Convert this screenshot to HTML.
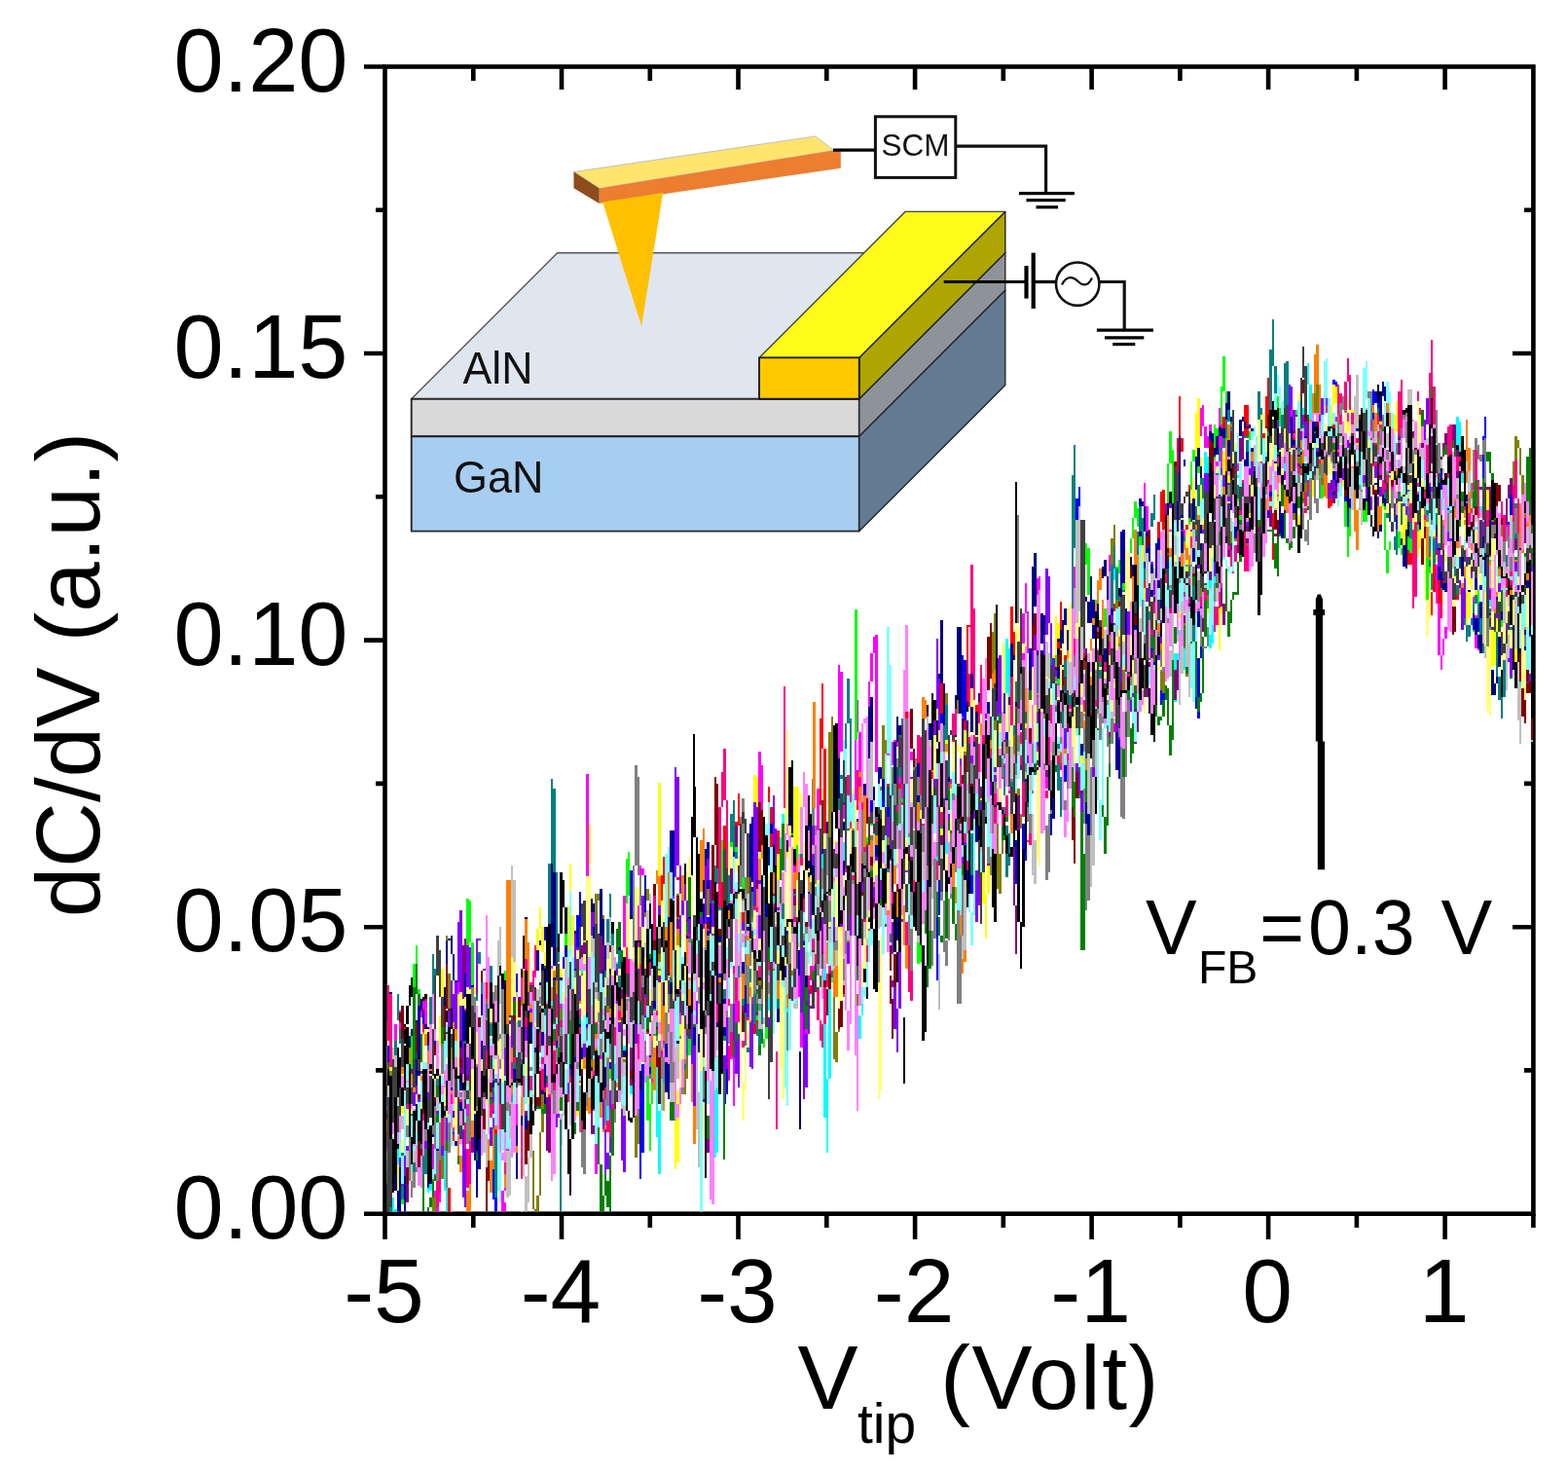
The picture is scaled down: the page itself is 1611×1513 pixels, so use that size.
<!DOCTYPE html>
<html><head><meta charset="utf-8"><title>dC/dV vs Vtip</title>
<style>html,body{margin:0;padding:0;background:#fff;width:1611px;height:1513px;overflow:hidden}</style>
</head><body>
<svg width="1611" height="1513" viewBox="0 0 1611 1513" style="display:block"><defs><clipPath id="pc"><rect x="397.8" y="70.8" width="1180" height="1173.6"/></clipPath></defs><rect x="395.5" y="68.5" width="1179.9" height="1178.2" fill="none" stroke="#000" stroke-width="4.6"/><path d="M374.0,1246.7H395.5M386.0,1099.4H395.5M1566.0,1099.4H1575.4M374.0,952.2H395.5M1554.0,952.2H1575.4M386.0,804.9H395.5M1566.0,804.9H1575.4M374.0,657.6H395.5M1554.0,657.6H1575.4M386.0,510.3H395.5M1566.0,510.3H1575.4M374.0,363.0H395.5M1554.0,363.0H1575.4M386.0,215.8H395.5M1566.0,215.8H1575.4M374.0,68.5H395.5M395.5,1246.7V1273.0M486.3,1246.7V1261.0M486.3,68.5V83.0M577.0,1246.7V1273.0M577.0,68.5V92.0M667.8,1246.7V1261.0M667.8,68.5V83.0M758.5,1246.7V1273.0M758.5,68.5V92.0M849.3,1246.7V1261.0M849.3,68.5V83.0M940.1,1246.7V1273.0M940.1,68.5V92.0M1030.8,1246.7V1261.0M1030.8,68.5V83.0M1121.6,1246.7V1273.0M1121.6,68.5V92.0M1212.4,1246.7V1261.0M1212.4,68.5V83.0M1303.1,1246.7V1273.0M1303.1,68.5V92.0M1393.9,1246.7V1261.0M1393.9,68.5V83.0M1484.6,1246.7V1273.0M1484.6,68.5V92.0M1575.4,1246.7V1261.0" stroke="#000" stroke-width="4.6" fill="none"/><g clip-path="url(#pc)" fill="none" stroke-width="2.40" shape-rendering="crispEdges"><path stroke="#000000" d="M396.7 1132V1160M399.1 1105V1132M401.5 1112V1175M403.9 1175V1225M406.3 1184V1218M408.7 1148V1184M411.1 1103V1148M413.5 1072V1103M415.9 1052V1072M418.3 1033V1052M420.7 1012V1033M423.1 1004V1024M425.5 1024V1050M427.9 1050V1081M430.3 1081V1110M432.7 1072V1115M435.1 1024V1072M437.5 1021V1055M439.9 1055V1086M442.3 1086V1103M444.7 1103V1120M447.1 1115V1117M449.5 1100V1115M451.9 1067V1100M454.3 1043V1067M456.7 1038V1043M459.1 1038V1050M461.4 1050V1076M463.8 1072V1086M466.2 1045V1072M468.6 1040V1062M471.0 1062V1093M473.4 1093V1115M475.8 1115V1134M478.2 1127V1136M480.6 1115V1127M483.0 1064V1115M485.4 1019V1064M487.8 1031V1096M490.2 1096V1144M492.6 1086V1132M495.0 1057V1086M497.4 1060V1064M499.8 1064V1086M502.2 1086V1124M504.6 1122V1141M507.0 1091V1122M509.4 1079V1091M511.8 1074V1079M514.2 1074V1076M516.6 1074V1076M519.0 1069V1074M521.4 1067V1069M523.8 1067V1076M526.2 1076V1088M528.6 1088V1122M531.0 1122V1148M533.4 1057V1132M535.8 995V1057M538.2 961V995M540.6 942V976M543.0 976V1050M545.4 1050V1084M547.8 1045V1069M550.2 1038V1045M552.6 1045V1060M555.0 1060V1081M557.4 1081V1110M559.8 1093V1112M562.2 1072V1093M564.6 1045V1072M567.0 1024V1045M569.4 1026V1050M571.8 1050V1072M574.2 959V1052M576.6 896V959M579.0 904V932M581.4 932V985M583.8 985V1074M586.2 1074V1117M588.6 1079V1103M591.0 1069V1096M593.3 1096V1136M595.7 1105V1146M598.1 1048V1105M600.5 1028V1048M602.9 1016V1028M605.3 1004V1016M607.7 992V1004M610.1 995V1019M612.5 1019V1038M614.9 1012V1033M617.3 997V1012M619.7 1002V1028M622.1 1021V1043M624.5 964V1021M626.9 932V964M629.3 947V971M631.7 971V988M634.1 988V997M636.5 997V1007M638.9 1007V1016M641.3 1016V1045M643.7 1045V1076M646.1 1033V1079M648.5 985V1033M650.9 988V1002M653.3 1002V1024M655.7 1024V1079M658.1 1079V1122M660.5 1055V1108M662.9 1021V1055M665.3 1028V1052M667.7 1052V1064M670.1 1031V1052M672.5 1021V1031M674.9 1028V1040M677.3 1040V1052M679.7 1052V1062M682.1 1055V1064M684.5 1043V1055M686.9 1043V1057M689.3 1057V1076M691.7 1004V1076M694.1 942V1004M696.5 947V1002M698.9 1002V1043M701.3 942V1026M703.7 887V942M706.1 896V920M708.5 906V935M710.9 839V906M713.3 808V860M715.7 860V964M718.1 964V1000M720.5 923V968M722.9 904V923M725.2 894V904M727.6 894V935M730.0 935V983M732.4 956V985M734.8 930V956M737.2 932V968M739.6 968V997M742.0 997V1000M744.4 995V1002M746.8 1002V1024M749.2 1002V1036M751.6 913V1002M754.0 870V913M756.4 896V947M758.8 947V992M761.2 992V1033M763.6 985V1045M766.0 904V985M768.4 892V904M770.8 901V913M773.2 913V940M775.6 940V968M778.0 968V1002M780.4 1002V1031M782.8 985V1026M785.2 954V985M787.6 959V978M790.0 978V990M792.4 990V992M794.8 961V992M797.2 894V961M799.6 865V894M802.0 872V884M804.4 884V899M806.8 899V916M809.2 863V920M811.6 788V863M814.0 781V860M816.4 860V947M818.8 937V947M821.2 930V937M823.6 930V932M826.0 932V935M828.4 920V932M830.8 913V923M833.2 923V954M835.6 954V973M838.0 925V959M840.4 911V940M842.8 940V992M845.2 964V1012M847.6 892V964M850.0 877V906M852.4 906V944M854.7 899V949M857.1 841V899M859.5 841V863M861.9 863V884M864.3 884V904M866.7 904V918M869.1 880V911M871.5 858V880M873.9 870V906M876.3 906V930M878.7 930V937M881.1 928V942M883.5 901V928M885.9 892V937M888.3 937V1009M890.7 947V1026M893.1 841V947M895.5 824V841M897.9 827V829M900.3 829V880M902.7 880V930M905.1 913V928M907.5 892V913M909.9 848V892M912.3 820V848M914.7 836V904M917.1 904V944M919.5 841V916M921.9 803V841M924.3 815V839M926.7 839V848M929.1 841V846M931.5 839V844M933.9 844V848M936.3 848V868M938.7 868V887M941.1 887V889M943.5 889V892M945.9 889V892M948.3 877V892M950.7 791V877M953.1 724V791M955.5 743V815M957.9 815V863M960.3 796V846M962.7 769V796M965.1 779V805M967.5 803V815M969.9 779V803M972.3 772V817M974.7 817V884M977.1 863V899M979.5 817V863M981.9 760V817M984.3 700V760M986.6 700V752M989.0 752V803M991.4 731V796M993.8 678V731M996.2 697V776M998.6 776V832M1001.0 822V829M1003.4 820V824M1005.8 824V836M1008.2 836V848M1010.6 848V860M1013.0 832V865M1015.4 776V832M1017.8 764V836M1020.2 836V932M1022.6 853V947M1025.0 748V853M1027.4 743V752M1029.8 752V762M1032.2 762V800M1034.6 800V834M1037.0 772V824M1039.4 736V772M1041.8 728V736M1044.2 716V728M1046.6 690V716M1049.0 676V719M1051.4 719V805M1053.8 793V836M1056.2 724V793M1058.6 704V724M1061.0 714V726M1063.4 726V745M1065.8 745V769M1068.2 769V774M1070.6 774V779M1073.0 755V776M1075.4 736V755M1077.8 736V738M1080.2 736V738M1082.6 731V736M1085.0 707V731M1087.4 652V707M1089.8 623V652M1092.2 649V704M1094.6 700V726M1097.0 656V700M1099.4 642V678M1101.8 678V731M1104.2 731V745M1106.6 745V750M1109.0 692V752M1111.4 630V692M1113.8 632V731M1116.2 731V820M1118.5 748V810M1120.9 697V748M1123.3 714V788M1125.7 788V836M1128.1 676V796M1130.5 608V676M1132.9 642V714M1135.3 714V745M1137.7 680V724M1140.1 666V683M1142.5 683V707M1144.9 668V714M1147.3 611V668M1149.7 604V613M1152.1 613V623M1154.5 623V625M1156.9 625V630M1159.3 630V632M1161.7 630V632M1164.1 630V635M1166.5 635V637M1168.9 637V640M1171.3 635V637M1173.7 628V635M1176.1 616V628M1178.5 596V616M1180.9 584V596M1183.3 575V584M1185.7 572V594M1188.1 594V625M1190.5 596V628M1192.9 560V596M1195.3 558V587M1197.7 587V616M1200.1 608V616M1202.5 599V608M1204.9 580V599M1207.3 565V580M1209.7 570V584M1212.1 584V592M1214.5 565V584M1216.9 553V565M1219.3 548V553M1221.7 546V556M1224.1 556V572M1226.5 563V577M1228.9 546V563M1231.3 541V556M1233.7 556V572M1236.1 570V575M1238.5 568V570M1240.9 568V570M1243.3 560V568M1245.7 512V560M1248.0 476V512M1250.4 488V539M1252.8 539V570M1255.2 565V570M1257.6 558V565M1260.0 546V558M1262.4 524V546M1264.8 498V524M1267.2 491V498M1269.6 498V510M1272.0 505V512M1274.4 496V505M1276.8 481V496M1279.2 467V481M1281.6 467V479M1284.0 479V491M1286.4 486V491M1288.8 484V488M1291.2 488V508M1293.6 508V520M1296.0 505V517M1298.4 498V505M1300.8 498V500M1303.2 476V500M1305.6 428V476M1308.0 412V428M1310.4 414V416M1312.8 416V450M1315.2 450V496M1317.6 488V503M1320.0 472V488M1322.4 469V472M1324.8 467V469M1327.2 467V491M1329.6 491V512M1332.0 488V508M1334.4 472V488M1336.8 467V472M1339.2 462V467M1341.6 457V462M1344.0 457V469M1346.4 469V491M1348.8 476V500M1351.2 438V476M1353.6 428V445M1356.0 445V469M1358.4 455V474M1360.8 433V455M1363.2 428V433M1365.6 424V428M1368.0 424V452M1370.4 452V476M1372.8 464V474M1375.2 452V464M1377.6 443V452M1379.9 438V448M1382.3 448V472M1384.7 472V484M1387.1 472V479M1389.5 467V472M1391.9 469V472M1394.3 467V472M1396.7 460V467M1399.1 457V488M1401.5 488V527M1403.9 527V532M1406.3 520V527M1408.7 496V520M1411.1 469V496M1413.5 428V469M1415.9 395V428M1418.3 402V431M1420.7 431V457M1423.1 457V484M1425.5 484V498M1427.9 457V486M1430.3 445V467M1432.7 467V505M1435.1 503V520M1437.5 479V503M1439.9 452V479M1442.3 421V452M1444.7 419V488M1447.1 488V570M1449.5 544V572M1451.9 520V544M1454.3 508V520M1456.7 498V508M1459.1 503V524M1461.5 524V548M1463.9 548V568M1466.3 551V577M1468.7 484V551M1471.1 452V484M1473.5 479V527M1475.9 520V544M1478.3 479V520M1480.7 469V491M1483.1 491V520M1485.5 498V522M1487.9 469V498M1490.3 467V524M1492.7 524V582M1495.1 510V580M1497.5 455V510M1499.9 462V505M1502.3 505V546M1504.7 546V572M1507.1 572V589M1509.5 572V584M1511.8 560V572M1514.2 548V560M1516.6 544V556M1519.0 556V572M1521.4 572V601M1523.8 601V632M1526.2 632V649M1528.6 649V659M1531.0 620V661M1533.4 577V620M1535.8 577V584M1538.2 584V601M1540.6 601V668M1543.0 668V721M1545.4 661V709M1547.8 623V661M1550.2 608V623M1552.6 601V608M1555.0 606V616M1557.4 616V620M1559.8 620V623M1562.2 580V623M1564.6 512V580M1567.0 498V565M1569.4 565V649M1571.8 611V659M1574.2 558V611"/><path stroke="#FF0000" d="M396.7 1134V1172M399.1 1100V1134M401.5 1103V1129M403.9 1129V1151M406.3 1124V1146M408.7 1100V1124M411.1 1069V1100M413.5 1052V1069M415.9 1055V1057M418.3 1057V1074M420.7 1074V1105M423.1 1105V1129M425.5 1129V1151M427.9 1151V1158M430.3 1141V1151M432.7 1088V1141M435.1 1028V1088M437.5 1026V1081M439.9 1081V1132M442.3 1124V1132M444.7 1117V1124M447.1 1103V1117M449.5 1093V1103M451.9 1096V1108M454.3 1103V1115M456.7 1076V1103M459.1 1062V1127M461.4 1127V1254M463.8 1225V1304M466.2 1096V1225M468.6 1060V1096M471.0 1064V1069M473.4 1055V1072M475.8 1036V1055M478.2 1016V1036M480.6 1000V1016M483.0 1002V1043M485.4 1043V1081M487.8 1081V1112M490.2 1112V1136M492.6 1074V1122M495.0 1036V1074M497.4 1014V1036M499.8 1002V1026M502.2 1026V1076M504.6 1076V1115M507.0 1115V1144M509.4 1144V1175M511.8 1175V1206M514.2 1156V1213M516.6 1084V1156M519.0 1055V1084M521.4 1031V1055M523.8 1031V1057M526.2 1057V1079M528.6 1079V1086M531.0 1086V1093M533.4 1093V1103M535.8 1103V1108M538.2 1093V1105M540.6 1067V1093M543.0 1028V1067M545.4 1009V1040M547.8 1040V1098M550.2 1093V1117M552.6 1057V1093M555.0 1024V1057M557.4 995V1024M559.8 990V995M562.2 992V997M564.6 995V997M567.0 995V1000M569.4 1000V1055M571.8 1055V1100M574.2 1064V1096M576.6 1043V1064M579.0 1045V1052M581.4 1052V1069M583.8 1069V1103M586.2 1103V1117M588.6 1072V1103M591.0 1062V1072M593.3 1072V1088M595.7 1050V1091M598.1 992V1050M600.5 985V1028M602.9 1028V1081M605.3 1081V1098M607.7 1098V1112M610.1 1064V1110M612.5 1028V1064M614.9 1038V1086M617.3 1086V1124M619.7 1117V1122M622.1 1093V1117M624.5 1040V1093M626.9 1012V1040M629.3 1007V1012M631.7 1000V1007M634.1 992V1000M636.5 988V992M638.9 988V990M641.3 988V1004M643.7 1004V1024M646.1 1024V1057M648.5 1057V1088M650.9 1088V1091M653.3 1079V1088M655.7 1019V1079M658.1 973V1019M660.5 990V1055M662.9 1055V1098M665.3 1000V1072M667.7 959V1000M670.1 983V1036M672.5 1036V1057M674.9 1052V1055M677.3 990V1052M679.7 899V990M682.1 880V956M684.5 956V1057M686.9 1050V1067M689.3 1031V1050M691.7 959V1031M694.1 896V959M696.5 901V949M698.9 949V995M701.3 995V1033M703.7 1033V1060M706.1 1031V1052M708.5 1009V1031M710.9 983V1009M713.3 961V983M715.7 944V961M718.1 940V966M720.5 966V1009M722.9 1009V1019M725.2 1009V1014M727.6 1002V1009M730.0 995V1002M732.4 961V995M734.8 928V961M737.2 930V956M739.6 956V978M742.0 896V964M744.4 848V896M746.8 870V949M749.2 949V997M751.6 964V988M754.0 916V964M756.4 844V916M758.8 815V848M761.2 848V901M763.6 901V954M766.0 954V1009M768.4 980V1019M770.8 937V980M773.2 935V997M775.6 997V1062M778.0 968V1057M780.4 894V968M782.8 904V961M785.2 961V1002M787.6 872V976M790.0 808V872M792.4 829V884M794.8 884V916M797.2 868V899M799.6 853V911M802.0 911V1007M804.4 992V1036M806.8 928V992M809.2 906V928M811.6 896V906M814.0 896V899M816.4 896V899M818.8 868V899M821.2 841V868M823.6 844V868M826.0 868V904M828.4 904V976M830.8 976V1024M833.2 1012V1021M835.6 983V1012M838.0 928V983M840.4 844V928M842.8 738V844M845.2 702V769M847.6 769V870M850.0 870V892M852.4 892V894M854.7 892V896M857.1 896V899M859.5 899V906M861.9 906V916M864.3 916V930M866.7 930V944M869.1 944V961M871.5 961V973M873.9 920V961M876.3 880V920M878.7 832V880M881.1 810V832M883.5 820V836M885.9 836V870M888.3 870V916M890.7 875V928M893.1 805V875M895.5 793V824M897.9 824V858M900.3 858V877M902.7 877V894M905.1 872V894M907.5 848V872M909.9 824V848M912.3 805V824M914.7 803V805M917.1 800V815M919.5 815V846M921.9 834V863M924.3 776V834M926.7 740V776M929.1 721V740M931.5 716V784M933.9 784V882M936.3 882V918M938.7 918V940M941.1 877V942M943.5 808V877M945.9 810V863M948.3 863V911M950.7 887V906M953.1 868V887M955.5 844V868M957.9 827V844M960.3 824V827M962.7 796V824M965.1 731V796M967.5 702V733M969.9 733V786M972.3 786V803M974.7 776V793M977.1 764V776M979.5 755V764M981.9 743V755M984.3 733V743M986.6 733V786M989.0 786V834M991.4 721V822M993.8 642V721M996.2 642V644M998.6 642V664M1001.0 664V724M1003.4 724V762M1005.8 762V776M1008.2 776V781M1010.6 769V776M1013.0 767V774M1015.4 774V784M1017.8 769V786M1020.2 748V769M1022.6 745V779M1025.0 779V817M1027.4 784V817M1029.8 752V784M1032.2 755V764M1034.6 757V772M1037.0 678V757M1039.4 623V678M1041.8 649V740M1044.2 740V793M1046.6 748V781M1049.0 731V748M1051.4 731V733M1053.8 728V731M1056.2 726V728M1058.6 700V726M1061.0 666V700M1063.4 659V724M1065.8 724V798M1068.2 781V803M1070.6 755V781M1073.0 714V755M1075.4 680V714M1077.8 685V721M1080.2 721V750M1082.6 750V760M1085.0 738V767M1087.4 659V738M1089.8 618V659M1092.2 637V673M1094.6 673V688M1097.0 666V680M1099.4 664V680M1101.8 680V704M1104.2 704V721M1106.6 721V733M1109.0 697V736M1111.4 656V697M1113.8 659V714M1116.2 714V767M1118.5 767V791M1120.9 791V810M1123.3 731V796M1125.7 688V731M1128.1 692V709M1130.5 709V719M1132.9 683V709M1135.3 671V683M1137.7 673V676M1140.1 656V676M1142.5 628V656M1144.9 620V628M1147.3 628V637M1149.7 637V668M1152.1 668V704M1154.5 654V704M1156.9 606V654M1159.3 611V659M1161.7 659V697M1164.1 697V700M1166.5 671V700M1168.9 577V671M1171.3 524V577M1173.7 534V563M1176.1 563V604M1178.5 604V656M1180.9 647V676M1183.3 599V647M1185.7 577V599M1188.1 565V577M1190.5 536V565M1192.9 505V536M1195.3 503V546M1197.7 546V589M1200.1 589V611M1202.5 611V632M1204.9 575V623M1207.3 520V575M1209.7 450V520M1212.1 407V450M1214.5 450V565M1216.9 565V625M1219.3 524V592M1221.7 498V524M1224.1 512V536M1226.5 536V548M1228.9 548V558M1231.3 558V568M1233.7 568V580M1236.1 580V594M1238.5 594V606M1240.9 563V604M1243.3 527V563M1245.7 527V529M1248.0 527V532M1250.4 515V527M1252.8 493V515M1255.2 457V493M1257.6 428V457M1260.0 412V428M1262.4 404V433M1264.8 433V481M1267.2 481V498M1269.6 467V486M1272.0 462V467M1274.4 467V474M1276.8 448V474M1279.2 416V448M1281.6 416V460M1284.0 460V496M1286.4 496V498M1288.8 496V498M1291.2 496V498M1293.6 491V496M1296.0 474V491M1298.4 445V474M1300.8 407V445M1303.2 388V440M1305.6 440V541M1308.0 527V575M1310.4 452V527M1312.8 436V460M1315.2 460V493M1317.6 493V498M1320.0 488V493M1322.4 488V517M1324.8 517V544M1327.2 484V539M1329.6 438V484M1332.0 445V481M1334.4 481V508M1336.8 464V498M1339.2 445V464M1341.6 448V457M1344.0 457V462M1346.4 457V460M1348.8 457V460M1351.2 457V460M1353.6 457V460M1356.0 455V457M1358.4 452V455M1360.8 450V452M1363.2 450V486M1365.6 486V522M1368.0 472V520M1370.4 428V472M1372.8 436V469M1375.2 469V493M1377.6 464V488M1379.9 450V464M1382.3 457V481M1384.7 481V493M1387.1 493V496M1389.5 467V493M1391.9 426V467M1394.3 412V433M1396.7 433V462M1399.1 462V479M1401.5 479V493M1403.9 474V496M1406.3 450V474M1408.7 450V481M1411.1 481V508M1413.5 469V503M1415.9 443V469M1418.3 438V443M1420.7 433V438M1423.1 438V452M1425.5 452V469M1427.9 469V491M1430.3 491V508M1432.7 508V515M1435.1 515V517M1437.5 510V515M1439.9 510V517M1442.3 517V527M1444.7 527V551M1447.1 551V580M1449.5 548V580M1451.9 520V548M1454.3 512V520M1456.7 508V512M1459.1 512V544M1461.5 544V563M1463.9 556V560M1466.3 551V570M1468.7 570V613M1471.1 608V632M1473.5 560V608M1475.9 541V572M1478.3 572V620M1480.7 599V635M1483.1 548V599M1485.5 541V548M1487.9 544V548M1490.3 548V592M1492.7 592V635M1495.1 616V635M1497.5 601V616M1499.9 599V601M1502.3 599V601M1504.7 601V616M1507.1 616V623M1509.5 618V620M1511.8 616V618M1514.2 616V618M1516.6 601V618M1519.0 572V601M1521.4 565V592M1523.8 592V628M1526.2 628V644M1528.6 644V654M1531.0 632V656M1533.4 604V632M1535.8 570V604M1538.2 539V570M1540.6 539V541M1543.0 541V551M1545.4 551V592M1547.8 592V620M1550.2 620V630M1552.6 628V635M1555.0 616V628M1557.4 608V649M1559.8 649V721M1562.2 685V745M1564.6 599V685M1567.0 546V599M1569.4 503V546M1571.8 498V560M1574.2 560V630"/><path stroke="#00FF00" d="M396.7 1180V1213M399.1 1151V1180M401.5 1153V1170M403.9 1170V1184M406.3 1146V1177M408.7 1127V1146M411.1 1146V1204M413.5 1204V1237M415.9 1129V1204M418.3 1096V1129M420.7 1098V1105M423.1 1062V1108M425.5 990V1062M427.9 971V1016M430.3 1016V1079M432.7 1079V1115M435.1 1115V1148M437.5 1148V1153M439.9 1153V1156M442.3 1146V1153M444.7 1134V1146M447.1 1108V1134M449.5 1086V1108M451.9 1086V1088M454.3 1084V1086M456.7 1081V1084M459.1 1069V1081M461.4 1048V1069M463.8 1038V1055M466.2 1055V1081M468.6 1081V1086M471.0 1072V1081M473.4 1072V1074M475.8 1074V1076M478.2 1000V1076M480.6 923V1000M483.0 925V968M485.4 968V1014M487.8 1014V1069M490.2 1069V1112M492.6 1112V1115M495.0 1115V1129M497.4 1129V1160M499.8 1153V1180M502.2 1100V1153M504.6 1076V1100M507.0 1098V1136M509.4 1136V1151M511.8 1151V1156M514.2 1088V1158M516.6 1004V1088M519.0 997V1105M521.4 1105V1223M523.8 1122V1220M526.2 1036V1122M528.6 1038V1060M531.0 1060V1086M533.4 1086V1127M535.8 1120V1151M538.2 1026V1120M540.6 973V1026M543.0 988V1021M545.4 1021V1036M547.8 1036V1038M550.2 1036V1038M552.6 1038V1045M555.0 1028V1045M557.4 1007V1028M559.8 1002V1014M562.2 1014V1028M564.6 1028V1040M567.0 1040V1055M569.4 1055V1096M571.8 1096V1129M574.2 1124V1129M576.6 1096V1124M579.0 1009V1096M581.4 959V1009M583.8 971V1000M586.2 1000V1033M588.6 1033V1074M591.0 1060V1088M593.3 1016V1060M595.7 995V1016M598.1 978V995M600.5 976V1024M602.9 1024V1079M605.3 1031V1081M607.7 983V1031M610.1 988V1060M612.5 1060V1120M614.9 1076V1115M617.3 1048V1076M619.7 1055V1079M622.1 1079V1096M624.5 1096V1103M626.9 1088V1108M629.3 1050V1088M631.7 1026V1050M634.1 1012V1026M636.5 1007V1026M638.9 1026V1052M641.3 978V1057M643.7 882V978M646.1 875V920M648.5 920V971M650.9 971V1021M653.3 1021V1064M655.7 971V1052M658.1 911V971M660.5 932V1019M662.9 1019V1093M665.3 1093V1151M667.7 1134V1182M670.1 1026V1134M672.5 980V1026M674.9 1026V1108M677.3 1105V1132M679.7 1067V1105M682.1 1057V1072M684.5 1072V1086M686.9 983V1088M689.3 865V983M691.7 865V918M694.1 918V964M696.5 959V964M698.9 954V964M701.3 964V1002M703.7 1002V1038M706.1 1038V1067M708.5 1067V1084M710.9 1055V1074M713.3 1019V1055M715.7 968V1019M718.1 949V968M720.5 961V978M722.9 942V983M725.2 889V942M727.6 882V932M730.0 932V992M732.4 956V995M734.8 916V956M737.2 882V916M739.6 856V882M742.0 863V906M744.4 906V935M746.8 899V928M749.2 870V899M751.6 846V870M754.0 834V851M756.4 851V884M758.8 884V896M761.2 887V894M763.6 887V916M766.0 916V959M768.4 949V966M770.8 928V949M773.2 925V980M775.6 980V1036M778.0 1036V1048M780.4 1048V1060M782.8 1060V1069M785.2 1067V1076M787.6 1028V1067M790.0 1004V1028M792.4 1009V1021M794.8 1007V1026M797.2 964V1007M799.6 944V964M802.0 961V988M804.4 961V997M806.8 911V961M809.2 882V911M811.6 858V882M814.0 856V858M816.4 858V863M818.8 863V908M821.2 908V949M823.6 949V961M826.0 961V971M828.4 916V961M830.8 887V916M833.2 894V913M835.6 913V935M838.0 935V959M840.4 959V968M842.8 937V959M845.2 923V937M847.6 913V923M850.0 908V949M852.4 949V1002M854.7 952V1009M857.1 887V952M859.5 872V887M861.9 860V872M864.3 860V865M866.7 865V880M869.1 880V925M871.5 925V959M873.9 923V949M876.3 906V923M878.7 908V911M881.1 899V911M883.5 877V899M885.9 870V880M888.3 880V896M890.7 860V901M893.1 808V860M895.5 800V848M897.9 848V906M900.3 906V911M902.7 908V911M905.1 875V908M907.5 848V875M909.9 848V853M912.3 853V860M914.7 860V868M917.1 865V872M919.5 848V865M921.9 832V848M924.3 820V832M926.7 812V829M929.1 829V856M931.5 856V865M933.9 853V860M936.3 848V853M938.7 844V848M941.1 844V916M943.5 916V990M945.9 875V988M948.3 779V875M950.7 781V800M953.1 800V815M955.5 764V805M957.9 738V764M960.3 755V796M962.7 796V820M965.1 774V805M967.5 760V781M969.9 781V815M972.3 815V827M974.7 796V815M977.1 767V796M979.5 738V767M981.9 733V781M984.3 781V834M986.6 822V834M989.0 812V822M991.4 812V815M993.8 815V820M996.2 820V824M998.6 812V827M1001.0 767V812M1003.4 733V767M1005.8 719V733M1008.2 709V719M1010.6 714V719M1013.0 700V721M1015.4 666V700M1017.8 656V680M1020.2 680V714M1022.6 714V760M1025.0 760V808M1027.4 762V810M1029.8 716V762M1032.2 697V716M1034.6 680V697M1037.0 690V733M1039.4 733V764M1041.8 726V755M1044.2 707V726M1046.6 716V740M1049.0 740V750M1051.4 745V748M1053.8 740V745M1056.2 738V740M1058.6 724V738M1061.0 707V724M1063.4 692V707M1065.8 678V692M1068.2 676V678M1070.6 673V676M1073.0 676V728M1075.4 728V772M1077.8 762V769M1080.2 740V762M1082.6 688V740M1085.0 654V688M1087.4 668V704M1089.8 704V726M1092.2 726V733M1094.6 733V750M1097.0 750V772M1099.4 745V776M1101.8 697V745M1104.2 690V704M1106.6 704V724M1109.0 668V724M1111.4 606V668M1113.8 580V606M1116.2 558V580M1118.5 563V611M1120.9 611V647M1123.3 628V644M1125.7 616V628M1128.1 616V618M1130.5 613V618M1132.9 618V625M1135.3 625V644M1137.7 644V673M1140.1 673V695M1142.5 695V714M1144.9 659V716M1147.3 582V659M1149.7 575V589M1152.1 589V606M1154.5 594V606M1156.9 580V594M1159.3 568V580M1161.7 553V568M1164.1 532V553M1166.5 515V532M1168.9 522V541M1171.3 541V594M1173.7 594V688M1176.1 688V733M1178.5 644V702M1180.9 620V644M1183.3 620V623M1185.7 596V620M1188.1 568V596M1190.5 563V618M1192.9 618V683M1195.3 604V688M1197.7 520V604M1200.1 476V520M1202.5 443V476M1204.9 462V572M1207.3 572V654M1209.7 594V642M1212.1 565V594M1214.5 570V577M1216.9 570V582M1219.3 546V570M1221.7 512V546M1224.1 474V512M1226.5 462V474M1228.9 464V469M1231.3 469V486M1233.7 486V505M1236.1 505V517M1238.5 517V524M1240.9 524V539M1243.3 539V551M1245.7 481V544M1248.0 436V481M1250.4 440V462M1252.8 455V474M1255.2 397V455M1257.6 366V402M1260.0 402V479M1262.4 479V512M1264.8 491V503M1267.2 486V491M1269.6 491V498M1272.0 498V524M1274.4 524V556M1276.8 539V558M1279.2 515V539M1281.6 479V515M1284.0 443V479M1286.4 450V496M1288.8 496V534M1291.2 505V529M1293.6 491V505M1296.0 496V510M1298.4 510V520M1300.8 491V510M1303.2 481V491M1305.6 491V508M1308.0 476V512M1310.4 419V476M1312.8 407V419M1315.2 419V438M1317.6 438V469M1320.0 469V503M1322.4 464V505M1324.8 428V464M1327.2 428V433M1329.6 433V438M1332.0 421V436M1334.4 409V421M1336.8 419V445M1339.2 445V462M1341.6 450V460M1344.0 438V450M1346.4 424V438M1348.8 419V433M1351.2 433V460M1353.6 460V484M1356.0 484V508M1358.4 484V512M1360.8 448V484M1363.2 433V448M1365.6 419V433M1368.0 421V452M1370.4 452V479M1372.8 479V488M1375.2 488V498M1377.6 474V493M1379.9 462V484M1382.3 484V541M1384.7 541V572M1387.1 505V551M1389.5 486V505M1391.9 491V498M1394.3 498V508M1396.7 508V512M1399.1 512V524M1401.5 524V536M1403.9 488V536M1406.3 438V488M1408.7 438V457M1411.1 457V474M1413.5 474V481M1415.9 481V488M1418.3 488V498M1420.7 498V520M1423.1 520V565M1425.5 565V589M1427.9 512V565M1430.3 491V512M1432.7 500V522M1435.1 522V541M1437.5 541V563M1439.9 563V570M1442.3 570V575M1444.7 565V575M1447.1 551V565M1449.5 551V568M1451.9 568V584M1454.3 563V582M1456.7 539V563M1459.1 498V539M1461.5 469V498M1463.9 493V572M1466.3 572V620M1468.7 558V601M1471.1 529V558M1473.5 512V529M1475.9 508V522M1478.3 522V544M1480.7 544V556M1483.1 556V563M1485.5 563V565M1487.9 563V565M1490.3 556V565M1492.7 548V556M1495.1 551V582M1497.5 582V608M1499.9 584V604M1502.3 570V584M1504.7 570V572M1507.1 570V580M1509.5 580V599M1511.8 599V623M1514.2 623V649M1516.6 632V659M1519.0 592V632M1521.4 575V592M1523.8 570V575M1526.2 570V594M1528.6 594V623M1531.0 601V625M1533.4 575V601M1535.8 575V632M1538.2 632V680M1540.6 644V676M1543.0 618V644M1545.4 604V618M1547.8 596V604M1550.2 604V625M1552.6 625V640M1555.0 640V644M1557.4 644V659M1559.8 659V683M1562.2 666V690M1564.6 630V666M1567.0 623V630M1569.4 630V642M1571.8 642V668M1574.2 668V692"/><path stroke="#0000FF" d="M396.7 1124V1180M399.1 1074V1124M401.5 1076V1103M403.9 1103V1124M406.3 1117V1122M408.7 1112V1124M411.1 1124V1158M413.5 1158V1177M415.9 1115V1158M418.3 1093V1115M420.7 1098V1105M423.1 1105V1134M425.5 1134V1172M427.9 1165V1182M430.3 1144V1165M432.7 1103V1144M435.1 1060V1103M437.5 1057V1132M439.9 1132V1199M442.3 1117V1194M444.7 1057V1117M447.1 1062V1100M449.5 1100V1127M451.9 1110V1124M454.3 1100V1110M456.7 1100V1103M459.1 1100V1120M461.4 1120V1156M463.8 1141V1170M466.2 1093V1141M468.6 1072V1093M471.0 1060V1072M473.4 1026V1060M475.8 988V1026M478.2 985V1014M480.6 1014V1043M483.0 1043V1072M485.4 1072V1096M487.8 1096V1115M490.2 1115V1129M492.6 1129V1134M495.0 1120V1139M497.4 1064V1120M499.8 1038V1064M502.2 1048V1072M504.6 1072V1136M507.0 1136V1232M509.4 1218V1261M511.8 1158V1218M514.2 1110V1158M516.6 1064V1110M519.0 1052V1064M521.4 1040V1052M523.8 1040V1067M526.2 1067V1091M528.6 1036V1084M531.0 1000V1036M533.4 1024V1124M535.8 1124V1189M538.2 1156V1182M540.6 1144V1156M543.0 1144V1148M545.4 1134V1151M547.8 1100V1134M550.2 1055V1100M552.6 1002V1055M555.0 973V1002M557.4 954V973M559.8 952V966M562.2 966V983M564.6 983V1031M567.0 1031V1076M569.4 1038V1072M571.8 1009V1038M574.2 1016V1060M576.6 1060V1088M579.0 1040V1076M581.4 1019V1040M583.8 1028V1045M586.2 1045V1067M588.6 1067V1088M591.0 1038V1098M593.3 940V1038M595.7 916V971M598.1 971V1048M600.5 1048V1060M602.9 1052V1055M605.3 1052V1076M607.7 1076V1103M610.1 1086V1103M612.5 1072V1086M614.9 1064V1072M617.3 1057V1064M619.7 1064V1086M622.1 1086V1098M624.5 1098V1100M626.9 1084V1098M629.3 1052V1084M631.7 1036V1052M634.1 1028V1036M636.5 1024V1048M638.9 1048V1081M641.3 1057V1086M643.7 1021V1057M646.1 959V1021M648.5 894V959M650.9 894V942M653.3 942V1000M655.7 1000V1120M658.1 1120V1211M660.5 1074V1184M662.9 1004V1074M665.3 1007V1014M667.7 1009V1016M670.1 997V1009M672.5 978V997M674.9 954V978M677.3 947V959M679.7 959V980M682.1 956V983M684.5 923V956M686.9 920V966M689.3 966V1019M691.7 1019V1031M694.1 1031V1040M696.5 1036V1040M698.9 1031V1036M701.3 1031V1036M703.7 1033V1038M706.1 1021V1033M708.5 1012V1021M710.9 1000V1012M713.3 995V1012M715.7 1012V1043M718.1 1028V1055M720.5 988V1028M722.9 964V988M725.2 944V964M727.6 942V961M730.0 961V980M732.4 980V983M734.8 980V983M737.2 980V997M739.6 997V1021M742.0 1021V1086M744.4 1086V1134M746.8 1096V1124M749.2 1024V1096M751.6 892V1024M754.0 824V892M756.4 877V980M758.8 980V1021M761.2 980V1004M763.6 966V980M766.0 956V966M768.4 928V956M770.8 894V928M773.2 892V906M775.6 906V920M778.0 872V918M780.4 832V872M782.8 834V856M785.2 856V892M787.6 892V968M790.0 968V1019M792.4 980V1009M794.8 949V980M797.2 911V949M799.6 896V923M802.0 923V968M804.4 968V983M806.8 959V973M809.2 956V959M811.6 956V959M814.0 956V959M816.4 959V961M818.8 961V971M821.2 971V980M823.6 973V980M826.0 949V973M828.4 872V949M830.8 822V872M833.2 846V916M835.6 916V956M838.0 904V940M840.4 882V904M842.8 875V882M845.2 872V906M847.6 906V959M850.0 956V968M852.4 942V956M854.7 899V942M857.1 856V899M859.5 856V904M861.9 904V949M864.3 911V947M866.7 882V911M869.1 889V920M871.5 920V942M873.9 937V940M876.3 932V937M878.7 928V932M881.1 916V928M883.5 901V916M885.9 894V916M888.3 916V949M890.7 896V959M893.1 815V896M895.5 800V834M897.9 834V872M900.3 863V875M902.7 851V863M905.1 832V851M907.5 817V832M909.9 820V829M912.3 829V839M914.7 839V851M917.1 846V860M919.5 812V846M921.9 796V829M924.3 829V894M926.7 894V923M929.1 923V928M931.5 928V932M933.9 932V942M936.3 923V942M938.7 901V923M941.1 899V901M943.5 901V904M945.9 904V918M948.3 918V930M950.7 858V920M953.1 810V858M955.5 805V810M957.9 803V841M960.3 841V949M962.7 940V1007M965.1 796V940M967.5 733V796M969.9 781V868M972.3 856V894M974.7 796V856M977.1 784V827M979.5 827V882M981.9 877V889M984.3 863V877M986.6 762V863M989.0 673V762M991.4 678V740M993.8 740V805M996.2 805V872M998.6 872V918M1001.0 896V913M1003.4 856V896M1005.8 784V856M1008.2 750V784M1010.6 757V767M1013.0 767V791M1015.4 791V822M1017.8 772V832M1020.2 692V772M1022.6 683V700M1025.0 700V721M1027.4 704V724M1029.8 688V704M1032.2 692V745M1034.6 745V791M1037.0 774V788M1039.4 762V784M1041.8 784V863M1044.2 863V908M1046.6 851V892M1049.0 832V851M1051.4 846V875M1053.8 841V884M1056.2 772V841M1058.6 752V772M1061.0 752V755M1063.4 731V752M1065.8 704V731M1068.2 704V769M1070.6 769V836M1073.0 798V834M1075.4 767V798M1077.8 762V767M1080.2 750V762M1082.6 724V750M1085.0 704V724M1087.4 702V704M1089.8 700V726M1092.2 726V779M1094.6 779V803M1097.0 798V800M1099.4 784V798M1101.8 762V784M1104.2 649V762M1106.6 512V649M1109.0 500V601M1111.4 601V709M1113.8 690V709M1116.2 673V690M1118.5 676V692M1120.9 692V712M1123.3 712V743M1125.7 743V762M1128.1 690V743M1130.5 661V690M1132.9 661V664M1135.3 652V661M1137.7 635V652M1140.1 630V649M1142.5 649V678M1144.9 673V685M1147.3 656V673M1149.7 654V666M1152.1 666V676M1154.5 676V690M1156.9 690V702M1159.3 702V707M1161.7 702V712M1164.1 659V702M1166.5 630V659M1168.9 632V637M1171.3 637V647M1173.7 647V661M1176.1 661V668M1178.5 656V664M1180.9 654V666M1183.3 666V685M1185.7 640V690M1188.1 575V640M1190.5 565V637M1192.9 637V724M1195.3 644V728M1197.7 563V644M1200.1 565V596M1202.5 596V623M1204.9 620V623M1207.3 620V623M1209.7 623V630M1212.1 625V632M1214.5 601V625M1216.9 589V601M1219.3 594V604M1221.7 604V618M1224.1 618V632M1226.5 632V676M1228.9 676V728M1231.3 676V738M1233.7 596V676M1236.1 572V596M1238.5 553V572M1240.9 553V582M1243.3 582V604M1245.7 604V606M1248.0 601V608M1250.4 572V601M1252.8 553V572M1255.2 556V558M1257.6 544V558M1260.0 508V544M1262.4 493V508M1264.8 496V500M1267.2 500V522M1269.6 522V553M1272.0 529V560M1274.4 491V529M1276.8 488V505M1279.2 505V524M1281.6 524V536M1284.0 536V548M1286.4 524V546M1288.8 510V524M1291.2 512V524M1293.6 524V532M1296.0 532V534M1298.4 534V536M1300.8 532V534M1303.2 510V532M1305.6 469V510M1308.0 445V469M1310.4 433V445M1312.8 431V460M1315.2 460V498M1317.6 464V503M1320.0 419V464M1322.4 419V452M1324.8 452V486M1327.2 486V510M1329.6 510V532M1332.0 496V527M1334.4 474V496M1336.8 481V503M1339.2 503V517M1341.6 488V510M1344.0 462V488M1346.4 426V462M1348.8 414V433M1351.2 433V464M1353.6 462V474M1356.0 445V462M1358.4 431V445M1360.8 416V431M1363.2 414V431M1365.6 431V450M1368.0 416V448M1370.4 390V416M1372.8 392V407M1375.2 407V421M1377.6 421V438M1379.9 438V467M1382.3 467V515M1384.7 515V541M1387.1 486V522M1389.5 460V486M1391.9 440V460M1394.3 431V440M1396.7 426V431M1399.1 424V450M1401.5 450V484M1403.9 484V491M1406.3 491V496M1408.7 445V496M1411.1 400V445M1413.5 402V414M1415.9 414V426M1418.3 426V443M1420.7 443V455M1423.1 419V445M1425.5 404V421M1427.9 421V457M1430.3 457V500M1432.7 500V544M1435.1 529V558M1437.5 481V529M1439.9 472V486M1442.3 486V503M1444.7 481V505M1447.1 457V481M1449.5 457V469M1451.9 469V484M1454.3 484V486M1456.7 486V488M1459.1 479V486M1461.5 474V481M1463.9 481V503M1466.3 503V515M1468.7 512V515M1471.1 512V515M1473.5 515V517M1475.9 508V520M1478.3 488V508M1480.7 484V532M1483.1 532V596M1485.5 582V606M1487.9 551V582M1490.3 551V553M1492.7 553V558M1495.1 558V577M1497.5 577V594M1499.9 548V587M1502.3 522V548M1504.7 522V527M1507.1 527V541M1509.5 541V563M1511.8 563V599M1514.2 599V647M1516.6 647V666M1519.0 620V649M1521.4 544V620M1523.8 448V544M1526.2 428V503M1528.6 503V594M1531.0 568V601M1533.4 534V568M1535.8 536V584M1538.2 584V625M1540.6 608V623M1543.0 594V608M1545.4 601V623M1547.8 611V637M1550.2 536V611M1552.6 496V536M1555.0 532V608M1557.4 608V642M1559.8 616V632M1562.2 601V616M1564.6 592V601M1567.0 580V592M1569.4 572V580M1571.8 570V587M1574.2 587V604"/><path stroke="#00FFFF" d="M396.7 1117V1139M399.1 1100V1117M401.5 1112V1230M403.9 1230V1321M406.3 1242V1307M408.7 1180V1242M411.1 1122V1180M413.5 1088V1122M415.9 1098V1124M418.3 1124V1141M420.7 1141V1153M423.1 1153V1160M425.5 1160V1163M427.9 1163V1165M430.3 1163V1165M432.7 1127V1163M435.1 1084V1127M437.5 1084V1156M439.9 1156V1225M442.3 1206V1223M444.7 1184V1206M447.1 1146V1184M449.5 1117V1146M451.9 1122V1139M454.3 1139V1170M456.7 1170V1223M459.1 1211V1249M461.4 1134V1211M463.8 1105V1134M466.2 1110V1117M468.6 1117V1132M471.0 1132V1148M473.4 1132V1151M475.8 1110V1132M478.2 1108V1110M480.6 1110V1112M483.0 1112V1139M485.4 1139V1160M487.8 1148V1158M490.2 1139V1148M492.6 1132V1139M495.0 1117V1132M497.4 1098V1117M499.8 1086V1110M502.2 1110V1156M504.6 1156V1175M507.0 1172V1175M509.4 1165V1172M511.8 1158V1165M514.2 1144V1158M516.6 1129V1144M519.0 1127V1129M521.4 1129V1132M523.8 1132V1139M526.2 1139V1146M528.6 1146V1170M531.0 1170V1189M533.4 1088V1170M535.8 1033V1088M538.2 1043V1076M540.6 1076V1096M543.0 1088V1093M545.4 1074V1088M547.8 1048V1074M550.2 1019V1048M552.6 988V1019M555.0 983V1028M557.4 1028V1086M559.8 1086V1096M562.2 1096V1098M564.6 1055V1096M567.0 1019V1055M569.4 1021V1055M571.8 1055V1084M574.2 1084V1098M576.6 1098V1108M579.0 1060V1098M581.4 1038V1060M583.8 1040V1043M586.2 1043V1074M588.6 1074V1132M591.0 1132V1151M593.3 1127V1141M595.7 1067V1127M598.1 988V1067M600.5 976V1012M602.9 1012V1052M605.3 1040V1055M607.7 1026V1040M610.1 1028V1088M612.5 1088V1139M614.9 1064V1127M617.3 1021V1064M619.7 1045V1136M622.1 1136V1192M624.5 1064V1156M626.9 1019V1064M629.3 1045V1100M631.7 1072V1124M634.1 988V1072M636.5 964V1014M638.9 1014V1086M641.3 1045V1100M643.7 978V1045M646.1 973V1048M648.5 1048V1124M650.9 1052V1122M653.3 990V1052M655.7 978V990M658.1 968V978M660.5 971V973M662.9 973V976M665.3 959V973M667.7 954V959M670.1 959V973M672.5 973V1048M674.9 1048V1168M677.3 1141V1206M679.7 1048V1141M682.1 1019V1048M684.5 1007V1019M686.9 1004V1009M689.3 1009V1012M691.7 1012V1014M694.1 1009V1012M696.5 1009V1019M698.9 1019V1028M701.3 973V1019M703.7 944V973M706.1 944V949M708.5 949V978M710.9 978V1036M713.3 1036V1064M715.7 1019V1048M718.1 1009V1019M720.5 1009V1012M722.9 978V1009M725.2 937V978M727.6 930V937M730.0 928V930M732.4 928V1062M734.8 1062V1189M737.2 1103V1184M739.6 1033V1103M742.0 1024V1033M744.4 1016V1024M746.8 1009V1016M749.2 1004V1014M751.6 1014V1036M754.0 1009V1048M756.4 940V1009M758.8 911V940M761.2 925V949M763.6 949V990M766.0 990V1036M768.4 1026V1043M770.8 1004V1026M773.2 1002V1004M775.6 1002V1004M778.0 990V1002M780.4 978V990M782.8 949V978M785.2 928V949M787.6 944V1002M790.0 1002V1038M792.4 947V1014M794.8 911V947M797.2 928V961M799.6 932V973M802.0 860V932M804.4 836V930M806.8 930V1064M809.2 1002V1093M811.6 887V1002M814.0 877V916M816.4 916V961M818.8 944V959M821.2 930V944M823.6 935V980M826.0 980V1014M828.4 954V1002M830.8 920V954M833.2 930V952M835.6 949V964M838.0 918V949M840.4 894V918M842.8 882V894M845.2 877V985M847.6 985V1148M850.0 1108V1184M852.4 1007V1108M854.7 973V1007M857.1 949V973M859.5 894V949M861.9 844V894M864.3 844V865M866.7 865V884M869.1 884V899M871.5 899V908M873.9 894V906M876.3 889V930M878.7 930V1031M881.1 1031V1079M883.5 1043V1067M885.9 990V1043M888.3 923V990M890.7 892V923M893.1 872V892M895.5 868V894M897.9 894V923M900.3 906V925M902.7 887V906M905.1 863V887M907.5 844V863M909.9 851V889M912.3 889V918M914.7 911V918M917.1 901V911M919.5 887V901M921.9 877V887M924.3 887V904M926.7 865V911M929.1 788V865M931.5 767V832M933.9 832V925M936.3 896V942M938.7 841V896M941.1 822V841M943.5 805V822M945.9 784V805M948.3 767V784M950.7 774V822M953.1 822V860M955.5 832V853M957.9 817V832M960.3 829V865M962.7 865V884M965.1 856V875M967.5 846V858M969.9 858V877M972.3 853V882M974.7 808V853M977.1 793V808M979.5 786V793M981.9 786V829M984.3 829V877M986.6 824V877M989.0 779V824M991.4 781V798M993.8 798V817M996.2 817V839M998.6 839V853M1001.0 827V846M1003.4 817V827M1005.8 820V827M1008.2 791V832M1010.6 714V791M1013.0 688V748M1015.4 748V841M1017.8 812V865M1020.2 740V812M1022.6 731V767M1025.0 767V805M1027.4 805V820M1029.8 820V832M1032.2 733V824M1034.6 656V733M1037.0 666V728M1039.4 728V779M1041.8 779V810M1044.2 803V827M1046.6 743V803M1049.0 707V743M1051.4 697V707M1053.8 692V740M1056.2 740V820M1058.6 810V841M1061.0 767V810M1063.4 750V767M1065.8 740V750M1068.2 738V767M1070.6 767V798M1073.0 736V796M1075.4 685V736M1077.8 695V748M1080.2 748V788M1082.6 769V784M1085.0 748V769M1087.4 716V748M1089.8 700V716M1092.2 709V726M1094.6 714V733M1097.0 680V714M1099.4 671V690M1101.8 690V719M1104.2 719V724M1106.6 716V721M1109.0 704V716M1111.4 690V704M1113.8 690V716M1116.2 716V740M1118.5 683V733M1120.9 644V683M1123.3 649V673M1125.7 673V688M1128.1 673V685M1130.5 666V676M1132.9 676V697M1135.3 692V707M1137.7 666V692M1140.1 618V666M1142.5 558V618M1144.9 544V596M1147.3 596V666M1149.7 666V685M1152.1 685V700M1154.5 700V712M1156.9 712V724M1159.3 671V719M1161.7 630V671M1164.1 635V649M1166.5 649V666M1168.9 666V692M1171.3 690V707M1173.7 649V690M1176.1 628V649M1178.5 647V680M1180.9 680V692M1183.3 676V685M1185.7 671V678M1188.1 678V688M1190.5 656V688M1192.9 618V656M1195.3 616V635M1197.7 635V654M1200.1 618V654M1202.5 592V618M1204.9 601V671M1207.3 671V721M1209.7 671V709M1212.1 647V671M1214.5 654V676M1216.9 656V688M1219.3 596V656M1221.7 572V596M1224.1 589V616M1226.5 616V623M1228.9 623V625M1231.3 599V623M1233.7 568V599M1236.1 517V568M1238.5 464V517M1240.9 469V575M1243.3 575V666M1245.7 625V661M1248.0 584V625M1250.4 532V584M1252.8 498V532M1255.2 498V500M1257.6 498V515M1260.0 515V548M1262.4 548V563M1264.8 522V548M1267.2 503V522M1269.6 491V503M1272.0 488V491M1274.4 491V496M1276.8 496V520M1279.2 520V544M1281.6 544V548M1284.0 548V551M1286.4 536V551M1288.8 524V536M1291.2 532V563M1293.6 563V582M1296.0 548V575M1298.4 515V548M1300.8 476V515M1303.2 457V476M1305.6 474V503M1308.0 493V512M1310.4 462V493M1312.8 455V462M1315.2 460V469M1317.6 469V476M1320.0 476V484M1322.4 484V486M1324.8 486V488M1327.2 488V493M1329.6 493V500M1332.0 484V498M1334.4 469V484M1336.8 445V469M1339.2 419V445M1341.6 388V419M1344.0 373V395M1346.4 395V438M1348.8 438V455M1351.2 452V455M1353.6 452V460M1356.0 460V472M1358.4 472V474M1360.8 472V474M1363.2 472V479M1365.6 479V488M1368.0 464V486M1370.4 443V464M1372.8 433V443M1375.2 426V433M1377.6 433V455M1379.9 455V469M1382.3 469V472M1384.7 467V472M1387.1 460V467M1389.5 455V460M1391.9 452V455M1394.3 450V452M1396.7 445V450M1399.1 445V462M1401.5 462V481M1403.9 481V486M1406.3 486V488M1408.7 481V488M1411.1 474V481M1413.5 460V474M1415.9 448V460M1418.3 457V493M1420.7 493V517M1423.1 472V505M1425.5 452V472M1427.9 457V469M1430.3 469V479M1432.7 479V488M1435.1 488V500M1437.5 500V512M1439.9 512V520M1442.3 520V524M1444.7 472V524M1447.1 414V472M1449.5 412V445M1451.9 445V474M1454.3 452V472M1456.7 438V452M1459.1 448V500M1461.5 500V536M1463.9 524V534M1466.3 520V532M1468.7 532V565M1471.1 556V582M1473.5 505V556M1475.9 486V505M1478.3 496V505M1480.7 505V529M1483.1 529V556M1485.5 529V558M1487.9 496V529M1490.3 493V496M1492.7 496V498M1495.1 457V496M1497.5 428V457M1499.9 433V464M1502.3 464V496M1504.7 496V529M1507.1 529V551M1509.5 534V546M1511.8 529V534M1514.2 534V548M1516.6 541V553M1519.0 524V541M1521.4 520V529M1523.8 529V541M1526.2 541V580M1528.6 580V623M1531.0 589V628M1533.4 551V589M1535.8 551V556M1538.2 556V560M1540.6 560V565M1543.0 565V582M1545.4 582V642M1547.8 642V680M1550.2 596V659M1552.6 563V596M1555.0 570V584M1557.4 584V625M1559.8 625V692M1562.2 688V712M1564.6 652V688M1567.0 594V652M1569.4 529V594M1571.8 524V637M1574.2 637V762"/><path stroke="#FF00FF" d="M396.7 1088V1103M399.1 1103V1112M401.5 1108V1112M403.9 1093V1108M406.3 1052V1093M408.7 1026V1052M411.1 1038V1076M413.5 1076V1117M415.9 1117V1160M418.3 1160V1187M420.7 1187V1199M423.1 1158V1204M425.5 1086V1158M427.9 1057V1086M430.3 1045V1057M432.7 1036V1045M435.1 1028V1036M437.5 1028V1072M439.9 1072V1117M442.3 1117V1175M444.7 1175V1223M447.1 1223V1240M449.5 1235V1249M451.9 1182V1235M454.3 1151V1182M456.7 1153V1156M459.1 1136V1156M461.4 1096V1136M463.8 1079V1110M466.2 1110V1158M468.6 1093V1172M471.0 988V1093M473.4 968V988M475.8 980V995M478.2 995V1079M480.6 1079V1165M483.0 1129V1163M485.4 1098V1129M487.8 1088V1098M490.2 1081V1088M492.6 1084V1093M495.0 1093V1100M497.4 1081V1096M499.8 1074V1086M502.2 1086V1112M504.6 1112V1124M507.0 1103V1117M509.4 1100V1105M511.8 1105V1112M514.2 1112V1182M516.6 1182V1264M519.0 1208V1271M521.4 1141V1208M523.8 1064V1141M526.2 1000V1064M528.6 1009V1091M531.0 1091V1156M533.4 1057V1136M535.8 1004V1057M538.2 1016V1055M540.6 1055V1074M543.0 1028V1060M545.4 1009V1028M547.8 997V1009M550.2 995V1004M552.6 1004V1019M555.0 1019V1031M557.4 1031V1043M559.8 1043V1050M562.2 1050V1055M564.6 1024V1055M567.0 992V1024M569.4 997V1038M571.8 1038V1069M574.2 1045V1064M576.6 1031V1045M579.0 1040V1072M581.4 1072V1088M583.8 1055V1079M586.2 1036V1055M588.6 1019V1036M591.0 1014V1024M593.3 1024V1036M595.7 1036V1045M598.1 1045V1050M600.5 1024V1050M602.9 992V1024M605.3 990V1026M607.7 1026V1067M610.1 1067V1141M612.5 1141V1206M614.9 1110V1192M617.3 1052V1110M619.7 1062V1098M622.1 1098V1120M624.5 1079V1108M626.9 1050V1079M629.3 1024V1050M631.7 1012V1033M634.1 1033V1064M636.5 1016V1074M638.9 935V1016M641.3 920V1002M643.7 1002V1100M646.1 1074V1108M648.5 1038V1074M650.9 1009V1038M653.3 978V1009M655.7 928V978M658.1 889V928M660.5 892V899M662.9 899V942M665.3 942V1048M667.7 1048V1108M670.1 1108V1112M672.5 1081V1117M674.9 1019V1081M677.3 1000V1019M679.7 1007V1016M682.1 1016V1026M684.5 1026V1038M686.9 964V1038M689.3 877V964M691.7 877V918M694.1 918V961M696.5 961V1021M698.9 1021V1069M701.3 1002V1057M703.7 956V1002M706.1 932V956M708.5 920V935M710.9 935V973M713.3 973V990M715.7 940V973M718.1 928V959M720.5 959V1009M722.9 1009V1021M725.2 995V1012M727.6 954V995M730.0 906V954M732.4 906V978M734.8 978V1050M737.2 1050V1064M739.6 1057V1074M742.0 956V1057M744.4 884V956M746.8 894V930M749.2 930V990M751.6 990V1088M754.0 1079V1136M756.4 964V1079M758.8 920V964M761.2 942V976M763.6 976V1000M766.0 1000V1019M768.4 952V1024M770.8 868V952M773.2 863V889M775.6 889V918M778.0 836V913M780.4 772V836M782.8 786V875M785.2 875V949M787.6 949V976M790.0 971V990M792.4 913V971M794.8 882V913M797.2 894V916M799.6 911V925M802.0 884V911M804.4 877V932M806.8 932V1009M809.2 988V1026M811.6 942V988M814.0 913V942M816.4 889V913M818.8 889V956M821.2 956V1024M823.6 1024V1076M826.0 1076V1117M828.4 959V1088M830.8 872V959M833.2 901V985M835.6 980V1031M838.0 863V980M840.4 810V863M842.8 846V913M845.2 913V947M847.6 947V964M850.0 952V966M852.4 932V952M854.7 930V940M857.1 940V952M859.5 812V952M861.9 683V812M864.3 690V772M866.7 772V841M869.1 841V863M871.5 863V877M873.9 863V875M876.3 827V863M878.7 752V827M881.1 719V752M883.5 752V820M885.9 820V844M888.3 841V844M890.7 781V841M893.1 700V781M895.5 671V700M897.9 654V671M900.3 652V793M902.7 793V932M905.1 906V930M907.5 870V906M909.9 776V870M912.3 707V776M914.7 719V762M917.1 762V786M919.5 760V779M921.9 748V767M924.3 767V805M926.7 796V820M929.1 755V796M931.5 743V755M933.9 755V772M936.3 772V781M938.7 781V791M941.1 781V791M943.5 774V781M945.9 774V810M948.3 810V844M950.7 829V841M953.1 805V829M955.5 757V805M957.9 724V757M960.3 748V817M962.7 817V856M965.1 779V832M967.5 757V779M969.9 760V764M972.3 764V767M974.7 762V764M977.1 760V793M979.5 793V836M981.9 784V841M984.3 719V784M986.6 719V736M989.0 736V752M991.4 752V774M993.8 774V791M996.2 788V791M998.6 784V788M1001.0 772V784M1003.4 762V772M1005.8 750V762M1008.2 745V767M1010.6 767V808M1013.0 798V822M1015.4 764V798M1017.8 750V764M1020.2 740V750M1022.6 738V740M1025.0 740V743M1027.4 740V743M1029.8 740V743M1032.2 743V764M1034.6 764V779M1037.0 776V779M1039.4 762V776M1041.8 726V762M1044.2 704V726M1046.6 714V736M1049.0 707V748M1051.4 630V707M1053.8 599V630M1056.2 628V671M1058.6 671V683M1061.0 683V685M1063.4 644V688M1065.8 594V644M1068.2 592V712M1070.6 712V832M1073.0 810V829M1075.4 781V810M1077.8 716V781M1080.2 668V716M1082.6 673V690M1085.0 690V704M1087.4 704V712M1089.8 712V716M1092.2 716V719M1094.6 714V719M1097.0 704V714M1099.4 671V704M1101.8 623V671M1104.2 582V623M1106.6 544V582M1109.0 539V575M1111.4 575V616M1113.8 616V671M1116.2 671V721M1118.5 707V719M1120.9 690V707M1123.3 649V690M1125.7 620V649M1128.1 635V671M1130.5 671V697M1132.9 697V709M1135.3 671V714M1137.7 596V671M1140.1 570V616M1142.5 616V683M1144.9 668V700M1147.3 628V668M1149.7 623V635M1152.1 635V647M1154.5 620V647M1156.9 596V620M1159.3 601V654M1161.7 654V695M1164.1 613V680M1166.5 568V613M1168.9 577V616M1171.3 606V637M1173.7 532V606M1176.1 496V532M1178.5 520V560M1180.9 560V577M1183.3 577V580M1185.7 577V601M1188.1 601V632M1190.5 613V637M1192.9 589V613M1195.3 568V589M1197.7 551V568M1200.1 546V551M1202.5 544V546M1204.9 532V544M1207.3 520V532M1209.7 505V520M1212.1 496V508M1214.5 508V541M1216.9 541V556M1219.3 556V558M1221.7 539V556M1224.1 515V539M1226.5 493V515M1228.9 474V493M1231.3 448V474M1233.7 419V448M1236.1 416V438M1238.5 438V460M1240.9 448V460M1243.3 436V448M1245.7 448V524M1248.0 524V582M1250.4 474V560M1252.8 419V474M1255.2 436V491M1257.6 491V517M1260.0 486V508M1262.4 476V488M1264.8 488V508M1267.2 496V512M1269.6 467V496M1272.0 462V484M1274.4 484V512M1276.8 496V515M1279.2 474V496M1281.6 474V481M1284.0 481V488M1286.4 479V488M1288.8 469V479M1291.2 479V520M1293.6 520V548M1296.0 534V544M1298.4 515V534M1300.8 484V515M1303.2 469V484M1305.6 472V481M1308.0 472V484M1310.4 455V472M1312.8 450V455M1315.2 450V452M1317.6 450V452M1320.0 452V455M1322.4 426V455M1324.8 400V426M1327.2 402V428M1329.6 428V450M1332.0 450V460M1334.4 460V464M1336.8 452V462M1339.2 445V455M1341.6 455V474M1344.0 474V484M1346.4 467V479M1348.8 464V467M1351.2 464V467M1353.6 457V464M1356.0 445V457M1358.4 443V445M1360.8 445V448M1363.2 445V448M1365.6 443V445M1368.0 445V452M1370.4 452V460M1372.8 455V460M1375.2 450V455M1377.6 450V457M1379.9 452V460M1382.3 431V452M1384.7 419V433M1387.1 433V467M1389.5 467V484M1391.9 484V491M1394.3 472V493M1396.7 443V472M1399.1 436V462M1401.5 462V496M1403.9 493V500M1406.3 486V493M1408.7 476V486M1411.1 467V476M1413.5 469V491M1415.9 491V508M1418.3 476V503M1420.7 460V476M1423.1 462V467M1425.5 467V476M1427.9 476V496M1430.3 496V512M1432.7 512V524M1435.1 517V527M1437.5 500V517M1439.9 498V527M1442.3 527V565M1444.7 541V570M1447.1 508V541M1449.5 508V541M1451.9 541V575M1454.3 522V570M1456.7 481V522M1459.1 491V534M1461.5 534V565M1463.9 553V563M1466.3 548V553M1468.7 548V551M1471.1 548V558M1473.5 558V580M1475.9 580V620M1478.3 620V673M1480.7 673V688M1483.1 656V673M1485.5 644V656M1487.9 632V644M1490.3 628V632M1492.7 623V628M1495.1 599V623M1497.5 577V599M1499.9 570V577M1502.3 568V570M1504.7 570V584M1507.1 575V594M1509.5 529V575M1511.8 508V548M1514.2 548V632M1516.6 632V666M1519.0 666V668M1521.4 642V668M1523.8 604V642M1526.2 596V604M1528.6 599V604M1531.0 604V611M1533.4 611V618M1535.8 616V618M1538.2 616V618M1540.6 618V628M1543.0 620V635M1545.4 563V620M1547.8 527V563M1550.2 539V572M1552.6 572V596M1555.0 596V604M1557.4 599V606M1559.8 582V599M1562.2 577V611M1564.6 611V659M1567.0 659V676M1569.4 676V683M1571.8 683V702M1574.2 702V724"/><path stroke="#FFFF00" d="M396.7 1148V1192M399.1 1108V1148M401.5 1096V1108M403.9 1088V1108M406.3 1108V1196M408.7 1196V1256M411.1 1156V1232M413.5 1100V1156M415.9 1074V1100M418.3 1062V1074M420.7 1060V1062M423.1 1057V1062M425.5 1062V1067M427.9 1067V1108M430.3 1108V1163M432.7 1163V1184M435.1 1184V1199M437.5 1177V1201M439.9 1151V1177M442.3 1120V1151M444.7 1093V1120M447.1 1100V1129M449.5 1127V1151M451.9 1043V1127M454.3 995V1043M456.7 1026V1105M459.1 1105V1144M461.4 1088V1124M463.8 1074V1088M466.2 1081V1091M468.6 1064V1093M471.0 1021V1064M473.4 1014V1040M475.8 1040V1069M478.2 1069V1088M480.6 1088V1108M483.0 1081V1105M485.4 1052V1081M487.8 1014V1052M490.2 985V1014M492.6 990V1004M495.0 1004V1026M497.4 1026V1062M499.8 1062V1105M502.2 1105V1151M504.6 1141V1170M507.0 1091V1141M509.4 1057V1091M511.8 1026V1057M514.2 1021V1048M516.6 1048V1079M519.0 1038V1084M521.4 990V1038M523.8 990V1012M526.2 1012V1036M528.6 1036V1060M531.0 1060V1088M533.4 1088V1134M535.8 1134V1163M538.2 1112V1151M540.6 1093V1112M543.0 1103V1127M545.4 1127V1136M547.8 1110V1127M550.2 1045V1110M552.6 954V1045M555.0 932V954M557.4 952V978M559.8 978V1069M562.2 1069V1170M564.6 1146V1172M567.0 1122V1146M569.4 1098V1122M571.8 1072V1098M574.2 1026V1072M576.6 992V1026M579.0 1004V1040M581.4 1021V1060M583.8 930V1021M586.2 887V940M588.6 940V1038M591.0 1038V1103M593.3 1103V1146M595.7 1105V1158M598.1 1031V1105M600.5 942V1031M602.9 851V942M605.3 846V935M607.7 935V1024M610.1 1021V1024M612.5 1021V1024M614.9 1021V1024M617.3 1024V1031M619.7 1031V1057M622.1 1057V1072M624.5 1016V1057M626.9 995V1016M629.3 1000V1007M631.7 1007V1019M634.1 1019V1036M636.5 1036V1072M638.9 1072V1117M641.3 1084V1124M643.7 1033V1084M646.1 1028V1050M648.5 1050V1072M650.9 1055V1072M653.3 1031V1055M655.7 973V1031M658.1 930V973M660.5 940V968M662.9 968V990M665.3 990V995M667.7 995V1009M670.1 1009V1038M672.5 1036V1052M674.9 1009V1036M677.3 995V1009M679.7 985V995M682.1 983V1021M684.5 1021V1072M686.9 1038V1076M689.3 997V1038M691.7 997V1105M694.1 1105V1201M696.5 1120V1194M698.9 1052V1120M701.3 1012V1052M703.7 983V1012M706.1 995V1028M708.5 1028V1048M710.9 1040V1045M713.3 1004V1040M715.7 942V1004M718.1 920V947M720.5 947V988M722.9 988V997M725.2 978V988M727.6 961V978M730.0 947V961M732.4 944V976M734.8 976V1004M737.2 1004V1024M739.6 1024V1038M742.0 1031V1038M744.4 1021V1031M746.8 1002V1021M749.2 980V1002M751.6 954V980M754.0 930V954M756.4 913V930M758.8 906V925M761.2 925V954M763.6 954V964M766.0 964V966M768.4 964V992M770.8 992V1028M773.2 913V1031M775.6 796V913M778.0 798V877M780.4 877V944M782.8 908V940M785.2 884V908M787.6 889V906M790.0 906V935M792.4 935V990M794.8 983V1016M797.2 908V983M799.6 877V928M802.0 928V1016M804.4 983V1045M806.8 894V983M809.2 875V901M811.6 901V930M814.0 872V932M816.4 808V872M818.8 808V868M821.2 868V928M823.6 928V971M826.0 971V1004M828.4 978V1000M830.8 964V978M833.2 968V978M835.6 978V985M838.0 964V978M840.4 942V964M842.8 913V942M845.2 904V913M847.6 908V916M850.0 901V918M852.4 882V901M854.7 872V882M857.1 863V872M859.5 863V901M861.9 901V940M864.3 940V956M866.7 956V971M869.1 947V966M871.5 920V947M873.9 880V920M876.3 858V880M878.7 870V904M881.1 904V920M883.5 894V911M885.9 868V894M888.3 832V868M890.7 822V836M893.1 836V858M895.5 858V884M897.9 884V913M900.3 894V916M902.7 872V894M905.1 853V872M907.5 836V853M909.9 839V846M912.3 846V856M914.7 856V868M917.1 860V872M919.5 829V860M921.9 815V844M924.3 844V906M926.7 906V930M929.1 889V916M931.5 882V889M933.9 882V884M936.3 884V887M938.7 887V889M941.1 889V894M943.5 894V896M945.9 844V896M948.3 800V844M950.7 808V868M953.1 868V913M955.5 848V899M957.9 815V848M960.3 817V820M962.7 820V834M965.1 834V858M967.5 832V870M969.9 769V832M972.3 748V779M974.7 779V822M977.1 822V858M979.5 858V894M981.9 841V896M984.3 781V841M986.6 760V781M989.0 740V760M991.4 750V841M993.8 841V913M996.2 844V901M998.6 798V844M1001.0 781V798M1003.4 772V781M1005.8 774V776M1008.2 774V829M1010.6 829V928M1013.0 918V964M1015.4 848V918M1017.8 832V848M1020.2 846V868M1022.6 800V872M1025.0 716V800M1027.4 714V748M1029.8 748V781M1032.2 781V812M1034.6 812V836M1037.0 798V829M1039.4 776V798M1041.8 786V817M1044.2 808V836M1046.6 736V808M1049.0 702V736M1051.4 709V726M1053.8 726V772M1056.2 772V836M1058.6 784V853M1061.0 688V784M1063.4 673V688M1065.8 678V688M1068.2 688V767M1070.6 767V848M1073.0 755V846M1075.4 678V755M1077.8 685V726M1080.2 726V755M1082.6 673V738M1085.0 632V673M1087.4 640V656M1089.8 656V678M1092.2 678V707M1094.6 707V719M1097.0 685V707M1099.4 676V685M1101.8 673V676M1104.2 673V702M1106.6 702V740M1109.0 740V774M1111.4 774V808M1113.8 781V808M1116.2 750V781M1118.5 692V750M1120.9 649V692M1123.3 644V649M1125.7 640V644M1128.1 632V640M1130.5 625V654M1132.9 654V712M1135.3 712V740M1137.7 716V731M1140.1 712V716M1142.5 716V724M1144.9 680V726M1147.3 623V680M1149.7 616V640M1152.1 640V668M1154.5 668V692M1156.9 692V714M1159.3 654V709M1161.7 611V654M1164.1 606V611M1166.5 589V606M1168.9 546V589M1171.3 520V546M1173.7 544V604M1176.1 604V637M1178.5 637V647M1180.9 632V649M1183.3 604V632M1185.7 596V628M1188.1 628V671M1190.5 623V678M1192.9 560V623M1195.3 556V582M1197.7 582V606M1200.1 606V616M1202.5 616V625M1204.9 596V620M1207.3 580V596M1209.7 589V618M1212.1 618V635M1214.5 616V630M1216.9 592V616M1219.3 556V592M1221.7 541V556M1224.1 546V551M1226.5 500V553M1228.9 424V500M1231.3 409V469M1233.7 469V544M1236.1 544V589M1238.5 589V632M1240.9 572V630M1243.3 522V572M1245.7 522V524M1248.0 522V541M1250.4 541V618M1252.8 618V668M1255.2 522V630M1257.6 464V522M1260.0 474V491M1262.4 488V498M1264.8 472V488M1267.2 467V472M1269.6 472V476M1272.0 474V476M1274.4 474V476M1276.8 474V522M1279.2 522V580M1281.6 546V580M1284.0 517V546M1286.4 500V517M1288.8 488V500M1291.2 491V500M1293.6 500V510M1296.0 491V505M1298.4 481V491M1300.8 481V484M1303.2 481V486M1305.6 486V493M1308.0 493V503M1310.4 503V515M1312.8 498V520M1315.2 472V498M1317.6 452V472M1320.0 436V452M1322.4 433V472M1324.8 472V510M1327.2 510V517M1329.6 517V524M1332.0 524V534M1334.4 529V539M1336.8 491V529M1339.2 469V491M1341.6 469V472M1344.0 472V481M1346.4 481V503M1348.8 488V510M1351.2 455V488M1353.6 445V455M1356.0 452V460M1358.4 455V462M1360.8 448V455M1363.2 445V448M1365.6 440V445M1368.0 416V440M1370.4 395V416M1372.8 397V414M1375.2 414V436M1377.6 436V476M1379.9 476V500M1382.3 455V488M1384.7 433V455M1387.1 424V433M1389.5 421V433M1391.9 433V455M1394.3 455V479M1396.7 479V503M1399.1 491V508M1401.5 472V491M1403.9 472V476M1406.3 476V484M1408.7 484V493M1411.1 493V503M1413.5 460V498M1415.9 431V460M1418.3 433V440M1420.7 440V457M1423.1 457V496M1425.5 496V515M1427.9 496V508M1430.3 467V496M1432.7 426V467M1435.1 412V443M1437.5 443V488M1439.9 488V534M1442.3 534V577M1444.7 522V582M1447.1 450V522M1449.5 450V479M1451.9 479V510M1454.3 510V546M1456.7 546V572M1459.1 520V563M1461.5 488V520M1463.9 496V524M1466.3 524V539M1468.7 534V539M1471.1 534V546M1473.5 546V570M1475.9 570V577M1478.3 572V575M1480.7 572V575M1483.1 575V582M1485.5 565V582M1487.9 546V565M1490.3 544V551M1492.7 551V558M1495.1 529V556M1497.5 505V529M1499.9 505V508M1502.3 505V527M1504.7 527V599M1507.1 599V644M1509.5 606V635M1511.8 592V606M1514.2 599V613M1516.6 601V620M1519.0 568V601M1521.4 560V570M1523.8 570V584M1526.2 548V587M1528.6 503V548M1531.0 498V589M1533.4 589V685M1535.8 649V683M1538.2 616V649M1540.6 584V616M1543.0 560V584M1545.4 563V577M1547.8 577V601M1550.2 601V647M1552.6 647V676M1555.0 676V680M1557.4 659V683M1559.8 618V659M1562.2 582V618M1564.6 551V582M1567.0 544V577M1569.4 577V620M1571.8 620V625M1574.2 616V620"/><path stroke="#808000" d="M396.7 1112V1132M399.1 1096V1112M401.5 1100V1160M403.9 1160V1206M406.3 1127V1192M408.7 1084V1127M411.1 1093V1120M413.5 1120V1136M415.9 1136V1139M418.3 1139V1151M420.7 1151V1170M423.1 1146V1175M425.5 1103V1146M427.9 1093V1110M430.3 1110V1132M432.7 1122V1134M435.1 1110V1122M437.5 1105V1110M439.9 1100V1108M442.3 1108V1206M444.7 1206V1285M447.1 1230V1276M449.5 1199V1230M451.9 1201V1206M454.3 1158V1211M456.7 1026V1158M459.1 961V1026M461.4 1000V1074M463.8 1074V1103M466.2 1103V1105M468.6 1100V1103M471.0 1098V1100M473.4 1096V1124M475.8 1124V1158M478.2 1132V1160M480.6 1105V1132M483.0 1108V1141M485.4 1141V1170M487.8 1141V1165M490.2 1120V1141M492.6 1110V1120M495.0 1088V1110M497.4 1048V1088M499.8 1026V1055M502.2 1055V1112M504.6 1112V1134M507.0 1084V1115M509.4 1074V1084M511.8 1081V1093M514.2 1081V1096M516.6 1064V1081M519.0 1062V1086M521.4 1086V1112M523.8 1112V1115M526.2 1112V1115M528.6 1112V1120M531.0 1110V1122M533.4 1060V1110M535.8 1028V1060M538.2 1055V1134M540.6 1134V1177M543.0 1158V1170M545.4 1151V1182M547.8 1182V1242M550.2 1242V1261M552.6 1228V1247M555.0 1163V1228M557.4 1086V1163M559.8 1076V1088M562.2 1088V1105M564.6 1069V1105M567.0 1033V1069M569.4 1000V1033M571.8 973V1000M574.2 983V1036M576.6 1036V1072M579.0 1055V1067M581.4 1048V1062M583.8 1062V1096M586.2 1076V1112M588.6 1007V1076M591.0 980V1014M593.3 1014V1064M595.7 1045V1079M598.1 1000V1045M600.5 992V1000M602.9 997V1002M605.3 1002V1050M607.7 1050V1098M610.1 997V1093M612.5 918V997M614.9 918V925M617.3 925V940M619.7 940V980M622.1 980V1024M624.5 1024V1069M626.9 1069V1091M629.3 1052V1079M631.7 1033V1052M634.1 1016V1033M636.5 1014V1048M638.9 1048V1096M641.3 1088V1105M643.7 1067V1088M646.1 1064V1067M648.5 1064V1067M650.9 1067V1132M653.3 1132V1189M655.7 1081V1175M658.1 997V1081M660.5 942V997M662.9 908V942M665.3 913V925M667.7 925V968M670.1 968V1048M672.5 1048V1081M674.9 995V1050M677.3 978V997M679.7 997V1024M682.1 1024V1028M684.5 1021V1026M686.9 1021V1024M689.3 1024V1028M691.7 964V1028M694.1 906V964M696.5 913V976M698.9 976V1036M701.3 1036V1088M703.7 1088V1124M706.1 1052V1108M708.5 1019V1052M710.9 1012V1019M713.3 1009V1012M715.7 1007V1009M718.1 995V1007M720.5 983V995M722.9 942V983M725.2 894V942M727.6 889V940M730.0 940V997M732.4 997V1007M734.8 1007V1012M737.2 983V1009M739.6 961V983M742.0 964V976M744.4 976V983M746.8 978V980M749.2 976V988M751.6 988V1016M754.0 1016V1031M756.4 1000V1019M758.8 971V1000M761.2 937V971M763.6 918V937M766.0 904V918M768.4 899V923M770.8 923V952M773.2 952V968M775.6 968V988M778.0 988V1007M780.4 1007V1021M782.8 1002V1019M785.2 983V1002M787.6 966V983M790.0 954V966M792.4 961V985M794.8 978V1000M797.2 935V978M799.6 916V937M802.0 937V973M804.4 973V990M806.8 990V997M809.2 997V1004M811.6 1004V1009M814.0 968V1012M816.4 923V968M818.8 923V961M821.2 961V995M823.6 995V997M826.0 990V1000M828.4 949V990M830.8 923V949M833.2 925V930M835.6 928V932M838.0 918V928M840.4 916V920M842.8 920V932M845.2 932V954M847.6 954V983M850.0 884V988M852.4 752V884M854.7 736V901M857.1 901V1088M859.5 1060V1091M861.9 1031V1060M864.3 1024V1031M866.7 1014V1024M869.1 985V1014M871.5 952V985M873.9 904V952M876.3 875V920M878.7 920V1028M881.1 1021V1081M883.5 908V1021M885.9 868V908M888.3 868V870M890.7 865V870M893.1 858V865M895.5 858V896M897.9 896V942M900.3 916V944M902.7 882V916M905.1 808V882M907.5 745V808M909.9 760V844M912.3 844V904M914.7 824V887M917.1 788V824M919.5 817V894M921.9 894V932M924.3 870V913M926.7 836V870M929.1 808V836M931.5 798V839M933.9 839V894M936.3 851V906M938.7 784V851M941.1 779V810M943.5 810V846M945.9 796V844M948.3 755V796M950.7 764V827M953.1 827V872M955.5 858V870M957.9 848V860M960.3 860V896M962.7 896V918M965.1 851V896M967.5 796V851M969.9 733V796M972.3 712V748M974.7 748V798M977.1 798V810M979.5 784V798M981.9 752V784M984.3 719V752M986.6 719V745M989.0 745V772M991.4 772V805M993.8 805V834M996.2 834V851M998.6 846V860M1001.0 803V846M1003.4 779V803M1005.8 779V781M1008.2 779V781M1010.6 781V788M1013.0 788V822M1015.4 822V872M1017.8 784V884M1020.2 649V784M1022.6 630V762M1025.0 762V913M1027.4 877V918M1029.8 834V877M1032.2 796V834M1034.6 762V796M1037.0 772V815M1039.4 815V846M1041.8 755V824M1044.2 714V755M1046.6 743V817M1049.0 817V851M1051.4 798V834M1053.8 750V798M1056.2 697V750M1058.6 683V707M1061.0 707V740M1063.4 740V791M1065.8 791V846M1068.2 784V848M1070.6 719V784M1073.0 719V743M1075.4 743V764M1077.8 764V781M1080.2 781V793M1082.6 788V793M1085.0 786V788M1087.4 788V791M1089.8 762V791M1092.2 704V762M1094.6 680V716M1097.0 716V781M1099.4 781V803M1101.8 793V798M1104.2 769V793M1106.6 738V769M1109.0 733V740M1111.4 740V748M1113.8 736V748M1116.2 726V736M1118.5 719V726M1120.9 714V719M1123.3 714V716M1125.7 714V721M1128.1 721V748M1130.5 733V760M1132.9 673V733M1135.3 647V673M1137.7 649V656M1140.1 616V659M1142.5 553V616M1144.9 539V584M1147.3 584V647M1149.7 647V680M1152.1 680V709M1154.5 688V712M1156.9 664V688M1159.3 666V697M1161.7 697V721M1164.1 654V709M1166.5 616V654M1168.9 608V616M1171.3 604V611M1173.7 611V625M1176.1 625V630M1178.5 623V628M1180.9 604V623M1183.3 575V604M1185.7 565V580M1188.1 580V599M1190.5 599V649M1192.9 649V709M1195.3 673V712M1197.7 635V673M1200.1 599V635M1202.5 568V599M1204.9 560V568M1207.3 556V563M1209.7 563V592M1212.1 592V618M1214.5 618V640M1216.9 640V666M1219.3 666V695M1221.7 673V707M1224.1 618V673M1226.5 604V618M1228.9 616V635M1231.3 620V640M1233.7 594V620M1236.1 594V608M1238.5 608V625M1240.9 584V625M1243.3 546V584M1245.7 527V546M1248.0 515V529M1250.4 529V587M1252.8 587V625M1255.2 575V613M1257.6 551V575M1260.0 536V551M1262.4 532V544M1264.8 544V568M1267.2 556V575M1269.6 529V556M1272.0 524V541M1274.4 541V563M1276.8 563V568M1279.2 568V570M1281.6 553V570M1284.0 534V553M1286.4 512V534M1288.8 493V512M1291.2 488V493M1293.6 484V488M1296.0 486V493M1298.4 493V498M1300.8 496V498M1303.2 496V498M1305.6 491V496M1308.0 488V491M1310.4 481V488M1312.8 469V481M1315.2 452V469M1317.6 450V455M1320.0 455V460M1322.4 452V460M1324.8 445V452M1327.2 450V496M1329.6 496V534M1332.0 486V527M1334.4 457V486M1336.8 467V503M1339.2 503V524M1341.6 467V508M1344.0 443V467M1346.4 440V443M1348.8 424V440M1351.2 397V424M1353.6 390V431M1356.0 431V488M1358.4 488V498M1360.8 486V491M1363.2 469V486M1365.6 455V469M1368.0 457V488M1370.4 488V515M1372.8 491V510M1375.2 474V491M1377.6 472V474M1379.9 469V474M1382.3 474V484M1384.7 481V491M1387.1 462V481M1389.5 443V462M1391.9 424V443M1394.3 416V436M1396.7 436V462M1399.1 462V469M1401.5 469V472M1403.9 467V472M1406.3 462V467M1408.7 464V481M1411.1 481V496M1413.5 467V493M1415.9 445V467M1418.3 448V452M1420.7 452V457M1423.1 450V455M1425.5 445V450M1427.9 450V462M1430.3 462V467M1432.7 455V462M1435.1 452V457M1437.5 457V464M1439.9 452V464M1442.3 433V452M1444.7 431V457M1447.1 457V486M1449.5 469V486M1451.9 455V469M1454.3 457V476M1456.7 476V493M1459.1 491V493M1461.5 491V493M1463.9 493V508M1466.3 505V515M1468.7 481V505M1471.1 469V481M1473.5 481V505M1475.9 505V515M1478.3 515V517M1480.7 515V517M1483.1 515V517M1485.5 498V515M1487.9 479V498M1490.3 479V510M1492.7 510V541M1495.1 503V539M1497.5 469V503M1499.9 479V527M1502.3 527V563M1504.7 558V563M1507.1 551V558M1509.5 536V551M1511.8 512V536M1514.2 484V512M1516.6 469V503M1519.0 503V553M1521.4 553V570M1523.8 539V556M1526.2 536V539M1528.6 539V546M1531.0 536V546M1533.4 524V536M1535.8 527V565M1538.2 565V599M1540.6 551V594M1543.0 520V551M1545.4 529V570M1547.8 570V594M1550.2 572V589M1552.6 536V572M1555.0 474V536M1557.4 448V474M1559.8 452V460M1562.2 460V488M1564.6 488V527M1567.0 527V568M1569.4 568V613M1571.8 601V618M1574.2 582V601"/><path stroke="#000080" d="M396.7 1060V1115M399.1 1012V1060M401.5 1019V1091M403.9 1091V1160M406.3 1160V1223M408.7 1223V1264M411.1 1199V1247M413.5 1151V1199M415.9 1103V1151M418.3 1076V1103M420.7 1064V1076M423.1 1057V1064M425.5 1050V1057M427.9 1048V1100M430.3 1100V1168M432.7 1168V1177M435.1 1177V1180M437.5 1122V1177M439.9 1069V1122M442.3 1072V1093M444.7 1093V1112M447.1 1112V1124M449.5 1124V1134M451.9 1134V1141M454.3 1108V1146M456.7 1014V1108M459.1 966V1014M461.4 964V966M463.8 961V980M466.2 980V1007M468.6 1007V1038M471.0 1038V1067M473.4 1067V1086M475.8 1086V1103M478.2 1038V1103M480.6 971V1038M483.0 973V1012M485.4 1012V1057M487.8 1057V1148M490.2 1148V1216M492.6 1122V1196M495.0 1074V1122M497.4 1079V1091M499.8 1079V1096M502.2 1043V1079M504.6 1026V1043M507.0 1033V1048M509.4 1048V1074M511.8 1074V1105M514.2 1067V1110M516.6 1012V1067M519.0 1007V1040M521.4 1040V1079M523.8 1076V1079M526.2 1074V1081M528.6 1081V1156M531.0 1156V1211M533.4 1163V1201M535.8 1134V1163M538.2 1141V1158M540.6 1139V1170M543.0 1069V1139M545.4 1038V1069M547.8 1055V1081M550.2 1048V1091M552.6 983V1048M555.0 968V990M557.4 990V1016M559.8 1016V1048M562.2 1048V1079M564.6 973V1079M567.0 877V973M569.4 889V1012M571.8 1012V1110M574.2 1103V1110M576.6 1093V1103M579.0 1079V1093M581.4 1069V1079M583.8 1076V1091M586.2 1060V1098M588.6 985V1060M591.0 956V997M593.3 997V1060M595.7 1048V1076M598.1 1009V1048M600.5 988V1009M602.9 971V988M605.3 947V971M607.7 923V947M610.1 928V1000M612.5 1000V1062M614.9 971V1048M617.3 913V971M619.7 944V1060M622.1 1060V1129M624.5 1067V1112M626.9 1026V1067M629.3 988V1026M631.7 966V988M634.1 954V966M636.5 949V980M638.9 980V1026M641.3 1004V1033M643.7 968V1004M646.1 952V968M648.5 940V952M650.9 942V1028M653.3 1028V1103M655.7 1028V1096M658.1 978V1028M660.5 978V980M662.9 980V983M665.3 980V983M667.7 978V1004M670.1 1004V1060M672.5 1060V1086M674.9 1019V1062M677.3 1002V1019M679.7 997V1002M682.1 971V997M684.5 935V971M686.9 932V1000M689.3 1000V1076M691.7 1076V1086M694.1 1084V1093M696.5 997V1084M698.9 928V997M701.3 928V930M703.7 930V952M706.1 952V1012M708.5 1012V1048M710.9 1036V1043M713.3 1028V1036M715.7 1021V1028M718.1 1009V1021M720.5 990V1009M722.9 985V990M725.2 980V985M727.6 956V980M730.0 928V956M732.4 928V1000M734.8 1000V1072M737.2 1036V1067M739.6 1009V1036M742.0 1002V1009M744.4 997V1002M746.8 995V997M749.2 995V1000M751.6 1000V1012M754.0 995V1016M756.4 949V995M758.8 935V956M761.2 956V995M763.6 988V1004M766.0 966V988M768.4 947V966M770.8 930V947M773.2 911V930M775.6 892V911M778.0 894V928M780.4 928V954M782.8 937V952M785.2 925V937M787.6 930V949M790.0 944V961M792.4 899V944M794.8 875V920M797.2 920V1012M799.6 1012V1050M802.0 1026V1040M804.4 930V1026M806.8 798V930M809.2 772V839M811.6 839V923M814.0 923V949M816.4 949V971M818.8 913V971M821.2 863V913M823.6 875V985M826.0 985V1072M828.4 944V1048M830.8 875V944M833.2 875V877M835.6 875V901M838.0 901V956M840.4 940V980M842.8 868V940M845.2 841V868M847.6 868V906M850.0 906V916M852.4 908V913M854.7 884V908M857.1 858V884M859.5 846V858M861.9 834V846M864.3 834V844M866.7 844V853M869.1 853V872M871.5 872V894M873.9 894V918M876.3 918V932M878.7 880V918M881.1 841V880M883.5 803V841M885.9 788V805M888.3 805V834M890.7 793V841M893.1 726V793M895.5 716V808M897.9 808V913M900.3 913V918M902.7 906V913M905.1 868V906M907.5 834V868M909.9 820V834M912.3 810V820M914.7 815V829M917.1 817V839M919.5 762V817M921.9 736V762M924.3 745V764M926.7 764V788M929.1 788V817M931.5 817V832M933.9 832V841M936.3 836V844M938.7 832V836M941.1 829V846M943.5 846V865M945.9 865V894M948.3 894V920M950.7 911V920M953.1 889V911M955.5 834V889M957.9 796V834M960.3 810V851M962.7 815V872M965.1 692V815M967.5 637V702M969.9 702V815M972.3 815V851M974.7 841V846M977.1 815V841M979.5 779V815M981.9 714V779M984.3 644V714M986.6 644V738M989.0 738V822M991.4 822V824M993.8 822V824M996.2 824V836M998.6 824V844M1001.0 769V824M1003.4 731V769M1005.8 712V731M1008.2 704V712M1010.6 712V724M1013.0 724V733M1015.4 733V738M1017.8 738V748M1020.2 748V757M1022.6 757V769M1025.0 769V781M1027.4 760V781M1029.8 738V760M1032.2 740V781M1034.6 781V812M1037.0 716V798M1039.4 661V716M1041.8 673V719M1044.2 719V748M1046.6 726V740M1049.0 719V750M1051.4 750V808M1053.8 796V829M1056.2 743V796M1058.6 666V743M1061.0 582V666M1063.4 568V623M1065.8 623V690M1068.2 661V695M1070.6 630V661M1073.0 632V716M1075.4 716V786M1077.8 748V781M1080.2 721V748M1082.6 714V721M1085.0 697V714M1087.4 666V697M1089.8 647V666M1092.2 637V647M1094.6 632V647M1097.0 647V671M1099.4 671V685M1101.8 685V692M1104.2 692V697M1106.6 697V702M1109.0 664V702M1111.4 623V664M1113.8 618V623M1116.2 613V618M1118.5 618V640M1120.9 640V659M1123.3 652V656M1125.7 640V652M1128.1 616V640M1130.5 594V616M1132.9 582V594M1135.3 575V592M1137.7 592V620M1140.1 620V644M1142.5 644V661M1144.9 659V666M1147.3 652V659M1149.7 637V652M1152.1 623V637M1154.5 611V623M1156.9 599V611M1159.3 584V599M1161.7 572V584M1164.1 580V611M1166.5 611V635M1168.9 551V616M1171.3 512V551M1173.7 515V520M1176.1 520V546M1178.5 546V596M1180.9 596V632M1183.3 632V664M1185.7 625V671M1188.1 565V625M1190.5 556V592M1192.9 592V635M1195.3 618V637M1197.7 596V618M1200.1 584V596M1202.5 572V584M1204.9 560V572M1207.3 544V560M1209.7 517V544M1212.1 493V517M1214.5 472V493M1216.9 462V479M1219.3 479V512M1221.7 512V532M1224.1 532V541M1226.5 512V544M1228.9 469V512M1231.3 460V479M1233.7 479V498M1236.1 498V527M1238.5 527V553M1240.9 493V551M1243.3 443V493M1245.7 445V460M1248.0 460V469M1250.4 448V467M1252.8 438V448M1255.2 440V448M1257.6 440V452M1260.0 414V440M1262.4 402V428M1264.8 428V474M1267.2 474V491M1269.6 464V479M1272.0 448V464M1274.4 431V448M1276.8 428V433M1279.2 433V440M1281.6 438V440M1284.0 436V440M1286.4 440V467M1288.8 467V488M1291.2 448V481M1293.6 426V448M1296.0 436V462M1298.4 462V479M1300.8 440V467M1303.2 428V443M1305.6 443V472M1308.0 472V481M1310.4 474V479M1312.8 467V474M1315.2 460V467M1317.6 457V464M1320.0 464V474M1322.4 450V474M1324.8 426V450M1327.2 428V452M1329.6 452V472M1332.0 469V472M1334.4 467V469M1336.8 464V467M1339.2 457V464M1341.6 438V457M1344.0 428V438M1346.4 436V448M1348.8 448V460M1351.2 460V467M1353.6 457V469M1356.0 440V457M1358.4 436V443M1360.8 443V450M1363.2 450V464M1365.6 464V479M1368.0 472V479M1370.4 464V472M1372.8 467V481M1375.2 481V493M1377.6 474V491M1379.9 464V474M1382.3 464V469M1384.7 464V469M1387.1 450V464M1389.5 445V450M1391.9 448V450M1394.3 450V455M1396.7 455V462M1399.1 462V486M1401.5 486V512M1403.9 481V515M1406.3 445V481M1408.7 445V467M1411.1 467V488M1413.5 488V524M1415.9 524V553M1418.3 517V546M1420.7 498V517M1423.1 503V520M1425.5 520V527M1427.9 515V524M1430.3 505V515M1432.7 491V505M1435.1 488V508M1437.5 508V539M1439.9 539V560M1442.3 560V582M1444.7 544V584M1447.1 496V544M1449.5 493V496M1451.9 493V496M1454.3 496V508M1456.7 508V522M1459.1 522V544M1461.5 544V560M1463.9 512V548M1466.3 493V512M1468.7 510V556M1471.1 556V575M1473.5 541V565M1475.9 534V553M1478.3 553V587M1480.7 587V599M1483.1 599V606M1485.5 594V608M1487.9 577V594M1490.3 568V577M1492.7 558V568M1495.1 551V558M1497.5 546V551M1499.9 548V565M1502.3 565V580M1504.7 580V592M1507.1 592V601M1509.5 601V608M1511.8 608V618M1514.2 618V635M1516.6 635V652M1519.0 652V666M1521.4 620V671M1523.8 546V620M1526.2 532V589M1528.6 589V659M1531.0 659V688M1533.4 688V714M1535.8 702V714M1538.2 685V702M1540.6 637V685M1543.0 594V637M1545.4 577V594M1547.8 565V584M1550.2 584V635M1552.6 635V661M1555.0 635V652M1557.4 625V640M1559.8 640V666M1562.2 666V676M1564.6 654V666M1567.0 637V654M1569.4 620V637M1571.8 618V642M1574.2 642V668"/><path stroke="#800080" d="M396.7 1153V1180M399.1 1180V1201M401.5 1172V1199M403.9 1151V1172M406.3 1148V1151M408.7 1148V1151M411.1 1148V1151M413.5 1151V1170M415.9 1170V1213M418.3 1194V1235M420.7 1122V1194M423.1 1098V1127M425.5 1127V1172M427.9 1160V1182M430.3 1132V1160M432.7 1124V1132M435.1 1122V1124M437.5 1122V1141M439.9 1141V1158M442.3 1153V1158M444.7 1148V1153M447.1 1153V1177M449.5 1172V1194M451.9 1103V1172M454.3 1060V1103M456.7 1060V1062M459.1 1060V1076M461.4 1076V1112M463.8 1098V1124M466.2 1052V1098M468.6 1040V1088M471.0 1088V1153M473.4 1076V1165M475.8 971V1076M478.2 964V1036M480.6 1036V1110M483.0 1110V1148M485.4 1148V1184M487.8 1184V1187M490.2 1182V1189M492.6 1160V1182M495.0 1134V1160M497.4 1103V1134M499.8 1088V1103M502.2 1100V1127M504.6 1127V1144M507.0 1144V1151M509.4 1151V1160M511.8 1160V1170M514.2 1153V1172M516.6 1129V1153M519.0 1057V1129M521.4 983V1057M523.8 983V1074M526.2 1074V1153M528.6 1103V1148M531.0 1062V1103M533.4 1045V1062M535.8 1033V1052M538.2 1052V1112M540.6 1112V1148M543.0 1148V1156M545.4 1136V1158M547.8 1098V1136M550.2 1084V1098M552.6 1093V1103M555.0 1096V1105M557.4 1081V1096M559.8 1079V1127M562.2 1127V1182M564.6 1127V1184M567.0 1074V1127M569.4 1076V1100M571.8 1100V1120M574.2 1096V1115M576.6 1064V1096M579.0 1004V1064M581.4 971V1004M583.8 983V1009M586.2 1009V1057M588.6 1057V1127M591.0 1098V1151M593.3 1016V1098M595.7 985V1016M598.1 971V985M600.5 968V1002M602.9 1002V1043M605.3 1043V1105M607.7 1105V1165M610.1 1156V1165M612.5 1132V1156M614.9 1033V1132M617.3 961V1033M619.7 971V997M622.1 997V1021M624.5 1021V1033M626.9 1026V1040M629.3 997V1026M631.7 985V1000M634.1 1000V1026M636.5 1026V1033M638.9 1014V1026M641.3 1012V1014M643.7 1009V1012M646.1 1009V1060M648.5 1060V1115M650.9 1112V1115M653.3 1105V1112M655.7 1052V1105M658.1 1012V1052M660.5 1019V1050M662.9 1050V1069M665.3 1016V1055M667.7 995V1021M670.1 1021V1081M672.5 1076V1108M674.9 1021V1076M677.3 1002V1038M679.7 1038V1088M682.1 1088V1100M684.5 1100V1103M686.9 1064V1100M689.3 1024V1064M691.7 980V1024M694.1 940V980M696.5 944V997M698.9 997V1040M701.3 1000V1033M703.7 966V1000M706.1 932V966M708.5 913V949M710.9 949V1028M713.3 1028V1064M715.7 1048V1060M718.1 1043V1062M720.5 1062V1091M722.9 1091V1132M725.2 1132V1177M727.6 1110V1184M730.0 1026V1110M732.4 995V1026M734.8 968V995M737.2 971V1009M739.6 1009V1038M742.0 992V1031M744.4 964V992M746.8 968V980M749.2 954V985M751.6 875V954M754.0 836V875M756.4 848V870M758.8 870V930M761.2 930V1016M763.6 1016V1040M766.0 985V1016M768.4 971V985M770.8 961V971M773.2 959V1002M775.6 1002V1048M778.0 973V1043M780.4 913V973M782.8 913V916M785.2 916V928M787.6 928V961M790.0 961V988M792.4 988V1000M794.8 1000V1007M797.2 988V1000M799.6 944V988M802.0 880V944M804.4 860V911M806.8 911V985M809.2 985V1000M811.6 966V985M814.0 935V966M816.4 906V935M818.8 906V940M821.2 940V971M823.6 968V971M826.0 964V968M828.4 947V964M830.8 937V954M833.2 954V1007M835.6 1007V1036M838.0 971V1016M840.4 949V971M842.8 966V992M845.2 956V1000M847.6 892V956M850.0 877V904M852.4 904V937M854.7 937V954M857.1 954V971M859.5 913V971M861.9 856V913M864.3 827V856M866.7 803V827M869.1 810V848M871.5 848V882M873.9 882V913M876.3 913V932M878.7 918V928M881.1 880V918M883.5 817V880M885.9 793V836M888.3 836V906M890.7 906V923M893.1 908V916M895.5 906V918M897.9 918V935M900.3 899V935M902.7 863V899M905.1 853V863M907.5 846V853M909.9 848V870M912.3 870V889M914.7 889V906M917.1 901V918M919.5 858V901M921.9 836V858M924.3 851V882M926.7 882V894M929.1 882V889M931.5 880V892M933.9 892V908M936.3 865V911M938.7 810V865M941.1 805V853M943.5 853V904M945.9 882V904M948.3 865V882M950.7 868V880M953.1 880V889M955.5 889V894M957.9 892V899M960.3 875V892M962.7 865V875M965.1 872V887M967.5 858V892M969.9 796V858M972.3 776V796M974.7 786V798M977.1 798V836M979.5 836V884M981.9 865V889M984.3 839V865M986.6 839V877M989.0 877V911M991.4 894V908M993.8 880V894M996.2 858V880M998.6 834V858M1001.0 805V834M1003.4 788V805M1005.8 791V793M1008.2 791V820M1010.6 820V870M1013.0 870V889M1015.4 887V889M1017.8 870V887M1020.2 846V870M1022.6 815V846M1025.0 781V815M1027.4 779V788M1029.8 788V800M1032.2 800V824M1034.6 824V844M1037.0 832V841M1039.4 822V846M1041.8 846V930M1044.2 930V980M1046.6 817V932M1049.0 760V817M1051.4 786V839M1053.8 827V858M1056.2 779V827M1058.6 755V779M1061.0 738V755M1063.4 733V738M1065.8 731V733M1068.2 728V774M1070.6 774V820M1073.0 798V817M1075.4 779V798M1077.8 767V779M1080.2 757V767M1082.6 757V760M1085.0 750V757M1087.4 736V750M1089.8 728V738M1092.2 738V757M1094.6 755V767M1097.0 733V755M1099.4 716V733M1101.8 702V716M1104.2 700V724M1106.6 724V752M1109.0 752V796M1111.4 796V839M1113.8 760V839M1116.2 690V760M1118.5 692V714M1120.9 714V736M1123.3 736V745M1125.7 745V752M1128.1 738V748M1130.5 724V738M1132.9 704V724M1135.3 697V719M1137.7 719V757M1140.1 750V769M1142.5 719V750M1144.9 712V726M1147.3 726V743M1149.7 714V745M1152.1 678V714M1154.5 676V678M1156.9 673V676M1159.3 661V673M1161.7 654V666M1164.1 666V724M1166.5 724V764M1168.9 719V752M1171.3 700V719M1173.7 707V721M1176.1 716V726M1178.5 695V716M1180.9 680V695M1183.3 668V680M1185.7 666V671M1188.1 671V676M1190.5 654V678M1192.9 625V654M1195.3 623V649M1197.7 649V676M1200.1 654V673M1202.5 640V654M1204.9 647V688M1207.3 688V719M1209.7 678V709M1212.1 652V678M1214.5 640V652M1216.9 632V640M1219.3 635V640M1221.7 630V640M1224.1 616V630M1226.5 611V616M1228.9 611V613M1231.3 611V628M1233.7 628V647M1236.1 608V649M1238.5 568V608M1240.9 568V582M1243.3 582V596M1245.7 596V604M1248.0 604V608M1250.4 587V606M1252.8 577V589M1255.2 589V623M1257.6 620V642M1260.0 572V620M1262.4 551V572M1264.8 558V572M1267.2 572V577M1269.6 568V572M1272.0 515V568M1274.4 450V515M1276.8 443V496M1279.2 496V558M1281.6 522V558M1284.0 491V522M1286.4 491V493M1288.8 493V500M1291.2 500V527M1293.6 527V546M1296.0 546V548M1298.4 544V551M1300.8 524V544M1303.2 515V524M1305.6 524V541M1308.0 541V548M1310.4 548V551M1312.8 527V553M1315.2 496V527M1317.6 491V496M1320.0 493V496M1322.4 496V508M1324.8 508V522M1327.2 484V520M1329.6 457V484M1332.0 460V476M1334.4 476V493M1336.8 493V500M1339.2 496V505M1341.6 472V496M1344.0 457V472M1346.4 460V462M1348.8 455V460M1351.2 450V455M1353.6 448V450M1356.0 448V450M1358.4 448V455M1360.8 455V464M1363.2 464V474M1365.6 474V486M1368.0 486V503M1370.4 503V517M1372.8 481V512M1375.2 457V481M1377.6 462V476M1379.9 476V491M1382.3 491V500M1384.7 496V505M1387.1 476V496M1389.5 467V476M1391.9 472V476M1394.3 462V479M1396.7 440V462M1399.1 436V443M1401.5 443V452M1403.9 452V467M1406.3 467V479M1408.7 479V488M1411.1 488V498M1413.5 450V493M1415.9 419V450M1418.3 421V433M1420.7 433V457M1423.1 457V500M1425.5 500V524M1427.9 500V517M1430.3 493V500M1432.7 496V498M1435.1 481V500M1437.5 450V481M1439.9 445V455M1442.3 455V472M1444.7 472V479M1447.1 479V486M1449.5 462V486M1451.9 443V462M1454.3 443V462M1456.7 462V479M1459.1 464V476M1461.5 452V464M1463.9 436V452M1466.3 426V436M1468.7 431V448M1471.1 448V486M1473.5 486V544M1475.9 544V565M1478.3 565V568M1480.7 520V570M1483.1 455V520M1485.5 445V460M1487.9 460V479M1490.3 457V481M1492.7 436V457M1495.1 436V462M1497.5 462V491M1499.9 491V522M1502.3 522V546M1504.7 546V548M1507.1 546V548M1509.5 541V546M1511.8 527V541M1514.2 508V527M1516.6 500V508M1519.0 500V503M1521.4 500V503M1523.8 500V503M1526.2 500V503M1528.6 500V503M1531.0 500V541M1533.4 541V582M1535.8 577V582M1538.2 575V577M1540.6 575V580M1543.0 575V584M1545.4 539V575M1547.8 512V539M1550.2 498V512M1552.6 491V508M1555.0 508V541M1557.4 541V565M1559.8 565V580M1562.2 565V584M1564.6 539V565M1567.0 532V577M1569.4 577V637M1571.8 604V642M1574.2 560V604"/><path stroke="#800000" d="M396.7 985V1100M399.1 1100V1201M401.5 1156V1199M403.9 1115V1156M406.3 1076V1115M408.7 1050V1076M411.1 1040V1050M413.5 1033V1076M415.9 1076V1172M418.3 1172V1216M420.7 1151V1192M423.1 1105V1151M425.5 1060V1105M427.9 1050V1112M430.3 1112V1199M432.7 1153V1208M435.1 1088V1153M437.5 1088V1136M439.9 1136V1184M442.3 1112V1180M444.7 1060V1112M447.1 1072V1136M449.5 1136V1182M451.9 1163V1177M454.3 1122V1163M456.7 1033V1122M459.1 990V1036M461.4 1036V1122M463.8 1122V1156M466.2 1156V1158M468.6 1132V1156M471.0 1096V1132M473.4 1086V1096M475.8 1079V1086M478.2 1079V1081M480.6 1079V1081M483.0 1072V1079M485.4 1064V1072M487.8 1069V1096M490.2 1096V1117M492.6 1031V1100M495.0 985V1038M497.4 1038V1182M499.8 1182V1256M502.2 1122V1213M504.6 1074V1122M507.0 1060V1074M509.4 1026V1060M511.8 980V1026M514.2 971V1021M516.6 1021V1084M519.0 1084V1127M521.4 1127V1168M523.8 1110V1165M526.2 1060V1110M528.6 1038V1060M531.0 1021V1038M533.4 1026V1052M535.8 1052V1091M538.2 1091V1160M540.6 1160V1196M543.0 1148V1182M545.4 1129V1148M547.8 1122V1129M550.2 1120V1127M552.6 1127V1136M555.0 1098V1139M557.4 1045V1098M559.8 1038V1064M562.2 1064V1096M564.6 1067V1096M567.0 1038V1067M569.4 1038V1043M571.8 1043V1057M574.2 1057V1105M576.6 1105V1139M579.0 1052V1117M581.4 1014V1052M583.8 1028V1062M586.2 1062V1088M588.6 1088V1108M591.0 1108V1117M593.3 1112V1115M595.7 1105V1112M598.1 1098V1105M600.5 1096V1098M602.9 1098V1100M605.3 1098V1100M607.7 1096V1098M610.1 1074V1096M612.5 1055V1074M614.9 1060V1096M617.3 1096V1120M619.7 1067V1108M622.1 1026V1067M624.5 985V1026M626.9 964V985M629.3 976V997M631.7 997V1033M634.1 1033V1076M636.5 1069V1091M638.9 1043V1069M641.3 1036V1060M643.7 1060V1091M646.1 1091V1100M648.5 1100V1108M650.9 1069V1108M653.3 1036V1069M655.7 1038V1050M658.1 1050V1060M660.5 1060V1062M662.9 1060V1064M665.3 1043V1060M667.7 1004V1043M670.1 937V1004M672.5 908V976M674.9 976V1096M677.3 1076V1134M679.7 992V1076M682.1 964V992M684.5 954V964M686.9 952V1031M689.3 1031V1117M691.7 1026V1117M694.1 942V1026M696.5 920V942M698.9 904V920M701.3 913V966M703.7 966V1002M706.1 952V990M708.5 930V952M710.9 937V952M713.3 952V971M715.7 971V990M718.1 990V997M720.5 995V997M722.9 978V995M725.2 954V978M727.6 947V954M730.0 940V947M732.4 868V940M734.8 798V868M737.2 805V904M739.6 904V985M742.0 973V983M744.4 966V973M746.8 966V968M749.2 964V966M751.6 954V964M754.0 949V961M756.4 961V988M758.8 988V1019M761.2 1019V1052M763.6 1040V1060M766.0 1012V1040M768.4 1004V1028M770.8 1028V1057M773.2 1000V1060M775.6 935V1000M778.0 875V935M780.4 824V875M782.8 832V868M785.2 868V906M787.6 906V949M790.0 949V978M792.4 920V961M794.8 896V920M797.2 906V925M799.6 923V932M802.0 904V923M804.4 896V904M806.8 904V913M809.2 906V916M811.6 894V906M814.0 894V928M816.4 928V964M818.8 925V964M821.2 892V925M823.6 894V920M826.0 920V947M828.4 947V980M830.8 980V1002M833.2 985V997M835.6 966V985M838.0 937V966M840.4 923V942M842.8 942V978M845.2 978V1007M847.6 1007V1036M850.0 1016V1043M852.4 983V1016M854.7 952V983M857.1 920V952M859.5 920V990M861.9 990V1057M864.3 1021V1055M866.7 980V1021M869.1 904V980M871.5 848V904M873.9 860V904M876.3 904V928M878.7 884V916M881.1 870V889M883.5 889V923M885.9 896V935M888.3 834V896M890.7 817V846M893.1 846V884M895.5 875V889M897.9 856V875M900.3 848V856M902.7 844V848M905.1 844V851M907.5 851V868M909.9 868V918M912.3 918V971M914.7 971V1031M917.1 1026V1067M919.5 920V1026M921.9 865V920M924.3 868V870M926.7 870V872M929.1 865V870M931.5 812V865M933.9 740V812M936.3 728V769M938.7 769V822M941.1 822V853M943.5 853V880M945.9 858V880M948.3 839V858M950.7 824V839M953.1 812V824M955.5 820V853M957.9 853V872M960.3 863V870M962.7 858V863M965.1 863V880M967.5 868V884M969.9 836V868M972.3 820V836M974.7 812V820M977.1 810V817M979.5 817V827M981.9 827V841M984.3 841V856M986.6 812V856M989.0 774V812M991.4 776V820M993.8 820V853M996.2 820V848M998.6 798V820M1001.0 786V798M1003.4 776V798M1005.8 798V844M1008.2 832V865M1010.6 769V832M1013.0 709V769M1015.4 654V709M1017.8 640V697M1020.2 697V772M1022.6 772V781M1025.0 772V776M1027.4 772V788M1029.8 788V803M1032.2 791V803M1034.6 779V791M1037.0 786V827M1039.4 827V856M1041.8 820V848M1044.2 786V820M1046.6 740V786M1049.0 719V745M1051.4 745V803M1053.8 803V824M1056.2 767V803M1058.6 709V767M1061.0 642V709M1063.4 630V692M1065.8 692V769M1068.2 769V776M1070.6 776V779M1073.0 760V779M1075.4 743V760M1077.8 736V743M1080.2 724V736M1082.6 702V724M1085.0 685V702M1087.4 673V685M1089.8 668V688M1092.2 688V731M1094.6 721V748M1097.0 678V721M1099.4 666V748M1101.8 748V863M1104.2 820V887M1106.6 738V820M1109.0 728V738M1111.4 724V728M1113.8 707V724M1116.2 692V707M1118.5 697V721M1120.9 721V740M1123.3 668V726M1125.7 632V668M1128.1 649V700M1130.5 700V726M1132.9 676V712M1135.3 661V685M1137.7 685V726M1140.1 716V740M1142.5 678V716M1144.9 654V678M1147.3 637V654M1149.7 611V637M1152.1 582V611M1154.5 577V582M1156.9 572V577M1159.3 572V582M1161.7 582V594M1164.1 594V632M1166.5 632V659M1168.9 630V654M1171.3 611V630M1173.7 594V611M1176.1 572V594M1178.5 551V572M1180.9 544V570M1183.3 570V611M1185.7 611V620M1188.1 613V618M1190.5 599V613M1192.9 580V599M1195.3 565V580M1197.7 551V565M1200.1 551V577M1202.5 577V599M1204.9 522V587M1207.3 474V522M1209.7 486V534M1212.1 534V572M1214.5 572V596M1216.9 596V606M1219.3 587V601M1221.7 582V589M1224.1 589V601M1226.5 584V606M1228.9 558V584M1231.3 553V563M1233.7 563V577M1236.1 565V580M1238.5 548V565M1240.9 496V548M1243.3 452V496M1245.7 455V491M1248.0 491V515M1250.4 500V512M1252.8 493V503M1255.2 503V524M1257.6 524V536M1260.0 512V529M1262.4 498V512M1264.8 484V498M1267.2 479V498M1269.6 498V527M1272.0 515V534M1274.4 493V515M1276.8 476V493M1279.2 462V476M1281.6 462V476M1284.0 476V488M1286.4 486V488M1288.8 486V488M1291.2 488V508M1293.6 508V520M1296.0 486V510M1298.4 462V486M1300.8 438V462M1303.2 426V443M1305.6 443V472M1308.0 472V508M1310.4 508V544M1312.8 527V553M1315.2 493V527M1317.6 488V493M1320.0 493V503M1322.4 479V503M1324.8 455V479M1327.2 445V455M1329.6 436V445M1332.0 426V436M1334.4 416V426M1336.8 400V416M1339.2 390V404M1341.6 404V443M1344.0 443V464M1346.4 464V469M1348.8 460V472M1351.2 438V460M1353.6 431V440M1356.0 440V455M1358.4 445V457M1360.8 431V445M1363.2 428V452M1365.6 452V474M1368.0 474V476M1370.4 469V474M1372.8 443V469M1375.2 421V443M1377.6 428V457M1379.9 457V486M1382.3 486V510M1384.7 503V524M1387.1 460V503M1389.5 443V460M1391.9 457V481M1394.3 464V488M1396.7 426V464M1399.1 419V436M1401.5 436V455M1403.9 455V460M1406.3 460V464M1408.7 464V488M1411.1 488V508M1413.5 503V508M1415.9 498V503M1418.3 488V498M1420.7 481V488M1423.1 479V481M1425.5 479V484M1427.9 484V493M1430.3 493V498M1432.7 484V493M1435.1 479V488M1437.5 488V503M1439.9 503V505M1442.3 505V508M1444.7 500V508M1447.1 491V500M1449.5 491V503M1451.9 503V510M1454.3 460V508M1456.7 421V460M1459.1 438V522M1461.5 522V580M1463.9 536V570M1466.3 517V536M1468.7 520V524M1471.1 524V534M1473.5 534V546M1475.9 546V558M1478.3 558V570M1480.7 570V572M1483.1 568V570M1485.5 553V568M1487.9 536V553M1490.3 536V594M1492.7 594V652M1495.1 611V649M1497.5 575V611M1499.9 556V575M1502.3 529V556M1504.7 488V529M1507.1 462V488M1509.5 488V556M1511.8 556V589M1514.2 529V570M1516.6 512V536M1519.0 536V577M1521.4 577V589M1523.8 589V592M1526.2 570V589M1528.6 548V570M1531.0 546V551M1533.4 551V556M1535.8 522V553M1538.2 496V522M1540.6 498V515M1543.0 515V539M1545.4 539V580M1547.8 580V606M1550.2 596V604M1552.6 592V604M1555.0 604V630M1557.4 630V652M1559.8 652V671M1562.2 671V700M1564.6 700V736M1567.0 712V743M1569.4 673V712M1571.8 671V712M1574.2 712V760"/><path stroke="#008000" d="M396.7 1055V1091M399.1 1091V1127M401.5 1127V1153M403.9 1153V1172M406.3 1115V1163M408.7 1084V1115M411.1 1105V1170M413.5 1170V1208M415.9 1148V1192M418.3 1129V1148M420.7 1139V1156M423.1 1103V1163M425.5 1014V1103M427.9 990V1021M430.3 1021V1062M432.7 1062V1163M435.1 1163V1273M439.9 1240V1259M442.3 1230V1240M444.7 1213V1230M447.1 1158V1213M449.5 1110V1158M451.9 1074V1110M454.3 1052V1086M456.7 1086V1172M459.1 1172V1213M461.4 1158V1194M463.8 1144V1158M466.2 1146V1153M468.6 1153V1172M471.0 1172V1196M473.4 1196V1201M475.8 1201V1204M478.2 1105V1204M480.6 1007V1105M483.0 1012V1086M485.4 1086V1153M487.8 1153V1184M490.2 1184V1206M492.6 1134V1192M495.0 1098V1134M497.4 1100V1103M499.8 1103V1112M502.2 1112V1129M504.6 1129V1153M507.0 1153V1180M509.4 1180V1187M511.8 1172V1182M514.2 1144V1172M516.6 1108V1144M519.0 1105V1117M521.4 1117V1129M523.8 1074V1129M526.2 1024V1074M528.6 1026V1043M531.0 1043V1064M533.4 1064V1091M535.8 1091V1110M538.2 1086V1105M540.6 1074V1086M543.0 1072V1074M545.4 1072V1091M547.8 1091V1124M550.2 1124V1136M552.6 1136V1139M555.0 1136V1139M557.4 1139V1144M559.8 1117V1144M562.2 1086V1117M564.6 1079V1086M567.0 1072V1079M569.4 1031V1072M571.8 1000V1031M574.2 1014V1088M576.6 1088V1141M579.0 1031V1115M581.4 983V1031M583.8 1000V1045M586.2 1045V1093M588.6 1093V1146M591.0 1141V1165M593.3 1103V1141M595.7 1091V1110M598.1 1110V1136M600.5 1124V1141M602.9 1103V1124M605.3 1067V1103M607.7 1036V1067M610.1 1036V1050M612.5 1050V1081M614.9 1081V1196M617.3 1196V1280M619.7 1228V1268M622.1 1204V1228M624.5 1213V1240M626.9 1187V1252M629.3 1050V1187M631.7 980V1050M634.1 954V980M636.5 947V973M638.9 973V1009M641.3 1009V1019M643.7 1019V1021M646.1 1019V1033M648.5 1033V1050M650.9 1050V1100M653.3 1100V1146M655.7 1084V1136M658.1 1040V1084M660.5 1048V1067M662.9 1057V1081M665.3 985V1057M667.7 949V985M670.1 973V1028M672.5 1028V1057M674.9 1057V1067M677.3 1040V1069M679.7 995V1040M682.1 985V1019M684.5 1019V1064M686.9 1064V1108M689.3 1108V1151M691.7 1086V1151M694.1 1021V1086M696.5 978V1021M698.9 944V978M701.3 956V1012M703.7 1012V1050M706.1 947V1024M708.5 901V947M710.9 937V1019M713.3 1019V1057M715.7 997V1036M718.1 966V997M720.5 937V966M722.9 930V1026M725.2 1026V1153M727.6 1098V1170M730.0 1014V1098M732.4 1000V1014M734.8 988V1000M737.2 990V1031M739.6 1031V1062M742.0 1040V1060M744.4 1016V1040M746.8 983V1016M749.2 961V988M751.6 988V1052M754.0 1052V1086M756.4 1050V1074M758.8 1033V1050M761.2 1021V1033M763.6 1007V1021M766.0 997V1007M768.4 976V997M770.8 952V976M773.2 952V968M775.6 968V990M778.0 990V1040M780.4 1040V1084M782.8 988V1072M785.2 928V988M787.6 937V973M790.0 973V1002M792.4 1002V1021M794.8 1021V1031M797.2 1004V1024M799.6 952V1004M802.0 872V952M804.4 846V937M806.8 937V1069M809.2 1052V1096M811.6 997V1052M814.0 985V997M816.4 978V985M818.8 908V978M821.2 846V908M823.6 860V978M826.0 978V1069M828.4 1014V1057M830.8 985V1014M833.2 988V997M835.6 997V1007M838.0 1007V1016M840.4 1014V1021M842.8 1002V1014M845.2 980V1002M847.6 952V980M850.0 944V966M852.4 966V992M854.7 992V1004M857.1 1004V1016M859.5 983V1016M861.9 952V983M864.3 940V952M866.7 918V940M869.1 868V918M871.5 829V868M873.9 834V841M876.3 841V882M878.7 882V966M881.1 966V1007M883.5 949V988M885.9 935V949M888.3 944V961M890.7 944V966M893.1 918V944M895.5 894V918M897.9 870V894M900.3 868V906M902.7 906V942M905.1 918V942M907.5 901V918M909.9 908V952M912.3 952V985M914.7 911V968M917.1 863V911M919.5 832V863M921.9 815V848M924.3 848V918M926.7 913V947M929.1 863V913M931.5 846V870M933.9 870V904M936.3 904V920M938.7 920V932M941.1 913V932M943.5 892V913M945.9 882V892M948.3 875V884M950.7 884V959M953.1 959V1014M955.5 920V995M957.9 872V920M960.3 884V916M962.7 916V942M965.1 942V961M967.5 961V968M969.9 964V968M972.3 899V964M974.7 805V899M977.1 784V858M979.5 858V949M981.9 949V966M984.3 966V971M986.6 918V971M989.0 870V918M991.4 870V872M993.8 868V872M996.2 851V868M998.6 839V851M1001.0 841V846M1003.4 846V851M1005.8 836V846M1008.2 822V836M1010.6 805V822M1013.0 798V808M1015.4 808V820M1017.8 820V829M1020.2 829V839M1022.6 774V841M1025.0 700V774M1027.4 697V781M1029.8 781V863M1032.2 844V863M1034.6 827V844M1037.0 815V827M1039.4 803V815M1041.8 791V803M1044.2 784V791M1046.6 784V786M1049.0 769V784M1051.4 743V769M1053.8 724V743M1056.2 712V724M1058.6 709V738M1061.0 738V779M1063.4 769V786M1065.8 750V769M1068.2 748V772M1070.6 772V793M1073.0 745V791M1075.4 704V745M1077.8 714V776M1080.2 776V822M1082.6 793V815M1085.0 767V793M1087.4 738V767M1089.8 721V738M1092.2 738V769M1094.6 769V781M1097.0 762V774M1099.4 757V788M1101.8 788V829M1104.2 769V839M1106.6 683V769M1109.0 676V820M1111.4 820V976M1113.8 877V976M1116.2 791V877M1118.5 774V791M1120.9 760V774M1123.3 762V776M1125.7 774V788M1128.1 738V774M1130.5 716V755M1132.9 755V839M1135.3 839V877M1137.7 798V848M1140.1 757V798M1142.5 721V757M1144.9 714V721M1147.3 721V731M1149.7 731V776M1152.1 776V827M1154.5 762V829M1156.9 700V762M1159.3 702V748M1161.7 748V784M1164.1 728V774M1166.5 683V728M1168.9 635V683M1171.3 606V635M1173.7 608V618M1176.1 618V637M1178.5 637V668M1180.9 666V678M1183.3 644V666M1185.7 640V680M1188.1 680V736M1190.5 736V745M1192.9 736V740M1195.3 719V736M1197.7 704V719M1200.1 707V745M1202.5 745V776M1204.9 661V760M1207.3 589V661M1209.7 594V608M1212.1 608V625M1214.5 625V642M1216.9 642V664M1219.3 664V692M1221.7 668V704M1224.1 608V668M1226.5 592V644M1228.9 644V716M1231.3 716V731M1233.7 712V721M1236.1 654V712M1238.5 594V654M1240.9 596V611M1243.3 611V625M1245.7 625V628M1248.0 613V625M1250.4 568V613M1252.8 539V568M1255.2 539V541M1257.6 539V568M1260.0 568V628M1262.4 628V654M1264.8 616V640M1267.2 608V616M1269.6 608V611M1272.0 577V611M1274.4 534V577M1276.8 529V551M1279.2 551V575M1281.6 563V575M1284.0 551V563M1286.4 532V551M1288.8 515V532M1291.2 520V532M1293.6 532V541M1296.0 539V541M1298.4 539V541M1300.8 541V544M1303.2 544V546M1305.6 544V546M1308.0 544V558M1310.4 558V584M1312.8 551V592M1315.2 498V551M1317.6 491V520M1320.0 520V553M1322.4 553V558M1324.8 558V565M1327.2 553V563M1329.6 541V553M1332.0 522V541M1334.4 508V522M1336.8 510V512M1339.2 512V515M1341.6 515V520M1344.0 505V524M1346.4 469V505M1348.8 455V469M1351.2 450V455M1353.6 450V455M1356.0 455V462M1358.4 462V464M1360.8 457V462M1363.2 457V469M1365.6 469V479M1368.0 464V479M1370.4 450V464M1372.8 450V455M1375.2 455V462M1377.6 462V472M1379.9 472V476M1382.3 464V474M1384.7 460V467M1387.1 467V481M1389.5 481V488M1391.9 484V486M1394.3 479V484M1396.7 474V479M1399.1 464V474M1401.5 455V464M1403.9 455V479M1406.3 479V505M1408.7 488V505M1411.1 472V488M1413.5 440V472M1415.9 419V440M1418.3 419V428M1420.7 428V448M1423.1 448V493M1425.5 493V517M1427.9 488V508M1430.3 479V488M1432.7 479V481M1435.1 479V500M1437.5 500V532M1439.9 517V539M1442.3 488V517M1444.7 467V488M1447.1 445V467M1449.5 443V448M1451.9 448V450M1454.3 450V460M1456.7 460V467M1459.1 438V462M1461.5 421V438M1463.9 433V472M1466.3 472V496M1468.7 419V472M1471.1 392V419M1473.5 407V438M1475.9 438V452M1478.3 452V460M1480.7 460V462M1483.1 462V467M1485.5 457V467M1487.9 448V457M1490.3 445V452M1492.7 452V460M1495.1 460V517M1497.5 517V565M1499.9 532V560M1502.3 505V532M1504.7 481V505M1507.1 467V481M1509.5 481V522M1511.8 522V541M1514.2 505V529M1516.6 493V520M1519.0 520V563M1521.4 541V575M1523.8 491V541M1526.2 474V491M1528.6 464V474M1531.0 464V486M1533.4 486V510M1535.8 510V534M1538.2 534V560M1540.6 560V599M1543.0 599V628M1545.4 616V625M1547.8 608V625M1550.2 625V671M1552.6 666V697M1555.0 601V666M1557.4 572V601M1559.8 582V601M1562.2 601V618M1564.6 618V640M1567.0 565V642M1569.4 469V565M1571.8 460V539M1574.2 539V630"/><path stroke="#008080" d="M401.5 1206V1266M403.9 1141V1206M406.3 1069V1141M408.7 1021V1069M411.1 1057V1168M413.5 1168V1232M415.9 1177V1216M418.3 1158V1177M420.7 1175V1208M423.1 1206V1220M425.5 1184V1206M427.9 1170V1184M430.3 1160V1170M432.7 1158V1180M435.1 1180V1206M437.5 1139V1206M439.9 1074V1139M442.3 1024V1074M444.7 980V1024M447.1 995V1064M449.5 1064V1115M451.9 1108V1112M454.3 1105V1112M456.7 1112V1129M459.1 1129V1136M461.4 1124V1132M463.8 1108V1124M466.2 1086V1108M468.6 1081V1096M471.0 1096V1117M473.4 1115V1120M475.8 1108V1115M478.2 1069V1108M480.6 1028V1069M483.0 1031V1079M485.4 1079V1120M487.8 1028V1108M490.2 971V1028M492.6 978V1009M495.0 1009V1031M497.4 1031V1040M499.8 1031V1045M502.2 1004V1031M504.6 992V1064M507.0 1064V1192M509.4 1165V1230M511.8 1069V1165M514.2 1050V1084M516.6 1084V1127M519.0 1103V1132M521.4 1072V1103M523.8 1072V1117M526.2 1117V1156M528.6 1084V1148M531.0 1036V1084M533.4 1048V1096M535.8 1096V1127M538.2 1093V1120M540.6 1081V1093M543.0 1081V1084M545.4 1072V1086M547.8 1045V1072M550.2 1036V1050M552.6 1050V1072M555.0 1069V1076M557.4 1062V1069M559.8 1021V1062M562.2 978V1021M564.6 887V978M567.0 800V887M569.4 810V896M571.8 896V978M574.2 978V1048M576.6 1048V1096M579.0 1096V1100M581.4 1100V1110M583.8 1110V1129M586.2 1100V1139M588.6 1024V1100M591.0 997V1024M593.3 1014V1045M595.7 1045V1052M598.1 1048V1050M600.5 1045V1069M602.9 1069V1093M605.3 1076V1096M607.7 1060V1076M610.1 1060V1079M612.5 1079V1096M614.9 1050V1088M617.3 1021V1050M619.7 1016V1021M622.1 995V1016M624.5 944V995M626.9 918V959M629.3 959V1043M631.7 1043V1076M634.1 990V1043M636.5 976V1033M638.9 1033V1112M641.3 1096V1127M643.7 1057V1096M646.1 1019V1057M648.5 980V1019M650.9 980V1016M653.3 1016V1045M655.7 1045V1048M658.1 1040V1045M660.5 1016V1040M662.9 990V1016M665.3 959V990M667.7 944V966M670.1 966V1019M672.5 1019V1045M674.9 1045V1055M677.3 1026V1057M679.7 978V1026M682.1 966V988M684.5 988V1012M686.9 1009V1014M689.3 1004V1009M691.7 1004V1007M694.1 1002V1009M696.5 1009V1067M698.9 1067V1112M701.3 1098V1110M703.7 1084V1098M706.1 1062V1084M708.5 1050V1062M710.9 1057V1069M713.3 1057V1076M715.7 1021V1057M718.1 1000V1021M720.5 988V1000M722.9 983V992M725.2 992V1004M727.6 988V1007M730.0 964V988M732.4 925V964M734.8 889V925M737.2 892V911M739.6 911V940M742.0 940V1016M744.4 1016V1069M746.8 937V1040M749.2 865V937M751.6 836V865M754.0 822V875M756.4 875V978M758.8 978V1019M761.2 1004V1014M763.6 1002V1033M766.0 1033V1074M768.4 1009V1081M770.8 920V1009M773.2 916V983M775.6 983V1052M778.0 1052V1064M780.4 1060V1074M782.8 964V1060M785.2 887V964M787.6 872V887M790.0 863V884M792.4 884V937M794.8 937V983M797.2 983V1021M799.6 997V1036M802.0 930V997M804.4 908V952M806.8 952V1016M809.2 980V1028M811.6 918V980M814.0 913V918M816.4 918V920M818.8 896V920M821.2 877V896M823.6 877V889M826.0 889V906M828.4 906V942M830.8 942V966M833.2 961V964M835.6 959V961M838.0 959V961M840.4 928V961M842.8 870V928M845.2 851V870M847.6 868V896M850.0 896V944M852.4 944V997M854.7 954V1004M857.1 899V954M859.5 844V899M861.9 796V844M864.3 796V812M866.7 812V824M869.1 743V812M871.5 697V743M873.9 738V877M876.3 877V959M878.7 923V947M881.1 911V923M883.5 918V930M885.9 920V935M888.3 899V920M890.7 870V899M893.1 839V870M895.5 834V839M897.9 836V839M900.3 839V851M902.7 851V868M905.1 868V911M907.5 911V944M909.9 911V940M912.3 877V911M914.7 834V877M917.1 805V834M919.5 810V817M921.9 798V820M924.3 755V798M926.7 738V769M929.1 769V820M931.5 820V834M933.9 827V829M936.3 822V827M938.7 817V822M941.1 800V817M943.5 781V800M945.9 781V791M948.3 791V800M950.7 800V817M953.1 817V832M955.5 832V834M957.9 832V834M960.3 832V834M962.7 832V836M965.1 836V846M967.5 812V851M969.9 745V812M972.3 724V760M974.7 760V812M977.1 803V822M979.5 779V803M981.9 776V791M984.3 791V805M986.6 805V827M989.0 827V848M991.4 808V844M993.8 779V808M996.2 793V856M998.6 856V899M1001.0 851V887M1003.4 805V851M1005.8 745V805M1008.2 719V745M1010.6 745V798M1013.0 798V836M1015.4 836V865M1017.8 800V872M1020.2 704V800M1022.6 690V721M1025.0 721V757M1027.4 757V769M1029.8 769V784M1032.2 784V848M1034.6 848V901M1037.0 817V889M1039.4 755V817M1041.8 721V755M1044.2 700V721M1046.6 716V757M1049.0 757V779M1051.4 760V772M1053.8 755V764M1056.2 764V781M1058.6 781V791M1061.0 791V796M1063.4 740V796M1065.8 673V740M1068.2 668V690M1070.6 690V712M1073.0 712V733M1075.4 733V752M1077.8 702V745M1080.2 671V702M1082.6 680V719M1085.0 719V762M1087.4 762V812M1089.8 798V839M1092.2 714V798M1094.6 678V714M1097.0 700V736M1099.4 642V748M1101.8 488V642M1104.2 457V563M1106.6 563V695M1109.0 695V719M1111.4 719V733M1113.8 721V733M1116.2 712V721M1118.5 712V714M1120.9 712V716M1123.3 716V740M1125.7 740V757M1128.1 697V743M1130.5 666V697M1132.9 656V666M1135.3 652V668M1137.7 668V702M1140.1 661V714M1142.5 580V661M1144.9 560V584M1147.3 584V616M1149.7 613V618M1152.1 606V613M1154.5 606V630M1156.9 630V654M1159.3 654V664M1161.7 664V671M1164.1 628V664M1166.5 589V628M1168.9 546V589M1171.3 520V546M1173.7 532V560M1176.1 560V596M1178.5 596V642M1180.9 608V659M1183.3 527V608M1185.7 508V568M1188.1 568V654M1190.5 635V666M1192.9 601V635M1195.3 582V601M1197.7 568V582M1200.1 568V570M1202.5 565V570M1204.9 536V565M1207.3 517V536M1209.7 532V587M1212.1 587V620M1214.5 570V606M1216.9 551V570M1219.3 553V558M1221.7 558V592M1224.1 592V644M1226.5 601V661M1228.9 520V601M1231.3 498V520M1233.7 491V498M1236.1 491V524M1238.5 524V563M1240.9 532V560M1243.3 505V532M1245.7 508V515M1248.0 512V522M1250.4 481V512M1252.8 460V481M1255.2 460V462M1257.6 450V460M1260.0 431V450M1262.4 421V433M1264.8 433V457M1267.2 457V476M1269.6 476V498M1272.0 498V512M1274.4 512V522M1276.8 488V524M1279.2 448V488M1281.6 448V467M1284.0 467V488M1286.4 488V515M1288.8 515V536M1291.2 450V520M1293.6 402V450M1296.0 419V467M1298.4 467V496M1300.8 491V493M1303.2 443V491M1305.6 359V443M1308.0 328V376M1310.4 376V448M1312.8 448V467M1315.2 467V472M1317.6 426V472M1320.0 373V426M1322.4 371V440M1324.8 440V505M1327.2 484V505M1329.6 467V484M1332.0 464V467M1334.4 457V464M1336.8 443V457M1339.2 436V452M1341.6 452V496M1344.0 496V515M1346.4 452V496M1348.8 438V452M1351.2 440V445M1353.6 445V452M1356.0 452V460M1358.4 460V469M1360.8 469V479M1363.2 469V481M1365.6 455V469M1368.0 450V455M1370.4 448V450M1372.8 450V474M1375.2 474V491M1377.6 484V488M1379.9 474V484M1382.3 460V474M1384.7 452V460M1387.1 460V476M1389.5 476V481M1391.9 479V481M1394.3 474V479M1396.7 469V474M1399.1 467V472M1401.5 472V474M1403.9 474V486M1406.3 486V498M1408.7 486V498M1411.1 476V486M1413.5 472V476M1415.9 467V472M1418.3 469V472M1420.7 472V484M1423.1 484V512M1425.5 512V532M1427.9 532V541M1430.3 541V551M1432.7 551V565M1435.1 544V570M1437.5 508V544M1439.9 484V508M1442.3 467V484M1444.7 464V498M1447.1 498V536M1449.5 536V553M1451.9 553V565M1454.3 539V563M1456.7 515V539M1459.1 496V515M1461.5 484V496M1463.9 488V503M1466.3 503V532M1468.7 532V582M1471.1 580V606M1473.5 527V580M1475.9 508V539M1478.3 539V592M1480.7 587V606M1483.1 560V587M1485.5 548V560M1487.9 541V548M1490.3 541V558M1492.7 558V575M1495.1 575V594M1497.5 594V611M1499.9 608V611M1502.3 608V616M1504.7 616V642M1507.1 642V659M1509.5 642V654M1511.8 630V642M1514.2 618V630M1516.6 611V620M1519.0 620V635M1521.4 635V652M1523.8 652V671M1526.2 664V676M1528.6 647V664M1531.0 623V647M1533.4 599V623M1535.8 601V649M1538.2 649V695M1540.6 695V719M1543.0 716V738M1545.4 628V716M1547.8 570V628M1550.2 592V649M1552.6 642V680M1555.0 553V642M1557.4 517V553M1559.8 527V546M1562.2 546V599M1564.6 599V668M1567.0 668V683M1569.4 654V671M1571.8 652V656M1574.2 656V661"/><path stroke="#0000A0" d="M396.7 1088V1136M399.1 1136V1182M401.5 1182V1194M403.9 1187V1204M406.3 1115V1187M408.7 1067V1117M411.1 1117V1271M415.9 1163V1297M418.3 1100V1163M420.7 1117V1148M423.1 1148V1160M425.5 1132V1148M427.9 1086V1132M430.3 1033V1086M432.7 1026V1038M435.1 1038V1052M437.5 1052V1139M439.9 1139V1220M442.3 1168V1216M444.7 1127V1168M447.1 1132V1165M449.5 1165V1187M451.9 1129V1172M454.3 1100V1129M456.7 1103V1108M459.1 1105V1110M461.4 1096V1105M463.8 1091V1120M466.2 1120V1165M468.6 1165V1177M471.0 1170V1175M473.4 1108V1170M475.8 1033V1108M478.2 1000V1033M480.6 973V1000M483.0 976V1060M485.4 1060V1136M487.8 1136V1192M490.2 1192V1230M492.6 1091V1201M495.0 1021V1091M497.4 1036V1069M499.8 1069V1091M502.2 1091V1100M504.6 1100V1110M507.0 1110V1117M509.4 1086V1120M511.8 1038V1086M514.2 1026V1072M516.6 1072V1124M519.0 1086V1132M521.4 1038V1086M523.8 1038V1081M526.2 1081V1122M528.6 1098V1120M531.0 1084V1098M533.4 1086V1103M535.8 1103V1120M538.2 1120V1146M540.6 1146V1160M543.0 1122V1148M545.4 1091V1122M547.8 1057V1091M550.2 1016V1057M552.6 976V1016M555.0 966V1033M557.4 1033V1124M559.8 1060V1134M562.2 973V1060M564.6 971V1048M567.0 1048V1117M569.4 1081V1115M571.8 1048V1081M574.2 1026V1048M576.6 1004V1026M579.0 983V1004M581.4 971V983M583.8 983V1012M586.2 1012V1045M588.6 1045V1084M591.0 1084V1100M593.3 1100V1110M595.7 1088V1112M598.1 1055V1088M600.5 1045V1055M602.9 1040V1045M605.3 1024V1040M607.7 1007V1024M610.1 1007V1021M612.5 1021V1036M614.9 1036V1045M617.3 1038V1050M619.7 997V1038M622.1 971V997M624.5 976V988M626.9 988V1014M629.3 1014V1052M631.7 1052V1069M634.1 1069V1072M636.5 1069V1074M638.9 1074V1079M641.3 1079V1086M643.7 1086V1096M646.1 1040V1096M648.5 983V1040M650.9 985V1069M653.3 1069V1139M655.7 1052V1129M658.1 983V1052M660.5 932V983M662.9 899V937M665.3 937V1045M667.7 1045V1103M670.1 1036V1081M672.5 992V1036M674.9 949V992M677.3 935V954M679.7 954V980M682.1 980V1045M684.5 1045V1122M686.9 1000V1129M689.3 853V1000M691.7 853V930M694.1 930V1000M696.5 988V997M698.9 980V988M701.3 983V995M703.7 995V1004M706.1 961V995M708.5 942V976M710.9 976V1055M713.3 1055V1093M715.7 1081V1088M718.1 1043V1081M720.5 983V1043M722.9 928V983M725.2 872V928M727.6 865V913M730.0 913V968M732.4 968V1004M734.8 1004V1038M737.2 995V1036M739.6 961V995M742.0 971V1026M744.4 1026V1064M746.8 971V1043M749.2 928V971M751.6 954V1021M754.0 1019V1055M756.4 952V1019M758.8 925V952M761.2 935V954M763.6 954V992M766.0 992V1040M768.4 956V1050M770.8 846V956M773.2 839V904M775.6 904V968M778.0 944V966M780.4 925V944M782.8 928V944M785.2 942V956M787.6 889V942M790.0 856V889M792.4 846V856M794.8 841V875M797.2 875V947M799.6 947V976M802.0 971V976M804.4 971V990M806.8 990V1019M809.2 1000V1024M811.6 968V1000M814.0 956V968M816.4 947V956M818.8 947V976M821.2 976V1002M823.6 920V992M826.0 863V920M828.4 872V911M830.8 911V937M833.2 875V920M835.6 848V877M838.0 877V942M840.4 942V971M842.8 954V966M845.2 913V954M847.6 858V913M850.0 844V872M852.4 872V911M854.7 836V916M857.1 745V836M859.5 743V779M861.9 779V820M864.3 820V884M866.7 884V937M869.1 901V932M871.5 875V901M873.9 858V875M876.3 848V858M878.7 856V872M881.1 872V894M883.5 894V923M885.9 923V932M888.3 932V935M890.7 930V932M893.1 928V930M895.5 928V935M897.9 935V942M900.3 865V942M902.7 788V865M905.1 788V800M907.5 800V822M909.9 822V896M912.3 896V952M914.7 880V935M917.1 844V880M919.5 868V932M921.9 932V966M924.3 894V942M926.7 872V894M929.1 872V875M931.5 858V872M933.9 841V858M936.3 839V856M938.7 856V875M941.1 829V877M943.5 781V829M945.9 781V810M948.3 810V834M950.7 772V827M953.1 731V772M955.5 745V800M957.9 800V841M960.3 841V858M962.7 858V875M965.1 875V896M967.5 875V904M969.9 824V875M972.3 803V824M974.7 798V803M977.1 796V839M979.5 839V892M981.9 856V896M984.3 812V856M986.6 812V820M989.0 820V834M991.4 834V887M993.8 887V930M996.2 752V899M998.6 654V752M1001.0 690V803M1003.4 803V868M1005.8 860V865M1008.2 827V860M1010.6 767V827M1013.0 736V767M1015.4 721V736M1017.8 716V748M1020.2 748V791M1022.6 779V796M1025.0 757V779M1027.4 757V762M1029.8 762V767M1032.2 743V764M1034.6 726V743M1037.0 731V757M1039.4 757V776M1041.8 776V779M1044.2 779V786M1046.6 786V800M1049.0 800V810M1051.4 808V810M1053.8 762V808M1056.2 690V762M1058.6 668V690M1061.0 688V714M1063.4 714V736M1065.8 736V760M1068.2 714V760M1070.6 668V714M1073.0 671V688M1075.4 688V714M1077.8 714V798M1080.2 798V858M1082.6 779V841M1085.0 733V779M1087.4 716V733M1089.8 685V716M1092.2 642V685M1094.6 625V652M1097.0 652V695M1099.4 695V709M1101.8 673V695M1104.2 668V719M1106.6 719V781M1109.0 776V786M1111.4 764V776M1113.8 764V824M1116.2 824V875M1118.5 707V858M1120.9 592V707M1123.3 616V721M1125.7 721V791M1128.1 755V781M1130.5 728V755M1132.9 702V728M1135.3 666V702M1137.7 623V666M1140.1 606V625M1142.5 625V652M1144.9 652V716M1147.3 716V791M1149.7 680V800M1152.1 546V680M1154.5 544V599M1156.9 599V652M1159.3 630V649M1161.7 613V630M1164.1 618V642M1166.5 642V659M1168.9 625V652M1171.3 604V625M1173.7 584V604M1176.1 572V584M1178.5 563V572M1180.9 558V580M1183.3 580V616M1185.7 596V623M1188.1 558V596M1190.5 553V606M1192.9 606V668M1195.3 656V671M1197.7 642V656M1200.1 642V644M1202.5 640V642M1204.9 632V640M1207.3 601V632M1209.7 505V601M1212.1 448V505M1214.5 481V568M1216.9 568V616M1219.3 616V625M1221.7 604V630M1224.1 565V604M1226.5 553V587M1228.9 587V635M1231.3 594V644M1233.7 532V594M1236.1 527V544M1238.5 544V563M1240.9 548V563M1243.3 539V548M1245.7 539V541M1248.0 539V544M1250.4 527V539M1252.8 517V527M1255.2 522V532M1257.6 515V536M1260.0 467V515M1262.4 445V481M1264.8 481V541M1267.2 541V563M1269.6 539V553M1272.0 534V544M1274.4 544V556M1276.8 512V556M1279.2 464V512M1281.6 464V486M1284.0 486V503M1286.4 496V503M1288.8 491V496M1291.2 493V512M1293.6 512V524M1296.0 498V517M1298.4 479V498M1300.8 467V479M1303.2 462V474M1305.6 474V500M1308.0 498V510M1310.4 484V498M1312.8 479V508M1315.2 508V548M1317.6 527V553M1320.0 498V527M1322.4 464V498M1324.8 431V464M1327.2 436V486M1329.6 486V527M1332.0 498V522M1334.4 481V498M1336.8 479V481M1339.2 474V479M1341.6 469V474M1344.0 455V469M1346.4 433V455M1348.8 424V445M1351.2 445V481M1353.6 476V491M1356.0 455V476M1358.4 450V460M1360.8 460V469M1363.2 457V469M1365.6 445V457M1368.0 448V479M1370.4 479V508M1372.8 452V500M1375.2 419V452M1377.6 428V460M1379.9 460V479M1382.3 469V476M1384.7 467V476M1387.1 476V498M1389.5 481V508M1391.9 436V481M1394.3 421V443M1396.7 443V472M1399.1 472V479M1401.5 476V479M1403.9 467V476M1406.3 457V467M1408.7 448V457M1411.1 440V448M1413.5 438V440M1415.9 431V438M1418.3 407V431M1420.7 392V407M1423.1 397V412M1425.5 412V431M1427.9 431V452M1430.3 452V464M1432.7 464V469M1435.1 469V474M1437.5 474V476M1439.9 476V484M1442.3 484V491M1444.7 464V493M1447.1 433V464M1449.5 433V476M1451.9 476V517M1454.3 486V515M1456.7 464V486M1459.1 467V481M1461.5 481V491M1463.9 488V491M1466.3 486V493M1468.7 493V508M1471.1 508V522M1473.5 522V539M1475.9 539V563M1478.3 563V596M1480.7 572V604M1483.1 529V572M1485.5 522V529M1487.9 522V524M1490.3 517V524M1492.7 510V517M1495.1 512V536M1497.5 536V560M1499.9 560V577M1502.3 577V592M1504.7 534V580M1507.1 508V534M1509.5 515V539M1511.8 539V565M1514.2 565V594M1516.6 594V606M1519.0 587V599M1521.4 560V587M1523.8 527V560M1526.2 520V601M1528.6 601V700M1531.0 630V707M1533.4 551V630M1535.8 551V575M1538.2 575V594M1540.6 594V596M1543.0 592V594M1545.4 594V601M1547.8 599V606M1550.2 575V599M1552.6 563V584M1555.0 584V630M1557.4 613V652M1559.8 546V613M1562.2 524V575M1564.6 575V652M1567.0 632V668M1569.4 587V632M1571.8 582V637M1574.2 637V700"/><path stroke="#FF8000" d="M396.7 1062V1112M399.1 1016V1062M401.5 1024V1086M403.9 1086V1134M406.3 1105V1129M408.7 1088V1105M411.1 1091V1098M413.5 1093V1103M415.9 1074V1093M418.3 1064V1076M420.7 1076V1103M423.1 1103V1115M425.5 1115V1122M427.9 1122V1129M430.3 1129V1134M432.7 1100V1136M435.1 1060V1100M437.5 1060V1079M439.9 1079V1100M442.3 1098V1100M444.7 1096V1098M447.1 1096V1098M449.5 1096V1103M451.9 1103V1129M454.3 1129V1146M456.7 1146V1148M459.1 1148V1156M461.4 1156V1165M463.8 1120V1170M466.2 1038V1120M468.6 1014V1086M471.0 1086V1187M473.4 1187V1204M475.8 1184V1194M478.2 1184V1223M480.6 1223V1261M483.0 1168V1256M485.4 1086V1168M487.8 1067V1086M490.2 1052V1067M492.6 1064V1105M495.0 1105V1132M497.4 1084V1120M499.8 1064V1105M502.2 1105V1192M504.6 1192V1225M507.0 1160V1201M509.4 1144V1160M511.8 1139V1144M514.2 1139V1172M516.6 1172V1216M519.0 1067V1220M521.4 904V1067M523.8 904V1043M526.2 1043V1168M528.6 1168V1177M531.0 1177V1184M533.4 1146V1177M535.8 1093V1146M538.2 997V1093M540.6 944V997M543.0 968V1026M545.4 1026V1050M547.8 1026V1043M550.2 1021V1043M552.6 1043V1074M555.0 1045V1081M557.4 1000V1045M559.8 995V1028M562.2 1028V1064M564.6 1028V1064M567.0 995V1028M569.4 995V1004M571.8 1004V1021M574.2 1021V1072M576.6 1072V1105M579.0 1084V1100M581.4 1062V1084M583.8 1031V1062M586.2 1016V1031M588.6 1031V1060M591.0 1052V1072M593.3 1019V1052M595.7 1012V1031M598.1 1031V1057M600.5 1057V1098M602.9 1098V1141M605.3 1122V1144M607.7 1100V1122M610.1 1079V1100M612.5 1062V1079M614.9 1069V1112M617.3 1112V1148M619.7 1148V1163M622.1 1136V1172M624.5 1045V1136M626.9 1000V1045M629.3 1021V1062M631.7 1062V1093M634.1 1093V1117M636.5 1084V1124M638.9 1026V1084M641.3 1004V1026M643.7 990V1004M646.1 968V990M648.5 947V968M650.9 949V1033M653.3 1033V1105M655.7 1024V1096M658.1 968V1024M660.5 973V988M662.9 988V995M665.3 990V995M667.7 988V1019M670.1 1019V1091M672.5 1038V1120M674.9 894V1038M677.3 848V952M679.7 952V1108M682.1 1033V1141M684.5 899V1033M686.9 884V942M689.3 942V1004M691.7 1004V1026M694.1 1026V1045M696.5 954V1038M698.9 892V954M701.3 899V932M703.7 932V964M706.1 964V990M708.5 990V1043M710.9 1043V1132M713.3 1110V1175M715.7 990V1110M718.1 916V990M720.5 863V916M722.9 851V904M725.2 904V973M727.6 973V1009M730.0 1009V1040M732.4 1000V1040M734.8 961V1000M737.2 964V1004M739.6 1004V1038M742.0 971V1028M744.4 932V971M746.8 932V935M749.2 935V954M751.6 954V995M754.0 995V1016M756.4 985V1007M758.8 978V992M761.2 992V1019M763.6 1000V1026M766.0 966V1000M768.4 961V1014M770.8 1014V1076M773.2 1016V1081M775.6 947V1016M778.0 913V947M780.4 882V913M782.8 868V882M785.2 856V868M787.6 865V904M790.0 904V930M792.4 894V920M794.8 882V918M797.2 918V995M799.6 995V1026M802.0 1000V1016M804.4 995V1012M806.8 1012V1031M809.2 968V1036M811.6 887V968M814.0 880V896M816.4 896V913M818.8 882V913M821.2 853V882M823.6 853V865M826.0 865V880M828.4 880V901M830.8 901V916M833.2 911V913M835.6 906V911M838.0 904V906M840.4 901V908M842.8 908V920M845.2 920V947M847.6 947V983M850.0 968V990M852.4 937V968M854.7 935V976M857.1 976V1024M859.5 961V1024M861.9 906V961M864.3 908V930M866.7 930V949M869.1 942V947M871.5 923V942M873.9 870V923M876.3 839V870M878.7 846V860M881.1 844V868M883.5 793V844M885.9 776V817M888.3 817V884M890.7 884V901M893.1 880V892M895.5 863V880M897.9 846V863M900.3 846V868M902.7 868V889M905.1 863V889M907.5 841V863M909.9 851V911M912.3 911V952M914.7 877V937M917.1 839V877M919.5 860V916M921.9 916V942M924.3 870V918M926.7 851V896M929.1 896V971M931.5 932V995M933.9 846V932M936.3 820V846M938.7 803V820M941.1 803V824M943.5 824V846M945.9 774V844M948.3 716V774M950.7 719V738M953.1 738V760M955.5 760V791M957.9 791V815M960.3 815V827M962.7 827V834M965.1 812V827M967.5 793V812M969.9 772V793M972.3 764V772M974.7 769V776M977.1 776V836M979.5 836V911M981.9 911V928M984.3 928V935M986.6 935V968M989.0 968V1000M991.4 880V988M993.8 796V880M996.2 803V834M998.6 834V856M1001.0 827V848M1003.4 796V827M1005.8 750V796M1008.2 731V755M1010.6 755V803M1013.0 798V817M1015.4 769V798M1017.8 733V769M1020.2 692V733M1022.6 688V731M1025.0 731V784M1027.4 774V784M1029.8 764V774M1032.2 764V779M1034.6 779V796M1037.0 796V836M1039.4 836V865M1041.8 774V844M1044.2 726V774M1046.6 714V726M1049.0 697V714M1051.4 678V697M1053.8 671V731M1056.2 731V832M1058.6 800V858M1061.0 724V800M1063.4 709V724M1065.8 712V714M1068.2 695V714M1070.6 678V695M1073.0 678V716M1075.4 716V750M1077.8 738V748M1080.2 733V740M1082.6 740V769M1085.0 769V786M1087.4 774V784M1089.8 769V774M1092.2 769V772M1094.6 736V774M1097.0 668V736M1099.4 649V690M1101.8 690V750M1104.2 726V762M1106.6 680V726M1109.0 678V692M1111.4 692V707M1113.8 707V752M1116.2 752V791M1118.5 704V781M1120.9 642V704M1123.3 635V642M1125.7 620V635M1128.1 596V620M1130.5 584V616M1132.9 616V685M1135.3 685V716M1137.7 673V702M1140.1 661V673M1142.5 659V661M1144.9 659V661M1147.3 661V664M1149.7 647V661M1152.1 628V647M1154.5 625V628M1156.9 623V625M1159.3 625V654M1161.7 654V678M1164.1 592V664M1166.5 544V592M1168.9 570V661M1171.3 661V714M1173.7 676V704M1176.1 640V676M1178.5 599V640M1180.9 582V599M1183.3 589V596M1185.7 596V613M1188.1 613V630M1190.5 630V656M1192.9 656V685M1195.3 601V685M1197.7 520V601M1200.1 522V563M1202.5 563V599M1204.9 587V596M1207.3 577V587M1209.7 582V596M1212.1 594V604M1214.5 568V594M1216.9 556V568M1219.3 563V575M1221.7 570V580M1224.1 553V570M1226.5 544V553M1228.9 534V544M1231.3 529V534M1233.7 527V529M1236.1 527V558M1238.5 558V589M1240.9 568V589M1243.3 546V568M1245.7 522V546M1248.0 508V522M1250.4 508V517M1252.8 517V522M1255.2 517V520M1257.6 496V517M1260.0 452V496M1262.4 436V452M1264.8 436V438M1267.2 438V474M1269.6 474V529M1272.0 520V539M1274.4 493V520M1276.8 491V500M1279.2 500V512M1281.6 486V512M1284.0 462V486M1286.4 464V476M1288.8 476V488M1291.2 488V498M1293.6 498V512M1296.0 512V539M1298.4 539V556M1300.8 508V541M1303.2 488V508M1305.6 484V488M1308.0 484V491M1310.4 491V503M1312.8 488V508M1315.2 464V488M1317.6 460V491M1320.0 491V524M1322.4 491V527M1324.8 457V491M1327.2 460V488M1329.6 488V512M1332.0 450V503M1334.4 412V450M1336.8 421V460M1339.2 460V484M1341.6 452V474M1344.0 438V452M1346.4 431V438M1348.8 404V431M1351.2 364V404M1353.6 354V395M1356.0 395V452M1358.4 452V484M1360.8 484V510M1363.2 484V512M1365.6 452V484M1368.0 452V462M1370.4 462V472M1372.8 464V469M1375.2 460V464M1377.6 457V460M1379.9 457V462M1382.3 462V479M1384.7 479V488M1387.1 457V479M1389.5 450V484M1391.9 484V546M1394.3 524V565M1396.7 464V524M1399.1 452V464M1401.5 452V455M1403.9 443V452M1406.3 431V443M1408.7 424V431M1411.1 416V424M1413.5 424V493M1415.9 493V546M1418.3 503V539M1420.7 464V503M1423.1 424V464M1425.5 400V424M1427.9 419V460M1430.3 460V479M1432.7 479V481M1435.1 481V488M1437.5 488V496M1439.9 496V503M1442.3 503V510M1444.7 510V515M1447.1 515V520M1449.5 500V520M1451.9 481V500M1454.3 474V481M1456.7 469V474M1459.1 472V474M1461.5 474V493M1463.9 493V541M1466.3 541V572M1468.7 572V575M1471.1 553V577M1473.5 510V553M1475.9 493V510M1478.3 500V512M1480.7 512V527M1483.1 527V546M1485.5 546V558M1487.9 558V572M1490.3 534V572M1492.7 496V534M1495.1 500V546M1497.5 546V587M1499.9 587V611M1502.3 599V628M1504.7 496V599M1507.1 431V496M1509.5 460V534M1511.8 534V570M1514.2 565V568M1516.6 563V565M1519.0 560V563M1521.4 560V584M1523.8 584V616M1526.2 601V620M1528.6 577V601M1531.0 575V604M1533.4 604V635M1535.8 613V632M1538.2 594V613M1540.6 584V594M1543.0 577V584M1545.4 582V608M1547.8 608V623M1550.2 613V620M1552.6 606V613M1555.0 604V606M1557.4 575V604M1559.8 532V575M1562.2 517V563M1564.6 563V632M1567.0 596V647M1569.4 536V596M1571.8 529V582M1574.2 582V642"/><path stroke="#8000FF" d="M396.7 1182V1184M399.1 1182V1184M401.5 1184V1196M403.9 1196V1206M406.3 1172V1199M408.7 1156V1172M411.1 1165V1199M413.5 1199V1218M415.9 1184V1208M418.3 1172V1184M420.7 1168V1172M423.1 1148V1168M425.5 1122V1148M427.9 1115V1129M430.3 1129V1148M432.7 1148V1165M435.1 1165V1180M437.5 1148V1180M439.9 1120V1148M442.3 1120V1136M444.7 1136V1148M447.1 1141V1148M449.5 1136V1144M451.9 1144V1170M454.3 1170V1187M456.7 1172V1182M459.1 1124V1172M461.4 1038V1124M463.8 1007V1038M466.2 1021V1050M468.6 1009V1057M471.0 947V1009M473.4 935V1069M475.8 1069V1230M478.2 1105V1240M480.6 971V1105M483.0 973V1050M485.4 1050V1112M487.8 1021V1100M490.2 964V1021M492.6 964V966M495.0 966V995M497.4 995V1074M499.8 1074V1132M502.2 1132V1165M504.6 1158V1177M507.0 1122V1158M509.4 1112V1151M511.8 1151V1208M514.2 1156V1218M516.6 1079V1156M519.0 1072V1120M521.4 1120V1170M523.8 1076V1168M526.2 992V1076M528.6 997V1028M531.0 1028V1060M533.4 1060V1079M535.8 1079V1091M538.2 1069V1086M540.6 1055V1069M543.0 1040V1055M545.4 1036V1040M547.8 1040V1048M550.2 1048V1052M552.6 1052V1055M555.0 1055V1057M557.4 1057V1060M559.8 1045V1057M562.2 1033V1045M564.6 1033V1076M567.0 1076V1122M569.4 1122V1141M571.8 1141V1158M574.2 1100V1148M576.6 1067V1100M579.0 1067V1072M581.4 1072V1091M583.8 1091V1132M586.2 1098V1151M588.6 995V1098M591.0 959V995M593.3 973V1000M595.7 1000V1028M598.1 1028V1060M600.5 1060V1086M602.9 1086V1110M605.3 1024V1112M607.7 937V1024M610.1 937V952M612.5 952V971M614.9 971V1024M617.3 1024V1084M619.7 1084V1160M622.1 1160V1206M624.5 1184V1201M626.9 1120V1184M629.3 1007V1120M631.7 961V1007M634.1 995V1050M636.5 1050V1117M638.9 1117V1192M641.3 1144V1204M643.7 1072V1144M646.1 1007V1072M648.5 947V1007M650.9 949V1050M653.3 1050V1134M655.7 995V1117M658.1 904V995M660.5 920V988M662.9 988V1033M665.3 1028V1031M667.7 1002V1028M670.1 949V1002M672.5 928V949M674.9 928V930M677.3 930V949M679.7 949V976M682.1 976V997M684.5 997V1014M686.9 1014V1040M689.3 1040V1067M691.7 920V1067M694.1 788V920M696.5 798V889M698.9 889V959M701.3 925V952M703.7 908V925M706.1 916V944M708.5 944V1002M710.9 1002V1093M713.3 1074V1136M715.7 956V1074M718.1 916V956M720.5 942V983M722.9 949V992M725.2 889V949M727.6 882V904M730.0 904V928M732.4 928V968M734.8 968V1004M737.2 1004V1012M739.6 1012V1026M742.0 1026V1084M744.4 1084V1124M746.8 1007V1098M749.2 954V1007M751.6 973V1026M754.0 1026V1069M756.4 1069V1103M758.8 1062V1117M761.2 971V1062M763.6 947V973M766.0 973V1007M768.4 1007V1050M770.8 1050V1096M773.2 964V1098M775.6 824V964M778.0 829V904M780.4 904V966M782.8 952V964M785.2 940V964M787.6 964V1048M790.0 1045V1100M792.4 896V1045M794.8 817V896M797.2 851V918M799.6 918V964M802.0 964V992M804.4 964V1000M806.8 911V964M809.2 901V925M811.6 925V954M814.0 954V966M816.4 966V978M818.8 942V978M821.2 913V942M823.6 928V1040M826.0 1040V1129M828.4 1062V1117M830.8 992V1062M833.2 889V992M835.6 834V889M838.0 860V918M840.4 918V949M842.8 949V954M845.2 928V956M847.6 884V928M850.0 875V920M852.4 920V983M854.7 954V990M857.1 916V954M859.5 916V935M861.9 935V954M864.3 940V952M866.7 928V940M869.1 935V968M871.5 968V990M873.9 930V976M876.3 899V930M878.7 892V899M881.1 887V892M883.5 887V889M885.9 887V916M888.3 916V961M890.7 961V973M893.1 956V966M895.5 923V956M897.9 882V923M900.3 880V904M902.7 904V925M905.1 901V923M907.5 880V901M909.9 856V880M912.3 839V860M914.7 860V947M917.1 947V1014M919.5 1014V1057M921.9 1036V1081M924.3 947V1036M926.7 906V947M929.1 896V906M931.5 856V896M933.9 808V856M936.3 798V822M938.7 822V853M941.1 853V882M943.5 882V911M945.9 911V923M948.3 923V932M950.7 877V925M953.1 839V877M955.5 848V887M957.9 863V911M960.3 728V863M962.7 656V728M965.1 697V784M967.5 784V822M969.9 822V824M972.3 824V832M974.7 832V841M977.1 815V844M979.5 779V815M981.9 774V779M984.3 776V779M986.6 779V836M989.0 836V887M991.4 817V880M993.8 767V817M996.2 760V767M998.6 755V786M1001.0 786V889M1003.4 889V947M1005.8 892V930M1008.2 824V892M1010.6 733V824M1013.0 700V738M1015.4 738V793M1017.8 793V820M1020.2 820V834M1022.6 762V836M1025.0 676V762M1027.4 673V733M1029.8 733V791M1032.2 781V788M1034.6 776V781M1037.0 776V784M1039.4 784V788M1041.8 788V791M1044.2 786V793M1046.6 762V786M1049.0 752V762M1051.4 752V755M1053.8 752V776M1056.2 776V817M1058.6 762V829M1061.0 668V762M1063.4 652V719M1065.8 719V800M1068.2 769V805M1070.6 731V769M1073.0 652V731M1075.4 584V652M1077.8 592V640M1080.2 640V676M1082.6 676V688M1085.0 688V702M1087.4 702V726M1089.8 726V748M1092.2 748V764M1094.6 738V769M1097.0 683V738M1099.4 668V683M1101.8 683V707M1104.2 707V748M1106.6 748V793M1109.0 793V815M1111.4 815V834M1113.8 776V832M1116.2 726V776M1118.5 733V803M1120.9 803V858M1123.3 740V834M1125.7 671V740M1128.1 656V671M1130.5 649V668M1132.9 668V712M1135.3 700V731M1137.7 647V700M1140.1 628V647M1142.5 632V640M1144.9 640V690M1147.3 690V752M1149.7 700V760M1152.1 630V700M1154.5 611V630M1156.9 596V611M1159.3 601V673M1161.7 673V731M1164.1 688V724M1166.5 656V688M1168.9 635V656M1171.3 623V635M1173.7 630V644M1176.1 635V652M1178.5 599V635M1180.9 580V599M1183.3 565V580M1185.7 560V611M1188.1 611V676M1190.5 661V685M1192.9 632V661M1195.3 572V632M1197.7 517V572M1200.1 517V520M1202.5 517V522M1204.9 522V553M1207.3 553V575M1209.7 556V570M1212.1 546V556M1214.5 544V546M1216.9 541V544M1219.3 544V546M1221.7 546V548M1224.1 541V546M1226.5 539V551M1228.9 551V570M1231.3 570V584M1233.7 584V599M1236.1 544V601M1238.5 486V544M1240.9 486V505M1243.3 505V529M1245.7 529V565M1248.0 565V592M1250.4 517V577M1252.8 476V517M1255.2 481V488M1257.6 488V500M1260.0 500V517M1262.4 496V524M1264.8 443V496M1267.2 426V467M1269.6 467V527M1272.0 520V539M1274.4 493V520M1276.8 491V515M1279.2 515V541M1281.6 505V541M1284.0 472V505M1286.4 474V498M1288.8 498V517M1291.2 505V515M1293.6 493V505M1296.0 484V493M1298.4 476V484M1300.8 476V479M1303.2 469V476M1305.6 460V469M1308.0 448V460M1310.4 433V448M1312.8 431V445M1315.2 445V464M1317.6 464V484M1320.0 484V500M1322.4 448V500M1324.8 395V448M1327.2 397V421M1329.6 421V443M1332.0 443V450M1334.4 450V457M1336.8 436V452M1339.2 426V436M1341.6 433V448M1344.0 448V460M1346.4 460V467M1348.8 467V469M1351.2 464V467M1353.6 448V464M1356.0 426V448M1358.4 409V426M1360.8 397V409M1363.2 397V455M1365.6 455V512M1368.0 505V512M1370.4 493V505M1372.8 462V493M1375.2 438V462M1377.6 445V474M1379.9 474V493M1382.3 460V484M1384.7 448V460M1387.1 450V457M1389.5 457V472M1391.9 472V488M1394.3 488V496M1396.7 481V488M1399.1 479V488M1401.5 488V498M1403.9 498V512M1406.3 512V527M1408.7 491V524M1411.1 462V491M1413.5 464V496M1415.9 496V520M1418.3 491V515M1420.7 474V491M1423.1 481V505M1425.5 505V517M1427.9 517V522M1430.3 503V522M1432.7 464V503M1435.1 450V464M1437.5 445V450M1439.9 443V479M1442.3 479V522M1444.7 515V529M1447.1 500V515M1449.5 500V510M1451.9 510V517M1454.3 491V515M1456.7 472V491M1459.1 472V474M1461.5 467V476M1463.9 431V467M1466.3 409V436M1468.7 436V500M1471.1 500V536M1473.5 536V551M1475.9 551V565M1478.3 565V582M1480.7 568V587M1483.1 541V568M1485.5 539V546M1487.9 546V558M1490.3 551V558M1492.7 546V551M1495.1 539V546M1497.5 536V546M1499.9 546V604M1502.3 604V647M1504.7 594V635M1507.1 570V594M1509.5 575V587M1511.8 587V594M1514.2 575V587M1516.6 568V575M1519.0 572V577M1521.4 551V580M1523.8 512V551M1526.2 505V553M1528.6 553V613M1531.0 606V616M1533.4 594V606M1535.8 594V616M1538.2 616V635M1540.6 594V630M1543.0 565V594M1545.4 575V618M1547.8 618V654M1550.2 654V680M1552.6 666V695M1555.0 604V666M1557.4 577V604M1559.8 580V582M1562.2 582V625M1564.6 625V685M1567.0 685V700M1569.4 700V702M1571.8 644V700M1574.2 580V644"/><path stroke="#FF0080" d="M396.7 1069V1134M399.1 1012V1069M401.5 1021V1096M403.9 1096V1153M406.3 1122V1148M408.7 1098V1122M411.1 1084V1098M413.5 1074V1088M415.9 1088V1117M418.3 1117V1146M420.7 1146V1180M423.1 1177V1192M425.5 1153V1177M427.9 1141V1153M430.3 1132V1141M432.7 1132V1144M435.1 1144V1158M437.5 1158V1168M439.9 1168V1177M442.3 1165V1177M444.7 1156V1165M447.1 1165V1208M449.5 1208V1240M451.9 1177V1225M454.3 1132V1177M456.7 1091V1132M459.1 1069V1091M461.4 1088V1124M463.8 1124V1148M466.2 1148V1163M468.6 1151V1168M471.0 1127V1151M473.4 1122V1132M475.8 1132V1141M478.2 1141V1180M480.6 1180V1220M483.0 1132V1216M485.4 1060V1132M487.8 1067V1110M490.2 1110V1141M492.6 1134V1141M495.0 1122V1134M497.4 1093V1122M499.8 1079V1098M502.2 1098V1134M504.6 1134V1148M507.0 1132V1141M509.4 1127V1132M511.8 1129V1132M514.2 1132V1163M516.6 1163V1201M519.0 1165V1206M521.4 1122V1165M523.8 1108V1122M526.2 1091V1108M528.6 1062V1091M531.0 1040V1062M533.4 1062V1156M535.8 1156V1220M538.2 1055V1177M540.6 985V1055M543.0 1019V1091M545.4 1079V1122M547.8 997V1079M550.2 971V1000M552.6 1000V1043M555.0 1043V1081M557.4 1081V1120M559.8 1117V1122M562.2 1112V1117M564.6 1112V1127M567.0 1127V1139M569.4 1069V1132M571.8 1021V1069M574.2 1024V1048M576.6 1048V1074M579.0 1074V1103M581.4 1103V1124M583.8 1124V1132M586.2 1105V1134M588.6 1052V1105M591.0 1033V1052M593.3 1040V1055M595.7 1055V1112M598.1 1112V1184M600.5 1132V1196M602.9 1055V1132M605.3 1038V1055M607.7 1026V1038M610.1 1026V1040M612.5 1040V1052M614.9 1052V1055M617.3 1055V1069M619.7 1069V1117M622.1 1117V1151M624.5 1151V1163M626.9 1139V1168M629.3 1084V1139M631.7 1055V1084M634.1 1043V1055M636.5 1038V1048M638.9 1048V1062M641.3 1024V1064M643.7 971V1024M646.1 966V1000M648.5 1000V1036M650.9 1036V1088M653.3 1088V1134M655.7 1045V1122M658.1 988V1045M660.5 995V1024M662.9 1024V1043M665.3 1019V1038M667.7 988V1019M670.1 940V988M672.5 920V966M674.9 966V1050M677.3 1050V1079M679.7 1079V1086M682.1 1069V1086M684.5 1045V1069M686.9 1043V1067M689.3 1067V1091M691.7 1064V1091M694.1 1040V1064M696.5 1019V1040M698.9 997V1019M701.3 976V997M703.7 959V976M706.1 959V961M708.5 959V961M710.9 954V959M713.3 952V959M715.7 959V976M718.1 976V983M720.5 983V988M722.9 988V1009M725.2 1009V1036M727.6 1009V1040M730.0 973V1009M732.4 971V1016M734.8 1016V1060M737.2 932V1050M739.6 829V932M742.0 793V829M744.4 769V822M746.8 822V1002M749.2 1002V1110M751.6 1021V1084M754.0 992V1021M756.4 1004V1028M758.8 1028V1050M761.2 1050V1072M763.6 1069V1076M766.0 1060V1069M768.4 1045V1060M770.8 1031V1045M773.2 980V1031M775.6 930V980M778.0 932V971M780.4 971V1004M782.8 988V1002M785.2 978V988M787.6 980V995M790.0 988V1002M792.4 949V988M794.8 928V949M797.2 937V959M799.6 959V1002M802.0 1002V1060M804.4 1052V1079M806.8 1014V1052M809.2 988V1014M811.6 961V988M814.0 947V961M816.4 932V947M818.8 904V932M821.2 875V904M823.6 880V923M826.0 923V964M828.4 964V995M830.8 995V1016M833.2 973V1007M835.6 956V976M838.0 976V1016M840.4 1016V1048M842.8 1048V1069M845.2 1052V1076M847.6 1014V1052M850.0 1000V1014M852.4 992V1000M854.7 930V992M857.1 856V930M859.5 856V899M861.9 899V940M864.3 940V942M866.7 925V942M869.1 848V925M871.5 796V848M873.9 817V887M876.3 887V930M878.7 827V899M881.1 791V827M883.5 798V808M885.9 808V870M888.3 870V961M890.7 961V988M893.1 954V973M895.5 908V954M897.9 858V908M900.3 841V858M902.7 827V841M905.1 829V875M907.5 875V920M909.9 920V947M912.3 947V966M914.7 928V959M917.1 887V928M919.5 834V887M921.9 805V834M924.3 812V824M926.7 824V863M929.1 863V920M931.5 920V971M933.9 971V1019M936.3 935V1028M938.7 820V935M941.1 784V820M943.5 755V784M945.9 757V844M948.3 844V918M950.7 820V906M953.1 755V820M955.5 762V793M957.9 793V832M960.3 832V884M962.7 884V913M965.1 848V894M967.5 822V848M969.9 808V822M972.3 805V808M974.7 805V808M977.1 774V805M979.5 733V774M981.9 728V755M984.3 755V786M986.6 786V808M989.0 808V829M991.4 829V865M993.8 858V894M996.2 692V858M998.6 580V692M1001.0 625V762M1003.4 762V841M1005.8 721V805M1008.2 683V743M1010.6 743V853M1013.0 851V892M1015.4 788V851M1017.8 772V803M1020.2 803V844M1022.6 803V851M1025.0 750V803M1027.4 748V798M1029.8 798V848M1032.2 839V846M1034.6 817V839M1037.0 745V817M1039.4 695V745M1041.8 702V726M1044.2 726V743M1046.6 743V752M1049.0 752V786M1051.4 786V839M1053.8 839V863M1056.2 863V865M1058.6 812V868M1061.0 736V812M1063.4 724V767M1065.8 767V820M1068.2 815V822M1070.6 810V815M1073.0 810V815M1075.4 812V820M1077.8 752V812M1080.2 707V752M1082.6 716V745M1085.0 745V772M1087.4 772V784M1089.8 784V791M1092.2 786V791M1094.6 781V786M1097.0 774V781M1099.4 724V774M1101.8 652V724M1104.2 637V673M1106.6 673V719M1109.0 709V724M1111.4 697V709M1113.8 697V733M1116.2 733V762M1118.5 752V762M1120.9 743V752M1123.3 728V743M1125.7 709V728M1128.1 680V709M1130.5 664V680M1132.9 671V685M1135.3 680V690M1137.7 664V680M1140.1 659V690M1142.5 690V740M1144.9 726V752M1147.3 692V726M1149.7 683V692M1152.1 676V683M1154.5 676V683M1156.9 683V688M1159.3 688V697M1161.7 697V704M1164.1 697V704M1166.5 692V697M1168.9 697V709M1171.3 709V716M1173.7 692V709M1176.1 678V692M1178.5 671V678M1180.9 652V671M1183.3 625V652M1185.7 618V640M1188.1 640V668M1190.5 668V673M1192.9 673V676M1195.3 630V676M1197.7 584V630M1200.1 587V611M1202.5 611V632M1204.9 580V625M1207.3 546V580M1209.7 551V565M1212.1 565V582M1214.5 582V604M1216.9 604V616M1219.3 616V620M1221.7 594V620M1224.1 551V594M1226.5 536V563M1228.9 563V599M1231.3 599V613M1233.7 613V623M1236.1 616V625M1238.5 606V616M1240.9 572V606M1243.3 546V572M1245.7 553V608M1248.0 608V649M1250.4 623V642M1252.8 604V623M1255.2 592V604M1257.6 577V592M1260.0 563V577M1262.4 556V565M1264.8 565V582M1267.2 577V589M1269.6 560V577M1272.0 529V560M1274.4 496V529M1276.8 493V536M1279.2 536V587M1281.6 560V587M1284.0 534V560M1286.4 527V534M1288.8 520V527M1291.2 512V520M1293.6 505V512M1296.0 496V505M1298.4 491V496M1300.8 493V496M1303.2 493V498M1305.6 498V505M1308.0 496V508M1310.4 476V496M1312.8 469V476M1315.2 464V469M1317.6 450V464M1320.0 433V450M1322.4 433V462M1324.8 462V491M1327.2 491V498M1329.6 498V503M1332.0 486V500M1334.4 479V486M1336.8 486V517M1339.2 517V536M1341.6 505V527M1344.0 493V505M1346.4 491V493M1348.8 491V493M1351.2 491V493M1353.6 476V493M1356.0 452V476M1358.4 433V452M1360.8 416V433M1363.2 416V433M1365.6 433V452M1368.0 452V467M1370.4 467V479M1372.8 428V472M1375.2 395V428M1377.6 404V436M1379.9 436V457M1382.3 392V438M1384.7 368V392M1387.1 385V424M1389.5 424V445M1391.9 445V450M1394.3 450V455M1396.7 455V457M1399.1 457V462M1401.5 462V472M1403.9 448V472M1406.3 421V448M1408.7 421V452M1411.1 452V481M1413.5 450V479M1415.9 426V450M1418.3 436V479M1420.7 479V508M1423.1 496V503M1425.5 479V496M1427.9 455V479M1430.3 443V455M1432.7 452V472M1435.1 448V479M1437.5 402V448M1439.9 390V443M1442.3 443V510M1444.7 484V517M1447.1 443V484M1449.5 440V536M1451.9 536V625M1454.3 496V613M1456.7 402V496M1459.1 419V491M1461.5 491V544M1463.9 503V534M1466.3 455V503M1468.7 383V455M1471.1 349V397M1473.5 397V488M1475.9 488V524M1478.3 515V520M1480.7 512V539M1483.1 539V572M1485.5 512V577M1487.9 438V512M1490.3 436V469M1492.7 469V503M1495.1 484V500M1497.5 469V484M1499.9 469V474M1502.3 474V486M1504.7 486V524M1507.1 524V548M1509.5 527V541M1511.8 503V527M1514.2 474V503M1516.6 462V493M1519.0 493V544M1521.4 536V558M1523.8 505V536M1526.2 498V524M1528.6 524V553M1531.0 553V575M1533.4 575V596M1535.8 575V594M1538.2 556V575M1540.6 532V556M1543.0 515V532M1545.4 529V589M1547.8 589V628M1550.2 601V620M1552.6 560V601M1555.0 498V560M1557.4 472V512M1559.8 512V580M1562.2 580V608M1564.6 608V618M1567.0 618V625M1569.4 625V630M1571.8 623V632M1574.2 616V623"/><path stroke="#FFFFFF" d="M396.7 1074V1144M399.1 1144V1204M401.5 1175V1201M403.9 1141V1175M406.3 1086V1141M408.7 1048V1086M411.1 1072V1144M413.5 1144V1184M415.9 1177V1182M418.3 1163V1177M420.7 1144V1163M423.1 1136V1144M425.5 1136V1139M427.9 1124V1136M430.3 1105V1124M432.7 1091V1105M435.1 1074V1091M437.5 1074V1129M439.9 1129V1182M442.3 1146V1180M444.7 1115V1146M447.1 1084V1115M449.5 1062V1084M451.9 1074V1110M454.3 1110V1134M456.7 1081V1120M459.1 1062V1115M461.4 1115V1220M463.8 1220V1261M466.2 1172V1228M468.6 1156V1172M471.0 1151V1156M473.4 1148V1151M475.8 1146V1148M478.2 1132V1146M480.6 1117V1132M483.0 1064V1117M485.4 1019V1064M487.8 1021V1043M490.2 1043V1060M492.6 990V1045M495.0 954V997M497.4 997V1115M499.8 1115V1175M502.2 1158V1170M504.6 1148V1158M507.0 1144V1148M509.4 1096V1144M511.8 1031V1096M514.2 1016V1108M516.6 1108V1223M519.0 1223V1235M521.4 1235V1240M523.8 1196V1237M526.2 1153V1196M528.6 1112V1153M531.0 1081V1112M533.4 1105V1211M535.8 1211V1278M538.2 1141V1244M540.6 1081V1141M543.0 1074V1081M545.4 1072V1105M547.8 1105V1163M550.2 1108V1182M552.6 997V1108M555.0 971V1009M557.4 1009V1060M559.8 1045V1067M562.2 1019V1045M564.6 1007V1019M567.0 997V1007M569.4 992V997M571.8 990V992M574.2 988V990M576.6 988V995M579.0 995V1021M581.4 1021V1036M583.8 1028V1033M586.2 1026V1028M588.6 1028V1033M591.0 1033V1036M593.3 1033V1036M595.7 1031V1033M598.1 1026V1031M600.5 1016V1026M602.9 1009V1016M605.3 1009V1031M607.7 1031V1055M610.1 1055V1088M612.5 1088V1115M614.9 1057V1105M617.3 1021V1057M619.7 1024V1031M622.1 1031V1048M624.5 1048V1076M626.9 1064V1091M629.3 1009V1064M631.7 932V1009M634.1 844V932M636.5 817V882M638.9 882V976M641.3 976V1074M643.7 1074V1175M646.1 1064V1182M648.5 944V1064M650.9 944V988M653.3 988V1028M655.7 1028V1062M658.1 1062V1091M660.5 1091V1093M662.9 1086V1093M665.3 1062V1086M667.7 1002V1062M670.1 892V1002M672.5 846V908M674.9 908V1016M677.3 1009V1052M679.7 944V1009M682.1 930V966M684.5 966V1012M686.9 1012V1052M689.3 1052V1093M691.7 992V1093M694.1 901V992M696.5 904V918M698.9 918V940M701.3 940V992M703.7 992V1028M706.1 1004V1024M708.5 966V1004M710.9 908V966M713.3 880V932M715.7 932V1028M718.1 1024V1062M720.5 968V1024M722.9 954V1031M725.2 1031V1132M727.6 1120V1146M730.0 1086V1120M732.4 992V1086M734.8 906V992M737.2 908V935M739.6 935V954M742.0 947V954M744.4 942V961M746.8 961V1033M749.2 1033V1074M751.6 980V1048M754.0 925V980M756.4 882V925M758.8 865V899M761.2 899V956M763.6 956V988M766.0 988V1007M768.4 995V1012M770.8 976V995M773.2 971V976M775.6 964V971M778.0 937V964M780.4 916V937M782.8 923V983M785.2 983V1026M787.6 1016V1024M790.0 1004V1016M792.4 988V1004M794.8 964V988M797.2 928V964M799.6 911V928M802.0 904V911M804.4 894V904M806.8 882V894M809.2 880V952M811.6 952V1043M814.0 1028V1052M816.4 1002V1028M818.8 976V1002M821.2 949V976M823.6 889V949M826.0 846V889M828.4 865V947M830.8 947V1002M833.2 964V992M835.6 928V964M838.0 882V928M840.4 863V884M842.8 884V928M845.2 928V942M847.6 923V935M850.0 920V942M852.4 942V968M854.7 901V973M857.1 820V901M859.5 817V863M861.9 863V908M864.3 908V944M866.7 944V973M869.1 896V961M871.5 853V896M873.9 870V923M876.3 923V956M878.7 956V964M881.1 964V968M883.5 968V971M885.9 937V971M888.3 882V937M890.7 868V896M893.1 896V937M895.5 937V985M897.9 985V1033M900.3 954V1036M902.7 875V954M905.1 875V877M907.5 877V889M909.9 889V949M912.3 949V997M914.7 997V1002M917.1 980V1007M919.5 908V980M921.9 860V908M924.3 836V860M926.7 827V865M929.1 865V930M931.5 908V947M933.9 856V908M936.3 846V856M938.7 853V860M941.1 858V860M943.5 853V858M945.9 846V853M948.3 839V846M950.7 820V839M953.1 803V820M955.5 815V868M957.9 868V904M960.3 853V889M962.7 820V853M965.1 788V820M967.5 776V788M969.9 781V793M972.3 774V798M974.7 740V774M977.1 733V800M979.5 800V887M981.9 817V894M984.3 733V817M986.6 733V767M989.0 767V796M991.4 796V803M993.8 803V812M996.2 812V834M998.6 834V856M1001.0 856V880M1003.4 865V894M1005.8 796V865M1008.2 764V808M1010.6 808V887M1013.0 846V916M1015.4 740V846M1017.8 714V740M1020.2 738V769M1022.6 769V774M1025.0 772V774M1027.4 772V800M1029.8 800V829M1032.2 817V829M1034.6 805V817M1037.0 815V856M1039.4 856V884M1041.8 781V860M1044.2 731V781M1046.6 755V810M1049.0 791V836M1051.4 697V791M1053.8 661V697M1056.2 688V736M1058.6 736V748M1061.0 716V736M1063.4 714V779M1065.8 779V856M1068.2 788V860M1070.6 714V788M1073.0 680V714M1075.4 652V680M1077.8 656V685M1080.2 685V716M1082.6 716V750M1085.0 750V772M1087.4 726V760M1089.8 707V726M1092.2 704V707M1094.6 704V707M1097.0 704V707M1099.4 704V709M1101.8 700V704M1104.2 700V738M1106.6 738V784M1109.0 755V788M1111.4 719V755M1113.8 688V719M1116.2 656V688M1118.5 647V656M1120.9 640V656M1123.3 656V731M1125.7 731V779M1128.1 656V748M1130.5 606V656M1132.9 656V772M1135.3 772V824M1137.7 707V781M1140.1 673V707M1142.5 661V673M1144.9 659V678M1147.3 678V704M1149.7 683V707M1152.1 654V683M1154.5 625V654M1156.9 599V625M1159.3 599V611M1161.7 611V625M1164.1 625V654M1166.5 654V673M1168.9 640V666M1171.3 623V640M1173.7 640V678M1176.1 671V697M1178.5 618V671M1180.9 577V618M1183.3 541V577M1185.7 534V594M1188.1 594V678M1190.5 678V692M1192.9 683V688M1195.3 640V683M1197.7 599V640M1200.1 587V599M1202.5 577V587M1204.9 584V620M1207.3 620V644M1209.7 572V630M1212.1 517V572M1214.5 464V517M1216.9 440V472M1219.3 472V539M1221.7 539V570M1224.1 570V582M1226.5 577V584M1228.9 570V577M1231.3 558V570M1233.7 548V558M1236.1 548V572M1238.5 572V599M1240.9 553V596M1243.3 517V553M1245.7 510V517M1248.0 503V510M1250.4 493V503M1252.8 488V508M1255.2 508V565M1257.6 565V596M1260.0 560V584M1262.4 541V560M1264.8 524V541M1267.2 520V524M1269.6 524V532M1272.0 515V534M1274.4 493V515M1276.8 472V493M1279.2 450V472M1281.6 450V452M1284.0 452V455M1286.4 452V460M1288.8 460V469M1291.2 469V496M1293.6 496V515M1296.0 512V515M1298.4 498V512M1300.8 469V498M1303.2 452V469M1305.6 448V452M1308.0 445V448M1310.4 445V448M1312.8 445V462M1315.2 462V484M1317.6 484V493M1320.0 493V500M1322.4 500V503M1324.8 503V505M1327.2 496V503M1329.6 488V496M1332.0 491V503M1334.4 503V510M1336.8 488V505M1339.2 476V488M1341.6 474V476M1344.0 472V474M1346.4 469V472M1348.8 469V472M1351.2 472V476M1353.6 469V476M1356.0 457V469M1358.4 443V457M1360.8 426V443M1363.2 424V460M1365.6 460V496M1368.0 479V493M1370.4 464V479M1372.8 467V469M1375.2 469V474M1377.6 460V472M1379.9 452V460M1382.3 445V452M1384.7 443V452M1387.1 452V472M1389.5 472V479M1391.9 474V476M1394.3 472V491M1396.7 491V520M1399.1 512V524M1401.5 496V512M1403.9 493V500M1406.3 500V510M1408.7 498V510M1411.1 488V498M1413.5 491V496M1415.9 496V500M1418.3 493V500M1420.7 484V493M1423.1 464V484M1425.5 452V486M1427.9 486V556M1430.3 546V589M1432.7 472V546M1435.1 448V472M1437.5 467V500M1439.9 481V508M1442.3 445V481M1444.7 440V448M1447.1 448V457M1449.5 457V479M1451.9 479V500M1454.3 500V503M1456.7 500V505M1459.1 476V500M1461.5 460V476M1463.9 467V493M1466.3 493V515M1468.7 515V534M1471.1 534V544M1473.5 524V539M1475.9 488V524M1478.3 436V488M1480.7 421V469M1483.1 469V534M1485.5 534V589M1487.9 589V642M1490.3 592V644M1492.7 541V592M1495.1 544V575M1497.5 575V601M1499.9 560V596M1502.3 534V560M1504.7 532V534M1507.1 529V551M1509.5 551V606M1511.8 606V635M1514.2 563V611M1516.6 544V568M1519.0 568V606M1521.4 606V618M1523.8 618V620M1526.2 618V620M1528.6 620V625M1531.0 623V625M1533.4 618V623M1535.8 592V618M1538.2 568V592M1540.6 570V582M1543.0 582V592M1545.4 565V587M1547.8 553V570M1550.2 570V618M1552.6 618V644M1555.0 601V630M1557.4 589V606M1559.8 606V637M1562.2 616V649M1564.6 568V616M1567.0 558V568M1569.4 558V560M1571.8 560V611M1574.2 611V666"/><path stroke="#C0C0C0" d="M396.7 1048V1103M399.1 1103V1153M401.5 1108V1148M403.9 1076V1108M406.3 1084V1115M408.7 1115V1139M411.1 1139V1146M413.5 1146V1160M415.9 1160V1182M418.3 1182V1199M420.7 1199V1208M423.1 1194V1213M425.5 1165V1194M427.9 1148V1165M430.3 1136V1148M432.7 1127V1136M435.1 1120V1127M437.5 1120V1132M439.9 1132V1144M442.3 1122V1141M444.7 1105V1122M447.1 1108V1127M449.5 1127V1141M451.9 1134V1139M454.3 1132V1134M456.7 1134V1141M459.1 1141V1144M461.4 1144V1146M463.8 1144V1148M466.2 1148V1156M468.6 1144V1158M471.0 1122V1144M473.4 1120V1129M475.8 1129V1141M478.2 1127V1141M480.6 1110V1127M483.0 1079V1110M485.4 1052V1079M487.8 1052V1060M490.2 1060V1074M492.6 1074V1122M495.0 1122V1160M497.4 1160V1184M499.8 1165V1199M502.2 1096V1165M504.6 1067V1096M507.0 1074V1088M509.4 1040V1093M511.8 966V1040M514.2 952V1031M516.6 1031V1129M519.0 1129V1182M521.4 1182V1230M523.8 1048V1228M526.2 889V1048M528.6 904V1019M531.0 1019V1108M533.4 1103V1108M535.8 1098V1127M538.2 1127V1208M540.6 1208V1254M543.0 1189V1235M545.4 1134V1189M547.8 1074V1134M550.2 1038V1074M552.6 1016V1038M555.0 1012V1033M557.4 1033V1060M559.8 1060V1084M562.2 1084V1105M564.6 1091V1105M567.0 1074V1091M569.4 1074V1079M571.8 1079V1093M574.2 1093V1144M576.6 1144V1177M579.0 1043V1146M581.4 983V1043M583.8 1021V1112M586.2 1112V1156M588.6 1086V1132M591.0 1069V1086M593.3 1081V1103M595.7 1076V1110M598.1 1033V1076M600.5 1026V1072M602.9 1072V1124M605.3 1043V1127M607.7 961V1043M610.1 964V1007M612.5 1007V1048M614.9 1048V1088M617.3 1088V1117M619.7 1064V1105M622.1 1019V1064M624.5 968V1019M626.9 942V971M629.3 971V1028M631.7 1028V1055M634.1 1055V1060M636.5 1060V1093M638.9 1093V1139M641.3 1091V1146M643.7 1024V1091M646.1 1019V1048M648.5 1048V1076M650.9 1038V1076M653.3 1004V1038M655.7 1012V1062M658.1 1062V1100M660.5 1021V1084M662.9 968V1021M665.3 935V968M667.7 918V956M670.1 956V1040M672.5 1038V1076M674.9 971V1038M677.3 949V971M679.7 964V985M682.1 985V995M684.5 995V1002M686.9 1002V1062M689.3 1062V1132M691.7 1098V1132M694.1 1067V1098M696.5 1072V1108M698.9 1108V1136M701.3 1038V1120M703.7 985V1038M706.1 990V1007M708.5 1007V1016M710.9 1000V1012M713.3 995V1052M715.7 1052V1160M718.1 1122V1199M720.5 1002V1122M722.9 973V1004M725.2 1004V1048M727.6 1033V1055M730.0 1007V1033M732.4 1007V1031M734.8 1031V1055M737.2 1055V1079M739.6 1076V1098M742.0 966V1076M744.4 884V966M746.8 901V956M749.2 956V990M751.6 932V973M754.0 911V932M756.4 932V976M758.8 973V992M761.2 937V973M763.6 925V937M766.0 918V925M768.4 918V952M770.8 952V990M773.2 980V992M775.6 966V980M778.0 968V1016M780.4 1016V1057M782.8 1052V1057M785.2 1045V1052M787.6 1024V1045M790.0 1004V1024M792.4 992V1004M794.8 964V992M797.2 920V964M799.6 904V932M802.0 932V980M804.4 980V1004M806.8 1004V1019M809.2 973V1021M811.6 916V973M814.0 908V971M816.4 971V1036M818.8 973V1036M821.2 920V973M823.6 925V973M826.0 973V1009M828.4 968V1002M830.8 944V968M833.2 954V978M835.6 978V992M838.0 952V980M840.4 908V952M842.8 853V908M845.2 834V856M847.6 856V887M850.0 887V937M852.4 937V990M854.7 990V995M857.1 992V995M859.5 911V992M861.9 836V911M864.3 846V937M866.7 937V1012M869.1 966V1004M871.5 932V966M873.9 899V932M876.3 872V899M878.7 860V872M881.1 853V877M883.5 877V920M885.9 920V947M888.3 947V966M890.7 889V971M893.1 779V889M895.5 762V822M897.9 822V892M900.3 892V925M902.7 925V954M905.1 930V952M907.5 911V930M909.9 911V913M912.3 908V916M914.7 884V908M917.1 868V884M919.5 872V884M921.9 884V892M924.3 892V901M926.7 863V904M929.1 793V863M931.5 772V793M933.9 791V820M936.3 820V841M938.7 841V863M941.1 863V916M943.5 916V968M945.9 913V966M948.3 858V913M950.7 788V858M953.1 736V788M955.5 760V860M957.9 860V923M960.3 916V920M962.7 904V916M965.1 887V904M967.5 868V887M969.9 848V868M972.3 841V865M974.7 865V901M977.1 860V908M979.5 800V860M981.9 793V836M984.3 836V884M986.6 884V940M989.0 940V985M991.4 872V976M993.8 791V872M996.2 791V796M998.6 796V803M1001.0 803V815M1003.4 815V839M1005.8 839V875M1008.2 848V892M1010.6 767V848M1013.0 738V779M1015.4 779V839M1017.8 829V853M1020.2 796V829M1022.6 793V796M1025.0 796V800M1027.4 781V800M1029.8 762V781M1032.2 736V762M1034.6 716V736M1037.0 724V767M1039.4 767V800M1041.8 800V808M1044.2 791V815M1046.6 736V791M1049.0 709V736M1051.4 733V784M1053.8 784V800M1056.2 796V798M1058.6 793V836M1061.0 836V899M1063.4 863V908M1065.8 810V863M1068.2 808V824M1070.6 824V844M1073.0 740V839M1075.4 659V740M1077.8 671V743M1080.2 743V796M1082.6 786V793M1085.0 776V786M1087.4 769V776M1089.8 760V769M1092.2 748V760M1094.6 719V748M1097.0 676V719M1099.4 664V714M1101.8 714V788M1104.2 683V803M1106.6 534V683M1109.0 520V628M1111.4 628V740M1113.8 736V740M1116.2 728V740M1118.5 740V836M1120.9 836V911M1123.3 798V889M1125.7 738V798M1128.1 733V738M1130.5 712V733M1132.9 666V712M1135.3 647V666M1137.7 666V700M1140.1 700V721M1142.5 721V738M1144.9 695V743M1147.3 635V695M1149.7 628V642M1152.1 642V659M1154.5 659V678M1156.9 678V697M1159.3 697V709M1161.7 709V719M1164.1 685V712M1166.5 666V685M1168.9 661V666M1171.3 635V661M1173.7 577V635M1176.1 548V577M1178.5 568V604M1180.9 604V618M1183.3 589V606M1185.7 584V596M1188.1 596V611M1190.5 611V625M1192.9 625V637M1195.3 635V637M1197.7 632V635M1200.1 635V668M1202.5 668V695M1204.9 589V678M1207.3 524V589M1209.7 553V659M1212.1 659V724M1214.5 608V692M1216.9 565V608M1219.3 606V685M1221.7 659V716M1224.1 563V659M1226.5 534V563M1228.9 556V587M1231.3 587V596M1233.7 596V601M1236.1 601V604M1238.5 601V604M1240.9 601V604M1243.3 604V606M1245.7 606V616M1248.0 616V623M1250.4 604V618M1252.8 587V604M1255.2 570V587M1257.6 551V570M1260.0 532V551M1262.4 522V532M1264.8 532V546M1267.2 539V551M1269.6 524V539M1272.0 515V524M1274.4 503V515M1276.8 503V524M1279.2 524V546M1281.6 546V553M1284.0 551V558M1286.4 500V551M1288.8 457V500M1291.2 462V474M1293.6 474V491M1296.0 491V512M1298.4 512V524M1300.8 481V512M1303.2 469V481M1305.6 469V472M1308.0 472V493M1310.4 493V524M1312.8 508V532M1315.2 476V508M1317.6 448V476M1320.0 419V448M1322.4 416V472M1324.8 472V522M1327.2 486V520M1329.6 460V486M1332.0 464V491M1334.4 491V510M1336.8 510V517M1339.2 517V522M1341.6 520V522M1344.0 510V520M1346.4 493V510M1348.8 486V493M1351.2 488V491M1353.6 472V493M1356.0 445V472M1358.4 440V450M1360.8 450V460M1363.2 460V467M1365.6 467V472M1368.0 472V479M1370.4 479V484M1372.8 450V479M1375.2 428V450M1377.6 436V464M1379.9 464V481M1382.3 472V479M1384.7 467V481M1387.1 481V512M1389.5 481V524M1391.9 407V481M1394.3 385V440M1396.7 440V522M1399.1 488V539M1401.5 426V488M1403.9 419V457M1406.3 457V496M1408.7 474V496M1411.1 455V474M1413.5 443V455M1415.9 436V443M1418.3 443V474M1420.7 474V493M1423.1 460V486M1425.5 445V460M1427.9 448V457M1430.3 457V467M1432.7 467V476M1435.1 476V479M1437.5 472V476M1439.9 469V479M1442.3 479V491M1444.7 450V493M1447.1 400V450M1449.5 400V450M1451.9 450V498M1454.3 496V498M1456.7 488V496M1459.1 474V488M1461.5 460V474M1463.9 455V460M1466.3 450V457M1468.7 457V476M1471.1 476V484M1473.5 460V476M1475.9 455V462M1478.3 462V472M1480.7 472V481M1483.1 481V488M1485.5 488V503M1487.9 503V520M1490.3 520V553M1492.7 553V584M1495.1 532V582M1497.5 491V532M1499.9 479V491M1502.3 472V479M1504.7 474V476M1507.1 474V484M1509.5 484V505M1511.8 505V522M1514.2 522V529M1516.6 529V536M1519.0 536V544M1521.4 544V594M1523.8 594V661M1526.2 613V676M1528.6 541V613M1531.0 534V546M1533.4 546V560M1535.8 558V560M1538.2 556V558M1540.6 553V556M1543.0 551V572M1545.4 572V656M1547.8 656V709M1550.2 580V676M1552.6 529V580M1555.0 551V601M1557.4 601V666M1559.8 666V740M1562.2 704V764M1564.6 616V704M1567.0 572V616M1569.4 541V572M1571.8 536V548M1574.2 548V563"/><path stroke="#808080" d="M396.7 1165V1175M399.1 1158V1165M401.5 1146V1158M403.9 1139V1146M406.3 1139V1141M408.7 1136V1139M411.1 1134V1136M413.5 1132V1134M415.9 1134V1141M418.3 1141V1168M420.7 1168V1213M423.1 1213V1230M425.5 1204V1220M427.9 1172V1204M430.3 1134V1172M432.7 1127V1134M435.1 1124V1127M437.5 1124V1172M439.9 1172V1216M442.3 1165V1213M444.7 1127V1165M447.1 1136V1182M449.5 1182V1213M451.9 1117V1192M454.3 1072V1117M456.7 1103V1182M459.1 1182V1220M461.4 1117V1184M463.8 1088V1117M466.2 1081V1088M468.6 1081V1098M471.0 1098V1122M473.4 1122V1127M475.8 1120V1122M478.2 1120V1146M480.6 1146V1175M483.0 1086V1172M485.4 1014V1086M487.8 1024V1093M490.2 1093V1144M492.6 1139V1144M495.0 1120V1139M497.4 1069V1120M499.8 1045V1069M502.2 1048V1050M504.6 1040V1052M507.0 1019V1040M509.4 1012V1043M511.8 1043V1088M514.2 1062V1098M516.6 1016V1062M519.0 1012V1076M521.4 1076V1146M523.8 1134V1146M526.2 1124V1134M528.6 1122V1124M531.0 1115V1122M533.4 1088V1115M535.8 1072V1088M538.2 1079V1103M540.6 1103V1117M543.0 1100V1112M545.4 1096V1100M547.8 1100V1108M550.2 1081V1110M552.6 1033V1081M555.0 1024V1033M557.4 1028V1033M559.8 1031V1036M562.2 1026V1031M564.6 1026V1103M567.0 1103V1172M569.4 1120V1168M571.8 1076V1120M574.2 1064V1076M576.6 1055V1064M579.0 1057V1072M581.4 1072V1081M583.8 1048V1072M586.2 1026V1048M588.6 1004V1026M591.0 997V1043M593.3 1043V1115M595.7 1115V1163M598.1 1163V1199M600.5 1136V1206M602.9 1057V1136M605.3 1033V1057M607.7 1014V1033M610.1 1014V1016M612.5 1014V1019M614.9 1019V1050M617.3 1050V1084M619.7 1084V1129M622.1 1129V1156M624.5 1088V1136M626.9 1062V1088M629.3 1086V1134M631.7 1110V1153M634.1 1038V1110M636.5 1016V1038M638.9 1014V1016M641.3 1014V1026M643.7 1026V1038M646.1 1026V1040M648.5 1007V1026M650.9 889V1007M653.3 786V889M655.7 798V899M658.1 899V990M660.5 990V1057M662.9 1057V1100M665.3 1096V1100M667.7 1086V1096M670.1 1069V1086M672.5 1062V1069M674.9 1064V1069M677.3 1069V1086M679.7 1086V1108M682.1 1072V1112M684.5 1019V1072M686.9 1014V1060M689.3 1060V1112M691.7 1040V1112M694.1 976V1040M696.5 983V1064M698.9 1064V1129M701.3 1093V1124M703.7 1055V1093M706.1 997V1055M708.5 964V997M710.9 964V966M713.3 964V968M715.7 968V978M718.1 978V1031M720.5 1031V1110M722.9 1062V1129M725.2 973V1062M727.6 961V1002M730.0 1002V1050M732.4 1028V1052M734.8 1004V1028M737.2 1007V1024M739.6 1024V1036M742.0 1007V1031M744.4 990V1007M746.8 1002V1045M749.2 1045V1072M751.6 1031V1060M754.0 1000V1031M756.4 966V1000M758.8 911V966M761.2 839V911M763.6 820V901M766.0 901V1012M768.4 992V1031M770.8 944V992M773.2 942V980M775.6 980V1021M778.0 1021V1031M780.4 1031V1038M782.8 980V1031M785.2 944V980M787.6 956V997M790.0 997V1021M792.4 971V1007M794.8 949V971M797.2 961V983M799.6 983V992M802.0 992V995M804.4 992V1036M806.8 1036V1096M809.2 1040V1108M811.6 959V1040M814.0 942V959M816.4 930V942M818.8 930V935M821.2 935V942M823.6 942V956M826.0 956V966M828.4 952V964M830.8 918V952M833.2 844V918M835.6 800V848M838.0 848V954M840.4 954V1002M842.8 928V976M845.2 892V928M847.6 863V892M850.0 856V899M852.4 899V954M854.7 954V968M857.1 968V976M859.5 966V976M861.9 956V966M864.3 959V985M866.7 985V1007M869.1 956V997M871.5 923V956M873.9 916V923M876.3 904V916M878.7 892V904M881.1 870V892M883.5 841V870M885.9 832V875M888.3 875V942M890.7 942V959M893.1 916V942M895.5 911V916M897.9 908V911M900.3 908V966M902.7 966V1021M905.1 966V1019M907.5 920V966M909.9 908V920M912.3 899V908M914.7 887V899M917.1 858V887M919.5 805V858M921.9 779V810M924.3 810V877M926.7 853V906M929.1 764V853M931.5 738V836M933.9 836V971M936.3 904V997M938.7 788V904M941.1 781V798M943.5 798V817M945.9 817V848M948.3 848V875M950.7 875V884M953.1 884V904M955.5 904V956M957.9 956V992M960.3 880V964M962.7 834V880M965.1 848V882M967.5 882V925M969.9 925V978M972.3 966V992M974.7 923V966M977.1 856V923M979.5 784V856M981.9 774V896M984.3 896V1031M986.6 961V1031M989.0 899V961M991.4 868V899M993.8 839V868M996.2 805V839M998.6 784V805M1001.0 791V815M1003.4 815V832M1005.8 832V846M1008.2 841V853M1010.6 817V841M1013.0 808V839M1015.4 839V887M1017.8 860V899M1020.2 810V860M1022.6 803V815M1025.0 815V827M1027.4 798V827M1029.8 772V798M1032.2 772V786M1034.6 786V796M1037.0 796V800M1039.4 800V803M1041.8 796V800M1044.2 772V796M1046.6 719V772M1049.0 692V719M1051.4 712V748M1053.8 748V793M1056.2 793V844M1058.6 815V856M1061.0 755V815M1063.4 731V755M1065.8 716V731M1068.2 714V748M1070.6 748V784M1073.0 784V848M1075.4 848V904M1077.8 836V896M1080.2 781V836M1082.6 726V781M1085.0 695V726M1087.4 702V726M1089.8 726V764M1092.2 764V822M1094.6 822V846M1097.0 781V822M1099.4 736V781M1101.8 685V736M1104.2 673V685M1106.6 673V676M1109.0 673V707M1111.4 707V748M1113.8 748V846M1116.2 846V935M1118.5 858V925M1120.9 788V858M1123.3 719V788M1125.7 671V719M1128.1 688V733M1130.5 733V760M1132.9 709V743M1135.3 692V719M1137.7 719V767M1140.1 764V784M1142.5 738V764M1144.9 714V738M1147.3 688V714M1149.7 685V757M1152.1 757V839M1154.5 798V841M1156.9 757V798M1159.3 719V757M1161.7 690V719M1164.1 690V692M1166.5 676V695M1168.9 616V676M1171.3 582V616M1173.7 601V649M1176.1 649V671M1178.5 625V654M1180.9 613V625M1183.3 625V642M1185.7 642V649M1188.1 649V652M1190.5 649V668M1192.9 668V690M1195.3 666V690M1197.7 640V666M1200.1 604V640M1202.5 575V604M1204.9 577V599M1207.3 599V616M1209.7 604V613M1212.1 594V604M1214.5 587V594M1216.9 582V587M1219.3 580V582M1221.7 580V582M1224.1 580V582M1226.5 582V589M1228.9 589V596M1231.3 596V628M1233.7 628V664M1236.1 664V666M1238.5 664V666M1240.9 644V664M1243.3 625V644M1245.7 618V625M1248.0 599V618M1250.4 546V599M1252.8 512V546M1255.2 517V532M1257.6 532V539M1260.0 510V532M1262.4 498V510M1264.8 493V498M1267.2 491V505M1269.6 505V527M1272.0 527V539M1274.4 539V548M1276.8 532V551M1279.2 512V532M1281.6 512V517M1284.0 517V527M1286.4 527V548M1288.8 548V568M1291.2 560V565M1293.6 548V560M1296.0 527V548M1298.4 508V527M1300.8 498V508M1303.2 496V498M1305.6 496V498M1308.0 498V503M1310.4 503V510M1312.8 500V510M1315.2 488V500M1317.6 476V488M1320.0 467V476M1322.4 464V484M1324.8 484V500M1327.2 491V498M1329.6 484V491M1332.0 484V486M1334.4 486V496M1336.8 496V522M1339.2 522V544M1341.6 544V556M1344.0 534V560M1346.4 481V534M1348.8 462V484M1351.2 484V517M1353.6 512V527M1356.0 491V512M1358.4 476V491M1360.8 464V476M1363.2 464V467M1365.6 464V467M1368.0 464V474M1370.4 474V481M1372.8 450V476M1375.2 426V450M1377.6 414V426M1379.9 407V421M1382.3 421V460M1384.7 460V479M1387.1 467V474M1389.5 464V467M1391.9 467V474M1394.3 474V486M1396.7 486V503M1399.1 500V505M1401.5 496V500M1403.9 450V496M1406.3 402V450M1408.7 402V431M1411.1 431V457M1413.5 457V462M1415.9 462V467M1418.3 440V462M1420.7 426V440M1423.1 436V462M1425.5 462V488M1427.9 488V512M1430.3 503V522M1432.7 467V503M1435.1 455V467M1437.5 452V455M1439.9 440V452M1442.3 426V440M1444.7 424V455M1447.1 455V488M1449.5 474V488M1451.9 462V474M1454.3 462V467M1456.7 467V474M1459.1 474V498M1461.5 498V517M1463.9 517V529M1466.3 529V536M1468.7 536V539M1471.1 505V539M1473.5 443V505M1475.9 421V455M1478.3 455V510M1480.7 510V539M1483.1 539V558M1485.5 546V560M1487.9 527V546M1490.3 524V527M1492.7 522V524M1495.1 515V522M1497.5 508V515M1499.9 510V515M1502.3 515V520M1504.7 517V520M1507.1 515V517M1509.5 512V515M1511.8 496V512M1514.2 462V496M1516.6 450V462M1519.0 457V472M1521.4 467V474M1523.8 452V467M1526.2 450V568M1528.6 568V712M1531.0 632V724M1533.4 539V632M1535.8 539V548M1538.2 548V558M1540.6 558V572M1543.0 572V582M1545.4 556V577M1547.8 541V556M1550.2 551V575M1552.6 572V587M1555.0 536V572M1557.4 522V548M1559.8 548V592M1562.2 592V628M1564.6 628V656M1567.0 652V664M1569.4 635V652M1571.8 618V635M1574.2 601V618"/><path stroke="#FFFF80" d="M396.7 1151V1163M399.1 1139V1151M401.5 1139V1141M403.9 1139V1141M406.3 1139V1141M408.7 1139V1146M411.1 1146V1170M413.5 1170V1184M415.9 1156V1175M418.3 1139V1156M420.7 1127V1139M423.1 1122V1144M425.5 1144V1177M427.9 1172V1187M430.3 1156V1172M432.7 1110V1156M435.1 1062V1110M437.5 1057V1062M439.9 1057V1060M442.3 1060V1088M444.7 1088V1112M447.1 1108V1110M449.5 1105V1108M451.9 1103V1105M454.3 1103V1112M456.7 1112V1136M459.1 1136V1148M461.4 1144V1146M463.8 1144V1148M466.2 1148V1158M468.6 1108V1160M471.0 1033V1108M473.4 1019V1033M475.8 1026V1033M478.2 1024V1036M480.6 1014V1024M483.0 1016V1091M485.4 1091V1151M487.8 1093V1144M490.2 1057V1093M492.6 1064V1088M495.0 1088V1110M497.4 1110V1127M499.8 1108V1134M502.2 1050V1108M504.6 1024V1050M507.0 1048V1088M509.4 1088V1100M511.8 1069V1088M514.2 1067V1088M516.6 1088V1115M519.0 1115V1117M521.4 1117V1120M523.8 1045V1117M526.2 983V1045M528.6 988V1024M531.0 1024V1050M533.4 1045V1048M535.8 1043V1055M538.2 1055V1093M540.6 1093V1124M543.0 1124V1148M545.4 1124V1160M547.8 1060V1124M550.2 1038V1060M552.6 1040V1048M555.0 1031V1048M557.4 1004V1031M559.8 1002V1019M562.2 1019V1036M564.6 1014V1038M567.0 995V1014M569.4 995V997M571.8 997V1002M574.2 1002V1009M576.6 1009V1019M579.0 1019V1038M581.4 1026V1048M583.8 976V1026M586.2 952V976M588.6 971V1009M591.0 1004V1021M593.3 976V1004M595.7 968V1002M598.1 1002V1050M600.5 980V1057M602.9 892V980M605.3 887V983M607.7 983V1079M610.1 1050V1076M612.5 1026V1050M614.9 1028V1040M617.3 1040V1048M619.7 1024V1043M622.1 1004V1024M624.5 985V1004M626.9 978V995M629.3 995V1031M631.7 1028V1045M634.1 1002V1028M636.5 995V1002M638.9 1000V1009M641.3 973V1009M643.7 928V973M646.1 923V985M648.5 985V1050M650.9 973V1048M653.3 911V973M655.7 913V930M658.1 930V952M660.5 952V983M662.9 983V1007M665.3 1007V1016M667.7 1016V1036M670.1 1036V1064M672.5 1064V1076M674.9 1069V1074M677.3 1009V1069M679.7 925V1009M682.1 908V966M684.5 966V1040M686.9 1040V1052M689.3 1052V1057M691.7 1007V1057M694.1 961V1007M696.5 971V1067M698.9 1067V1141M701.3 1009V1117M703.7 925V1009M706.1 896V925M708.5 880V899M710.9 899V942M713.3 942V961M715.7 940V954M718.1 935V1014M720.5 1014V1136M722.9 1132V1168M725.2 1086V1132M727.6 1024V1086M730.0 959V1024M732.4 952V959M734.8 947V952M737.2 949V968M739.6 968V985M742.0 978V983M744.4 956V978M746.8 899V956M749.2 865V899M751.6 872V892M754.0 892V901M756.4 884V896M758.8 880V968M761.2 968V1112M763.6 1112V1151M766.0 1076V1120M768.4 1048V1076M770.8 1024V1048M773.2 978V1024M775.6 935V978M778.0 937V964M780.4 964V990M782.8 990V1012M785.2 1009V1026M787.6 942V1009M790.0 899V942M792.4 916V959M794.8 959V983M797.2 947V971M799.6 937V997M802.0 997V1098M804.4 992V1129M806.8 791V992M809.2 750V848M811.6 848V968M814.0 968V997M816.4 997V1014M818.8 904V1012M821.2 808V904M823.6 815V865M826.0 865V904M828.4 896V904M830.8 892V896M833.2 896V906M835.6 906V913M838.0 908V911M840.4 880V908M842.8 827V880M845.2 810V856M847.6 856V928M850.0 928V947M852.4 947V952M854.7 911V952M857.1 863V911M859.5 863V952M861.9 952V1036M864.3 956V1028M866.7 899V956M869.1 904V925M871.5 920V942M873.9 851V920M876.3 810V851M878.7 822V853M881.1 853V908M883.5 908V988M885.9 988V1016M888.3 964V995M890.7 942V964M893.1 925V942M895.5 906V925M897.9 887V906M900.3 884V1009M902.7 1009V1129M905.1 961V1120M907.5 829V961M909.9 839V896M912.3 896V935M914.7 908V930M917.1 889V908M919.5 875V889M921.9 865V887M924.3 887V928M926.7 925V944M929.1 894V925M931.5 853V894M933.9 808V853M936.3 800V824M938.7 824V853M941.1 853V868M943.5 868V880M945.9 832V880M948.3 791V832M950.7 793V808M953.1 808V822M955.5 817V820M957.9 800V817M960.3 755V800M962.7 728V755M965.1 750V791M967.5 791V834M969.9 834V880M972.3 877V894M974.7 853V877M977.1 810V853M979.5 762V810M981.9 757V764M984.3 764V772M986.6 769V772M989.0 767V769M991.4 764V767M993.8 757V764M996.2 726V757M998.6 707V726M1001.0 719V755M1003.4 755V774M1005.8 743V764M1008.2 733V743M1010.6 740V755M1013.0 755V760M1015.4 757V760M1017.8 752V757M1020.2 750V752M1022.6 750V788M1025.0 788V832M1027.4 743V832M1029.8 659V743M1032.2 661V712M1034.6 712V752M1037.0 752V760M1039.4 745V767M1041.8 678V745M1044.2 637V678M1046.6 644V666M1049.0 666V676M1051.4 661V671M1053.8 656V685M1056.2 685V731M1058.6 719V743M1061.0 685V719M1063.4 680V772M1065.8 772V882M1068.2 791V889M1070.6 690V791M1073.0 690V695M1075.4 695V697M1077.8 697V712M1080.2 712V724M1082.6 724V738M1085.0 738V748M1087.4 707V738M1089.8 683V707M1092.2 661V683M1094.6 642V661M1097.0 625V642M1099.4 620V680M1101.8 680V767M1104.2 721V784M1106.6 640V721M1109.0 632V680M1111.4 680V731M1113.8 731V733M1116.2 726V731M1118.5 695V726M1120.9 668V695M1123.3 671V680M1125.7 680V688M1128.1 685V688M1130.5 685V688M1132.9 688V695M1135.3 690V700M1137.7 678V690M1140.1 673V695M1142.5 695V731M1144.9 702V738M1147.3 654V702M1149.7 647V654M1152.1 652V659M1154.5 608V659M1156.9 563V608M1159.3 568V628M1161.7 628V678M1164.1 678V692M1166.5 692V704M1168.9 673V697M1171.3 659V673M1173.7 673V714M1176.1 697V733M1178.5 628V697M1180.9 601V628M1183.3 613V630M1185.7 630V654M1188.1 654V685M1190.5 685V688M1192.9 685V688M1195.3 656V685M1197.7 625V656M1200.1 596V625M1202.5 572V596M1204.9 572V575M1207.3 570V577M1209.7 546V570M1212.1 532V546M1214.5 532V534M1216.9 534V544M1219.3 544V560M1221.7 544V568M1224.1 503V544M1226.5 491V503M1228.9 503V520M1231.3 520V529M1233.7 529V539M1236.1 529V539M1238.5 517V529M1240.9 520V556M1243.3 556V587M1245.7 527V580M1248.0 486V527M1250.4 479V486M1252.8 476V488M1255.2 488V522M1257.6 522V541M1260.0 539V541M1262.4 515V539M1264.8 476V515M1267.2 462V476M1269.6 455V462M1272.0 455V474M1274.4 474V496M1276.8 496V510M1279.2 510V522M1281.6 505V522M1284.0 488V505M1286.4 491V520M1288.8 520V544M1291.2 472V529M1293.6 431V472M1296.0 426V431M1298.4 424V440M1300.8 440V476M1303.2 476V493M1305.6 455V479M1308.0 445V476M1310.4 476V522M1312.8 515V534M1315.2 491V515M1317.6 460V491M1320.0 428V460M1322.4 428V445M1324.8 445V460M1327.2 460V467M1329.6 464V472M1332.0 428V464M1334.4 404V428M1336.8 412V440M1339.2 440V462M1341.6 462V474M1344.0 472V479M1346.4 460V472M1348.8 455V460M1351.2 455V457M1353.6 450V460M1356.0 440V450M1358.4 436V440M1360.8 436V438M1363.2 436V462M1365.6 462V488M1368.0 476V488M1370.4 464V476M1372.8 457V464M1375.2 452V457M1377.6 455V462M1379.9 455V467M1382.3 424V455M1384.7 407V424M1387.1 421V455M1389.5 455V472M1391.9 472V481M1394.3 479V484M1396.7 469V479M1399.1 450V469M1401.5 428V450M1403.9 428V443M1406.3 443V460M1408.7 460V479M1411.1 479V498M1413.5 498V503M1415.9 503V510M1418.3 510V520M1420.7 520V524M1423.1 524V527M1425.5 515V527M1427.9 491V515M1430.3 479V491M1432.7 484V491M1435.1 491V515M1437.5 515V546M1439.9 539V553M1442.3 520V539M1444.7 503V520M1447.1 488V503M1449.5 486V517M1451.9 517V544M1454.3 467V536M1456.7 412V467M1459.1 426V491M1461.5 491V553M1463.9 553V616M1466.3 616V654M1468.7 589V635M1471.1 551V589M1473.5 520V551M1475.9 508V527M1478.3 527V558M1480.7 558V570M1483.1 570V575M1485.5 568V577M1487.9 556V568M1490.3 556V589M1492.7 589V623M1495.1 592V623M1497.5 563V592M1499.9 541V563M1502.3 527V541M1504.7 539V582M1507.1 582V608M1509.5 582V601M1511.8 565V582M1514.2 551V565M1516.6 544V560M1519.0 560V589M1521.4 589V601M1523.8 601V606M1526.2 606V664M1528.6 664V731M1531.0 647V736M1533.4 553V647M1535.8 553V580M1538.2 580V608M1540.6 608V654M1543.0 654V688M1545.4 640V678M1547.8 613V640M1550.2 623V652M1552.6 647V666M1555.0 604V647M1557.4 587V604M1559.8 592V601M1562.2 601V644M1564.6 644V707M1567.0 668V719M1569.4 604V668M1571.8 596V644M1574.2 644V697"/><path stroke="#80FFFF" d="M396.7 1184V1216M399.1 1158V1184M401.5 1158V1168M403.9 1168V1175M406.3 1148V1170M408.7 1134V1148M411.1 1148V1189M413.5 1187V1216M415.9 1120V1187M418.3 1088V1120M420.7 1110V1146M423.1 1146V1168M425.5 1168V1182M427.9 1163V1187M430.3 1132V1163M432.7 1110V1132M435.1 1091V1110M437.5 1091V1141M439.9 1141V1189M442.3 1189V1201M444.7 1201V1211M447.1 1180V1206M449.5 1153V1180M451.9 1134V1153M454.3 1105V1134M456.7 1069V1105M459.1 1052V1086M461.4 1086V1153M463.8 1141V1177M466.2 1084V1141M468.6 1069V1105M471.0 1105V1158M473.4 1158V1165M475.8 1153V1160M478.2 1134V1153M480.6 1115V1134M483.0 1098V1115M485.4 1081V1098M487.8 1084V1105M490.2 1105V1122M492.6 1069V1110M495.0 1043V1069M497.4 1048V1062M499.8 1062V1069M502.2 1069V1072M504.6 1069V1081M507.0 1081V1103M509.4 1103V1156M511.8 1156V1223M514.2 1182V1235M516.6 1112V1182M519.0 1105V1141M521.4 1141V1180M523.8 1170V1180M526.2 1153V1170M528.6 1112V1153M531.0 1079V1112M533.4 1067V1079M535.8 1060V1072M538.2 1072V1105M540.6 1105V1134M543.0 1134V1151M545.4 1120V1158M547.8 1050V1120M550.2 1026V1050M552.6 1050V1086M555.0 1086V1093M557.4 1074V1086M559.8 1043V1074M562.2 1009V1043M564.6 1009V1036M567.0 1036V1057M569.4 1052V1057M571.8 1045V1052M574.2 1024V1045M576.6 1007V1031M579.0 1031V1105M581.4 1098V1148M583.8 976V1098M586.2 916V983M588.6 983V1108M591.0 1108V1153M593.3 1098V1132M595.7 1072V1098M598.1 1048V1072M600.5 1043V1069M602.9 1069V1100M605.3 1040V1103M607.7 978V1040M610.1 983V1088M612.5 1088V1175M614.9 1067V1158M617.3 1000V1067M619.7 1014V1064M622.1 1064V1096M624.5 1064V1086M626.9 1052V1064M629.3 1060V1074M631.7 1074V1093M634.1 1093V1112M636.5 1112V1124M638.9 1124V1134M641.3 1105V1136M643.7 1067V1105M646.1 1052V1067M648.5 1043V1052M650.9 1033V1043M653.3 1028V1033M655.7 1031V1052M658.1 1052V1069M660.5 1069V1072M662.9 1045V1069M665.3 980V1045M667.7 944V980M670.1 964V1002M672.5 1002V1021M674.9 992V1009M677.3 988V995M679.7 995V1007M682.1 952V1009M684.5 877V952M686.9 870V896M689.3 896V923M691.7 923V1004M694.1 1004V1076M696.5 1016V1069M698.9 973V1016M701.3 983V1021M703.7 1021V1045M706.1 1000V1036M708.5 980V1000M710.9 995V1028M713.3 1007V1043M715.7 937V1007M718.1 913V968M720.5 968V1050M722.9 1050V1096M725.2 1096V1129M727.6 1055V1134M730.0 964V1055M732.4 961V1043M734.8 1043V1120M737.2 1084V1117M739.6 1045V1084M742.0 997V1045M744.4 961V997M746.8 973V1004M749.2 995V1026M751.6 918V995M754.0 880V918M756.4 906V959M758.8 959V978M761.2 968V976M763.6 968V973M766.0 973V980M768.4 966V980M770.8 949V966M773.2 947V954M775.6 954V961M778.0 961V978M780.4 978V992M782.8 928V983M785.2 877V928M787.6 846V877M790.0 824V870M792.4 870V997M794.8 997V1062M797.2 976V1036M799.6 949V976M802.0 944V949M804.4 944V1014M806.8 1014V1117M809.2 1079V1136M811.6 1009V1079M814.0 1002V1016M816.4 1016V1031M818.8 968V1028M821.2 916V968M823.6 918V937M826.0 937V959M828.4 959V978M830.8 978V990M833.2 964V983M835.6 944V964M838.0 920V944M840.4 908V920M842.8 911V913M845.2 913V925M847.6 925V944M850.0 944V968M852.4 968V992M854.7 942V997M857.1 880V942M859.5 868V880M861.9 851V868M864.3 800V851M866.7 760V800M869.1 769V817M871.5 817V851M873.9 824V844M876.3 815V844M878.7 844V913M881.1 913V971M883.5 971V1014M885.9 1014V1031M888.3 1014V1024M890.7 988V1014M893.1 956V988M895.5 952V971M897.9 971V992M900.3 899V992M902.7 805V899M905.1 812V904M907.5 904V980M909.9 774V949M912.3 644V774M914.7 683V817M917.1 817V899M919.5 868V889M921.9 853V868M924.3 846V853M926.7 829V846M929.1 810V829M931.5 805V860M933.9 860V940M936.3 940V954M938.7 920V940M941.1 906V920M943.5 892V906M945.9 892V904M948.3 904V916M950.7 846V906M953.1 798V846M955.5 808V846M957.9 846V872M960.3 810V856M962.7 784V810M965.1 774V784M967.5 772V791M969.9 791V827M972.3 827V839M974.7 832V836M977.1 815V832M979.5 793V815M981.9 791V858M984.3 858V935M986.6 880V935M989.0 832V880M991.4 834V856M993.8 856V884M996.2 884V937M998.6 937V971M1001.0 841V940M1003.4 786V841M1005.8 812V877M1008.2 875V906M1010.6 817V875M1013.0 796V824M1015.4 824V870M1017.8 817V880M1020.2 731V817M1022.6 719V736M1025.0 736V752M1027.4 752V767M1029.8 767V779M1032.2 779V784M1034.6 784V791M1037.0 791V810M1039.4 810V822M1041.8 812V820M1044.2 800V812M1046.6 776V800M1049.0 764V776M1051.4 760V764M1053.8 760V784M1056.2 784V824M1058.6 812V836M1061.0 784V812M1063.4 762V784M1065.8 743V762M1068.2 743V748M1070.6 748V755M1073.0 738V755M1075.4 721V738M1077.8 700V721M1080.2 685V700M1082.6 695V731M1085.0 731V757M1087.4 757V764M1089.8 764V772M1092.2 772V781M1094.6 774V786M1097.0 752V774M1099.4 728V752M1101.8 700V728M1104.2 695V721M1106.6 721V755M1109.0 755V784M1111.4 784V812M1113.8 772V810M1116.2 738V772M1118.5 731V738M1120.9 724V731M1123.3 724V726M1125.7 726V750M1128.1 750V822M1130.5 822V863M1132.9 748V827M1135.3 712V748M1137.7 724V745M1140.1 719V752M1142.5 666V719M1144.9 642V666M1147.3 625V642M1149.7 623V647M1152.1 647V673M1154.5 673V685M1156.9 685V697M1159.3 697V704M1161.7 704V716M1164.1 716V743M1166.5 731V762M1168.9 623V731M1171.3 560V623M1173.7 577V616M1176.1 616V652M1178.5 652V685M1180.9 685V704M1183.3 704V712M1185.7 683V714M1188.1 640V683M1190.5 604V640M1192.9 568V604M1195.3 568V601M1197.7 601V635M1200.1 601V635M1202.5 572V601M1204.9 551V572M1207.3 536V551M1209.7 551V599M1212.1 599V628M1214.5 592V618M1216.9 580V594M1219.3 594V623M1221.7 623V661M1224.1 661V707M1226.5 659V721M1228.9 572V659M1231.3 536V572M1233.7 515V536M1236.1 512V532M1238.5 532V556M1240.9 556V606M1243.3 606V652M1245.7 572V642M1248.0 515V572M1250.4 491V515M1252.8 474V493M1255.2 493V544M1257.6 544V575M1260.0 575V582M1262.4 582V587M1264.8 587V589M1267.2 536V587M1269.6 462V536M1272.0 445V476M1274.4 476V515M1276.8 515V520M1279.2 510V515M1281.6 481V510M1284.0 452V481M1286.4 443V452M1288.8 438V448M1291.2 448V500M1293.6 500V534M1296.0 476V520M1298.4 450V476M1300.8 464V498M1303.2 498V515M1305.6 515V520M1308.0 474V522M1310.4 404V474M1312.8 385V404M1315.2 397V412M1317.6 412V426M1320.0 426V438M1322.4 438V462M1324.8 462V488M1327.2 488V505M1329.6 505V517M1332.0 452V508M1334.4 412V452M1336.8 419V440M1339.2 440V460M1341.6 460V474M1344.0 474V484M1346.4 484V491M1348.8 479V493M1351.2 457V479M1353.6 450V457M1356.0 457V469M1358.4 426V472M1360.8 371V426M1363.2 368V409M1365.6 409V450M1368.0 436V450M1370.4 424V436M1372.8 433V481M1375.2 481V520M1377.6 474V510M1379.9 452V474M1382.3 452V460M1384.7 460V462M1387.1 457V462M1389.5 457V460M1391.9 457V460M1394.3 457V474M1396.7 474V498M1399.1 448V503M1401.5 378V448M1403.9 371V409M1406.3 409V452M1408.7 452V464M1411.1 464V474M1413.5 469V474M1415.9 467V469M1418.3 467V469M1420.7 455V469M1423.1 414V455M1425.5 392V414M1427.9 402V424M1430.3 424V445M1432.7 445V472M1435.1 472V481M1437.5 479V481M1439.9 479V496M1442.3 496V517M1444.7 512V520M1447.1 505V512M1449.5 503V505M1451.9 498V503M1454.3 500V515M1456.7 515V527M1459.1 491V522M1461.5 472V491M1463.9 479V500M1466.3 500V524M1468.7 524V551M1471.1 544V565M1473.5 503V544M1475.9 488V503M1478.3 496V503M1480.7 503V512M1483.1 512V524M1485.5 510V524M1487.9 491V510M1490.3 491V524M1492.7 524V560M1495.1 560V572M1497.5 572V582M1499.9 572V580M1502.3 563V572M1504.7 553V563M1507.1 548V553M1509.5 548V551M1511.8 546V558M1514.2 558V580M1516.6 572V589M1519.0 544V572M1521.4 536V563M1523.8 563V601M1526.2 592V608M1528.6 575V592M1531.0 572V575M1533.4 575V577M1535.8 575V582M1538.2 582V592M1540.6 592V599M1543.0 599V606M1545.4 606V608M1547.8 604V606M1550.2 596V604M1552.6 592V596M1555.0 589V592M1557.4 587V611M1559.8 611V654M1562.2 647V666M1564.6 618V647M1567.0 611V644M1569.4 644V688M1571.8 654V692M1574.2 608V654"/><path stroke="#FF80FF" d="M396.7 1177V1204M399.1 1204V1228M401.5 1165V1223M403.9 1120V1165M406.3 1127V1156M408.7 1156V1175M411.1 1127V1163M413.5 1105V1127M415.9 1108V1110M418.3 1110V1112M420.7 1112V1115M423.1 1115V1139M425.5 1139V1177M427.9 1177V1199M430.3 1199V1218M432.7 1187V1220M435.1 1151V1187M437.5 1122V1151M439.9 1093V1122M442.3 1052V1093M444.7 1021V1052M447.1 1028V1069M449.5 1069V1103M451.9 1103V1115M454.3 1115V1124M456.7 1100V1117M459.1 1093V1110M461.4 1110V1144M463.8 1134V1158M466.2 1096V1134M468.6 1086V1120M471.0 1120V1168M473.4 1141V1175M475.8 1103V1141M478.2 1086V1103M480.6 1069V1086M483.0 1072V1086M485.4 1086V1098M487.8 1060V1093M490.2 1033V1060M492.6 1055V1134M495.0 1134V1187M497.4 1009V1139M499.8 940V1009M502.2 983V1074M504.6 1074V1112M507.0 1043V1086M509.4 1028V1084M511.8 1084V1160M514.2 1160V1184M516.6 1184V1192M519.0 1132V1194M521.4 1064V1132M523.8 1064V1132M526.2 1132V1189M528.6 1134V1184M531.0 1088V1134M533.4 1055V1088M535.8 1033V1055M538.2 1043V1069M540.6 1069V1086M543.0 1031V1069M545.4 1014V1031M547.8 1028V1055M550.2 1055V1076M552.6 1076V1096M555.0 1096V1100M557.4 1093V1098M559.8 1062V1093M562.2 1028V1062M564.6 1028V1124M567.0 1124V1213M569.4 1144V1206M571.8 1091V1144M574.2 1096V1115M576.6 1112V1127M579.0 1062V1112M581.4 1024V1062M583.8 1004V1024M586.2 997V1038M588.6 1038V1120M591.0 1091V1151M593.3 997V1091M595.7 973V997M598.1 983V995M600.5 990V997M602.9 983V990M605.3 983V1033M607.7 1033V1084M610.1 1076V1084M612.5 1067V1076M614.9 1052V1067M617.3 1043V1052M619.7 1036V1043M622.1 1033V1040M624.5 1040V1060M626.9 1048V1069M629.3 1002V1048M631.7 983V1031M634.1 1031V1108M636.5 1103V1132M638.9 1064V1103M641.3 1057V1064M643.7 1062V1072M646.1 1028V1072M648.5 985V1028M650.9 988V1072M653.3 1072V1146M655.7 1088V1139M658.1 1052V1088M660.5 1060V1091M662.9 1091V1112M665.3 1084V1105M667.7 1064V1084M670.1 1048V1064M672.5 1040V1048M674.9 1043V1050M677.3 1050V1062M679.7 1062V1076M682.1 1076V1086M684.5 1086V1091M686.9 1060V1093M689.3 1026V1060M691.7 1026V1091M694.1 1091V1151M696.5 1134V1148M698.9 1117V1134M701.3 1088V1117M703.7 1052V1088M706.1 1000V1052M708.5 968V1000M710.9 985V1021M713.3 1019V1038M715.7 980V1019M718.1 968V985M720.5 985V1009M722.9 1009V1016M725.2 1007V1012M727.6 1004V1110M730.0 1110V1232M732.4 1086V1237M734.8 942V1086M737.2 944V971M739.6 971V1000M742.0 1000V1031M744.4 1031V1055M746.8 985V1038M749.2 944V985M751.6 925V944M754.0 913V944M756.4 944V1004M758.8 1004V1028M761.2 968V1004M763.6 959V968M766.0 959V961M768.4 956V961M770.8 952V956M773.2 952V964M775.6 964V976M778.0 940V976M780.4 908V940M782.8 916V954M785.2 954V988M787.6 988V1002M790.0 1002V1009M792.4 995V1004M794.8 976V995M797.2 949V976M799.6 935V949M802.0 928V935M804.4 896V928M806.8 856V896M809.2 846V858M811.6 858V870M814.0 870V947M816.4 947V1026M818.8 949V1026M821.2 877V949M823.6 829V877M826.0 793V829M828.4 805V853M830.8 853V884M833.2 877V882M835.6 868V877M838.0 858V868M840.4 853V904M842.8 904V995M845.2 995V1026M847.6 947V995M850.0 925V947M852.4 911V925M854.7 906V911M857.1 901V906M859.5 865V901M861.9 832V865M864.3 839V911M866.7 911V980M869.1 980V1038M871.5 1038V1079M873.9 961V1052M876.3 908V961M878.7 959V1084M881.1 1033V1141M883.5 824V1033M885.9 743V824M888.3 738V743M890.7 736V820M893.1 820V935M895.5 935V954M897.9 932V944M900.3 899V932M902.7 868V899M905.1 868V875M907.5 875V887M909.9 887V940M912.3 940V978M914.7 887V959M917.1 844V887M919.5 846V848M921.9 848V872M924.3 872V920M926.7 846V940M929.1 688V846M931.5 642V731M933.9 731V856M936.3 851V880M938.7 817V851M941.1 815V844M943.5 844V877M945.9 877V916M948.3 916V949M950.7 829V935M953.1 748V829M955.5 767V841M957.9 841V889M960.3 865V882M962.7 827V865M965.1 769V827M967.5 743V772M969.9 772V822M972.3 822V865M974.7 865V908M977.1 875V918M979.5 822V875M981.9 817V853M984.3 853V892M986.6 846V892M989.0 805V846M991.4 805V810M993.8 805V812M996.2 776V805M998.6 755V776M1001.0 767V798M1003.4 798V815M1005.8 793V808M1008.2 755V793M1010.6 697V755M1013.0 676V733M1015.4 733V820M1017.8 820V856M1020.2 856V872M1022.6 846V877M1025.0 810V846M1027.4 769V810M1029.8 731V769M1032.2 733V774M1034.6 774V808M1037.0 808V812M1039.4 808V817M1041.8 776V808M1044.2 755V776M1046.6 743V755M1049.0 719V743M1051.4 678V719M1053.8 664V707M1056.2 707V776M1058.6 764V796M1061.0 724V764M1063.4 668V724M1065.8 611V668M1068.2 606V731M1070.6 731V856M1073.0 791V853M1075.4 738V791M1077.8 740V757M1080.2 757V772M1082.6 724V762M1085.0 700V724M1087.4 704V716M1089.8 716V757M1092.2 757V832M1094.6 832V860M1097.0 810V844M1099.4 728V810M1101.8 625V728M1104.2 604V656M1106.6 656V724M1109.0 724V731M1111.4 716V724M1113.8 692V716M1116.2 668V692M1118.5 671V680M1120.9 680V690M1123.3 666V685M1125.7 654V666M1128.1 666V697M1130.5 697V721M1132.9 721V736M1135.3 697V743M1137.7 616V697M1140.1 587V640M1142.5 640V719M1144.9 707V736M1147.3 668V707M1149.7 664V712M1152.1 712V767M1154.5 731V769M1156.9 692V731M1159.3 652V692M1161.7 618V652M1164.1 623V647M1166.5 647V676M1168.9 676V712M1171.3 712V731M1173.7 709V724M1176.1 683V709M1178.5 649V683M1180.9 637V676M1183.3 676V738M1185.7 688V755M1188.1 596V688M1190.5 565V596M1192.9 546V565M1195.3 544V623M1197.7 623V700M1200.1 664V697M1202.5 630V664M1204.9 608V630M1207.3 594V608M1209.7 606V652M1212.1 652V678M1214.5 630V664M1216.9 613V630M1219.3 616V623M1221.7 623V628M1224.1 628V635M1226.5 630V637M1228.9 620V630M1231.3 618V625M1233.7 625V632M1236.1 589V635M1238.5 541V589M1240.9 541V544M1243.3 536V541M1245.7 498V536M1248.0 472V498M1250.4 488V560M1252.8 560V608M1255.2 572V599M1257.6 536V572M1260.0 488V536M1262.4 469V488M1264.8 484V508M1267.2 508V527M1269.6 527V541M1272.0 541V544M1274.4 544V546M1276.8 512V544M1279.2 479V512M1281.6 479V536M1284.0 536V587M1286.4 541V582M1288.8 505V541M1291.2 491V505M1293.6 479V496M1296.0 496V544M1298.4 544V572M1300.8 524V558M1303.2 498V524M1305.6 479V498M1308.0 472V484M1310.4 484V503M1312.8 496V508M1315.2 481V496M1317.6 469V481M1320.0 455V469M1322.4 455V508M1324.8 508V558M1327.2 517V556M1329.6 481V517M1332.0 457V481M1334.4 440V457M1336.8 440V443M1339.2 443V450M1341.6 450V469M1344.0 462V476M1346.4 433V462M1348.8 424V433M1351.2 424V426M1353.6 424V433M1356.0 433V448M1358.4 448V462M1360.8 462V476M1363.2 469V476M1365.6 462V469M1368.0 455V462M1370.4 450V455M1372.8 455V484M1375.2 484V505M1377.6 457V496M1379.9 433V457M1382.3 445V476M1384.7 476V493M1387.1 448V479M1389.5 436V448M1391.9 445V457M1394.3 457V462M1396.7 448V457M1399.1 448V450M1401.5 448V450M1403.9 448V450M1406.3 443V448M1408.7 443V450M1411.1 450V457M1413.5 457V472M1415.9 472V481M1418.3 457V476M1420.7 443V457M1423.1 450V472M1425.5 472V484M1427.9 452V474M1430.3 440V467M1432.7 467V512M1435.1 505V529M1437.5 472V505M1439.9 450V472M1442.3 431V450M1444.7 428V433M1447.1 433V438M1449.5 433V438M1451.9 431V433M1454.3 433V460M1456.7 460V481M1459.1 455V476M1461.5 438V455M1463.9 452V493M1466.3 493V517M1468.7 445V496M1471.1 421V445M1473.5 436V462M1475.9 462V491M1478.3 491V520M1480.7 512V529M1483.1 491V512M1485.5 488V560M1487.9 560V647M1490.3 556V649M1492.7 464V556M1495.1 469V512M1497.5 512V551M1499.9 551V563M1502.3 563V570M1504.7 570V572M1507.1 563V572M1509.5 539V563M1511.8 527V541M1514.2 541V570M1516.6 563V582M1519.0 532V563M1521.4 524V532M1523.8 529V536M1526.2 536V556M1528.6 556V580M1531.0 580V604M1533.4 604V628M1535.8 570V625M1538.2 520V570M1540.6 527V570M1543.0 570V604M1545.4 594V601M1547.8 582V594M1550.2 563V582M1552.6 553V568M1555.0 568V601M1557.4 601V613M1559.8 606V611M1562.2 565V606M1564.6 508V565M1567.0 496V515M1569.4 515V536M1571.8 536V587M1574.2 587V642"/><path stroke="#404040" d="M396.7 990V1127M399.1 1127V1247M401.5 1153V1240M403.9 1088V1153M406.3 1096V1136M408.7 1136V1163M411.1 1096V1146M413.5 1067V1096M415.9 1081V1117M418.3 1117V1134M420.7 1134V1136M423.1 1117V1134M425.5 1088V1117M427.9 1081V1088M430.3 1088V1100M432.7 1100V1103M435.1 1103V1105M437.5 1103V1129M439.9 1129V1153M442.3 1105V1148M444.7 1057V1105M447.1 1002V1057M449.5 961V1002M451.9 976V1024M454.3 1024V1055M456.7 1055V1060M459.1 1060V1062M461.4 1062V1064M463.8 1062V1076M466.2 1076V1096M468.6 1096V1127M471.0 1127V1165M473.4 1156V1170M475.8 1139V1156M478.2 1129V1139M480.6 1120V1129M483.0 1072V1120M485.4 1033V1072M487.8 1040V1096M490.2 1096V1136M492.6 1136V1141M495.0 1127V1146M497.4 1074V1127M499.8 1048V1074M502.2 1060V1084M504.6 1084V1098M507.0 1098V1108M509.4 1108V1112M511.8 1112V1115M514.2 1112V1134M516.6 1134V1160M519.0 1110V1163M521.4 1052V1110M523.8 1048V1052M526.2 1043V1048M528.6 1048V1086M531.0 1086V1117M533.4 1081V1110M535.8 1057V1081M538.2 1045V1057M540.6 1033V1045M543.0 1019V1033M545.4 1012V1019M547.8 1012V1014M550.2 1014V1028M552.6 1028V1055M555.0 1033V1060M557.4 997V1033M559.8 992V1031M562.2 1031V1074M564.6 1064V1074M567.0 1050V1064M569.4 1007V1050M571.8 973V1007M574.2 990V1064M576.6 1064V1117M579.0 1093V1112M581.4 1062V1093M583.8 1012V1062M586.2 988V1016M588.6 1016V1067M591.0 1048V1086M593.3 985V1048M595.7 952V985M598.1 928V952M600.5 925V966M602.9 966V1016M605.3 1016V1052M607.7 1052V1088M610.1 1009V1084M612.5 949V1009M614.9 959V1019M617.3 1019V1062M619.7 1048V1060M622.1 1033V1048M624.5 1012V1033M626.9 1000V1036M629.3 1036V1110M631.7 1110V1139M634.1 1120V1132M636.5 1086V1120M638.9 1045V1086M641.3 1021V1045M643.7 1000V1021M646.1 1000V1024M648.5 1024V1050M650.9 1019V1048M653.3 995V1019M655.7 997V1028M658.1 1028V1050M660.5 1014V1043M662.9 995V1014M665.3 1004V1033M667.7 1033V1050M670.1 1028V1043M672.5 1007V1028M674.9 980V1007M677.3 964V980M679.7 952V964M682.1 947V973M684.5 973V1007M686.9 1007V1021M689.3 1021V1036M691.7 1028V1036M694.1 1021V1028M696.5 1021V1024M698.9 1024V1028M701.3 1028V1043M703.7 1043V1057M706.1 1057V1064M708.5 1038V1067M710.9 971V1038M713.3 940V971M715.7 949V966M718.1 966V1004M720.5 1004V1052M722.9 1052V1067M725.2 1043V1055M727.6 1021V1043M730.0 997V1021M732.4 988V997M734.8 978V988M737.2 980V1009M739.6 1009V1031M742.0 932V1016M744.4 872V932M746.8 892V964M749.2 964V1004M751.6 944V988M754.0 923V944M756.4 918V923M758.8 889V918M761.2 846V889M763.6 834V846M766.0 841V856M768.4 856V901M770.8 901V956M773.2 956V978M775.6 978V997M778.0 997V1012M780.4 1012V1026M782.8 956V1016M785.2 911V956M787.6 942V1055M790.0 1055V1129M792.4 988V1091M794.8 932V988M797.2 952V990M799.6 990V1007M802.0 971V992M804.4 961V971M806.8 961V964M809.2 959V990M811.6 990V1026M814.0 1014V1028M816.4 995V1014M818.8 942V995M821.2 896V942M823.6 904V973M826.0 973V1028M828.4 1028V1033M830.8 1033V1036M833.2 1033V1036M835.6 1019V1033M838.0 990V1019M840.4 932V990M842.8 851V932M845.2 822V872M847.6 872V949M850.0 920V966M852.4 860V920M854.7 853V872M857.1 872V892M859.5 877V892M861.9 860V877M864.3 815V860M866.7 781V815M869.1 798V892M871.5 892V956M873.9 884V940M876.3 853V884M878.7 870V908M881.1 908V940M883.5 940V964M885.9 944V971M888.3 901V944M890.7 868V901M893.1 839V868M895.5 834V846M897.9 846V856M900.3 844V858M902.7 829V844M905.1 832V848M907.5 848V863M909.9 829V858M912.3 808V829M914.7 820V863M917.1 863V889M919.5 827V872M921.9 788V827M924.3 757V788M926.7 745V805M929.1 805V908M931.5 908V937M933.9 868V908M936.3 829V868M938.7 791V829M941.1 788V872M943.5 872V961M945.9 841V959M948.3 738V841M950.7 750V829M953.1 829V889M955.5 846V880M957.9 817V846M960.3 808V817M962.7 800V829M965.1 829V889M967.5 882V916M969.9 820V882M972.3 781V820M974.7 755V781M977.1 750V755M979.5 755V760M981.9 760V805M984.3 805V853M986.6 853V856M989.0 844V853M991.4 793V844M993.8 752V793M996.2 764V815M998.6 815V851M1001.0 786V834M1003.4 757V800M1005.8 800V901M1008.2 896V949M1010.6 800V896M1013.0 764V800M1015.4 760V764M1017.8 736V760M1020.2 707V736M1022.6 702V740M1025.0 740V788M1027.4 776V788M1029.8 762V776M1032.2 760V762M1034.6 760V767M1037.0 767V808M1039.4 808V836M1041.8 784V824M1044.2 728V784M1046.6 659V728M1049.0 625V685M1051.4 685V803M1053.8 803V848M1056.2 796V829M1058.6 788V796M1061.0 788V791M1063.4 786V791M1065.8 781V786M1068.2 728V781M1070.6 676V728M1073.0 678V714M1075.4 714V745M1077.8 707V740M1080.2 683V707M1082.6 688V702M1085.0 702V719M1087.4 719V736M1089.8 731V743M1092.2 704V731M1094.6 695V709M1097.0 709V736M1099.4 731V743M1101.8 712V731M1104.2 709V726M1106.6 726V748M1109.0 644V748M1111.4 534V644M1113.8 534V666M1116.2 666V779M1118.5 733V774M1120.9 704V733M1123.3 709V733M1125.7 728V748M1128.1 668V728M1130.5 637V668M1132.9 656V702M1135.3 702V721M1137.7 700V714M1140.1 683V700M1142.5 666V683M1144.9 664V697M1147.3 697V743M1149.7 685V748M1152.1 613V685M1154.5 611V652M1156.9 652V690M1159.3 690V692M1161.7 678V690M1164.1 630V678M1166.5 594V630M1168.9 608V649M1171.3 649V683M1173.7 683V704M1176.1 683V716M1178.5 623V683M1180.9 599V623M1183.3 618V647M1185.7 647V654M1188.1 637V647M1190.5 616V637M1192.9 594V616M1195.3 589V594M1197.7 582V589M1200.1 584V606M1202.5 606V625M1204.9 534V611M1207.3 479V534M1209.7 486V515M1212.1 515V534M1214.5 517V529M1216.9 510V517M1219.3 505V510M1221.7 503V517M1224.1 517V536M1226.5 536V544M1228.9 534V539M1231.3 534V565M1233.7 565V604M1236.1 558V608M1238.5 505V558M1240.9 505V536M1243.3 536V563M1245.7 534V560M1248.0 512V534M1250.4 510V512M1252.8 508V510M1255.2 510V520M1257.6 520V532M1260.0 532V551M1262.4 517V560M1264.8 445V517M1267.2 421V464M1269.6 464V532M1272.0 524V546M1274.4 500V524M1276.8 496V510M1279.2 510V522M1281.6 510V522M1284.0 498V510M1286.4 488V498M1288.8 479V491M1291.2 491V546M1293.6 546V582M1296.0 512V565M1298.4 479V512M1300.8 469V479M1303.2 455V469M1305.6 436V455M1308.0 431V440M1310.4 440V457M1312.8 457V462M1315.2 460V462M1317.6 440V460M1320.0 419V440M1322.4 416V464M1324.8 464V510M1327.2 484V508M1329.6 462V484M1332.0 460V462M1334.4 440V460M1336.8 388V440M1339.2 356V388M1341.6 376V426M1344.0 426V462M1346.4 462V484M1348.8 484V493M1351.2 481V488M1353.6 469V481M1356.0 457V469M1358.4 455V469M1360.8 469V486M1363.2 467V488M1365.6 448V467M1368.0 448V464M1370.4 464V476M1372.8 457V474M1375.2 445V457M1377.6 445V448M1379.9 448V460M1382.3 460V484M1384.7 481V496M1387.1 455V481M1389.5 445V462M1391.9 462V493M1394.3 488V503M1396.7 464V488M1399.1 443V464M1401.5 424V443M1403.9 421V460M1406.3 460V498M1408.7 476V498M1411.1 455V476M1413.5 457V469M1415.9 469V476M1418.3 469V476M1420.7 467V474M1423.1 474V496M1425.5 496V517M1427.9 517V536M1430.3 536V546M1432.7 517V536M1435.1 512V517M1437.5 512V515M1439.9 510V515M1442.3 508V510M1444.7 498V508M1447.1 488V498M1449.5 488V496M1451.9 496V505M1454.3 505V524M1456.7 524V539M1459.1 515V536M1461.5 503V515M1463.9 503V505M1466.3 505V512M1468.7 512V527M1471.1 512V534M1473.5 472V512M1475.9 457V486M1478.3 486V529M1480.7 529V565M1483.1 565V594M1485.5 587V599M1487.9 572V587M1490.3 572V594M1492.7 594V616M1495.1 599V616M1497.5 584V599M1499.9 572V584M1502.3 563V572M1504.7 565V577M1507.1 577V582M1509.5 572V580M1511.8 568V575M1514.2 575V587M1516.6 582V594M1519.0 563V582M1521.4 534V563M1523.8 503V534M1526.2 496V558M1528.6 558V635M1531.0 635V644M1533.4 644V647M1535.8 630V647M1538.2 616V630M1540.6 618V649M1543.0 649V673M1545.4 661V671M1547.8 647V661M1550.2 628V647M1552.6 616V628M1555.0 611V616M1557.4 608V613M1559.8 613V623M1562.2 620V625M1564.6 611V620M1567.0 589V611M1569.4 563V589M1571.8 560V568M1574.2 568V572"/><path stroke="#000000" d="M396.7 1115V1136M399.1 1098V1115M401.5 1105V1170M403.9 1170V1223M406.3 1127V1206M408.7 1076V1127M411.1 1086V1117M413.5 1117V1136M415.9 1074V1117M418.3 1055V1093M420.7 1093V1168M423.1 1168V1196M425.5 1141V1175M427.9 1134V1151M430.3 1151V1172M432.7 1139V1175M435.1 1098V1139M437.5 1098V1160M439.9 1160V1218M442.3 1156V1213M444.7 1108V1156M447.1 1103V1108M449.5 1098V1105M451.9 1105V1132M454.3 1132V1148M456.7 1141V1146M459.1 1110V1141M461.4 1055V1110M463.8 1036V1057M466.2 1057V1098M468.6 1098V1108M471.0 1105V1108M473.4 1103V1112M475.8 1112V1120M478.2 1072V1120M480.6 1021V1072M483.0 1021V1055M485.4 1055V1088M487.8 1088V1141M490.2 1141V1182M492.6 1127V1170M495.0 1100V1127M497.4 1105V1122M499.8 1098V1129M502.2 1036V1098M504.6 1009V1036M507.0 1031V1072M509.4 1050V1084M511.8 1002V1050M514.2 992V1002M516.6 1000V1012M519.0 1012V1062M521.4 1062V1115M523.8 1115V1117M526.2 1112V1115M528.6 1110V1112M531.0 1108V1110M533.4 1108V1112M535.8 1093V1115M538.2 1031V1093M540.6 997V1038M543.0 1038V1127M545.4 1127V1165M547.8 1141V1156M550.2 1103V1141M552.6 1057V1103M555.0 1040V1057M557.4 1036V1040M559.8 995V1036M562.2 952V995M564.6 949V1036M567.0 1036V1112M569.4 1103V1112M571.8 1093V1103M574.2 1086V1093M576.6 1081V1091M579.0 1091V1124M581.4 1124V1160M583.8 1160V1206M586.2 1170V1228M588.6 1062V1170M591.0 1021V1062M593.3 1038V1062M595.7 1062V1105M598.1 1105V1151M600.5 1122V1160M602.9 1076V1122M605.3 1074V1108M607.7 1108V1141M610.1 1105V1139M612.5 1079V1105M614.9 1084V1112M617.3 1112V1132M619.7 1081V1120M622.1 1057V1081M624.5 1060V1067M626.9 1052V1072M629.3 1012V1052M631.7 997V1012M634.1 1009V1028M636.5 1014V1033M638.9 988V1014M641.3 983V1052M643.7 1052V1141M646.1 1141V1151M648.5 1148V1153M650.9 1052V1148M653.3 966V1052M655.7 966V968M658.1 966V973M660.5 973V1002M662.9 1002V1021M665.3 954V1004M667.7 928V954M670.1 949V995M672.5 992V1014M674.9 952V992M677.3 940V952M679.7 952V973M682.1 973V978M684.5 966V973M686.9 947V966M689.3 925V947M691.7 925V976M694.1 976V1021M696.5 1016V1021M698.9 1007V1016M701.3 990V1007M703.7 978V992M706.1 992V1033M708.5 1033V1057M710.9 1000V1040M713.3 952V1000M715.7 896V952M718.1 877V949M720.5 949V1057M722.9 1038V1086M725.2 976V1038M727.6 966V1028M730.0 1028V1098M732.4 1002V1100M734.8 906V1002M737.2 916V1031M739.6 1031V1124M742.0 1000V1103M744.4 925V1000M746.8 930V944M749.2 944V952M751.6 928V944M754.0 918V928M756.4 916V918M758.8 913V916M761.2 913V916M763.6 913V923M766.0 923V935M768.4 935V949M770.8 949V964M773.2 964V976M775.6 976V985M778.0 985V988M780.4 976V988M782.8 899V976M785.2 839V899M787.6 858V928M790.0 928V973M792.4 896V952M794.8 868V896M797.2 889V937M799.6 937V971M802.0 971V997M804.4 983V1007M806.8 952V983M809.2 944V952M811.6 944V947M814.0 944V952M816.4 952V959M818.8 947V959M821.2 935V947M823.6 918V935M826.0 894V918M828.4 848V894M830.8 817V848M833.2 836V899M835.6 899V940M838.0 940V959M840.4 956V966M842.8 937V956M845.2 925V937M847.6 918V925M850.0 916V918M852.4 913V916M854.7 834V913M857.1 745V834M859.5 743V851M861.9 851V952M864.3 935V949M866.7 920V935M869.1 904V920M871.5 889V904M873.9 877V889M876.3 870V896M878.7 896V961M881.1 961V992M883.5 906V964M885.9 887V906M888.3 889V892M890.7 892V896M893.1 896V901M895.5 901V954M897.9 954V1016M900.3 928V1019M902.7 836V928M905.1 841V892M907.5 892V932M909.9 892V928M912.3 868V892M914.7 872V882M917.1 882V916M919.5 916V978M921.9 978V1009M924.3 913V978M926.7 882V913M929.1 872V882M931.5 870V877M933.9 877V884M936.3 884V916M938.7 916V952M941.1 906V956M943.5 853V906M945.9 856V971M948.3 971V1069M950.7 992V1060M953.1 911V992M955.5 791V911M957.9 712V791M960.3 719V740M962.7 740V762M965.1 762V784M967.5 784V829M969.9 829V894M972.3 894V916M974.7 901V908M977.1 887V901M979.5 870V887M981.9 841V870M984.3 808V841M986.6 808V839M989.0 839V868M991.4 868V904M993.8 904V932M996.2 853V918M998.6 808V853M1001.0 815V832M1003.4 832V848M1005.8 848V863M1008.2 832V870M1010.6 764V832M1013.0 740V764M1015.4 755V779M1017.8 779V803M1020.2 803V827M1022.6 827V829M1025.0 824V827M1027.4 824V832M1029.8 832V836M1032.2 836V858M1034.6 858V877M1037.0 877V880M1039.4 870V880M1041.8 836V870M1044.2 817V853M1046.6 853V947M1049.0 947V995M1051.4 872V952M1053.8 824V872M1056.2 796V824M1058.6 788V796M1061.0 788V793M1063.4 791V793M1065.8 788V791M1068.2 728V788M1070.6 671V728M1073.0 673V733M1075.4 733V786M1077.8 786V812M1080.2 812V832M1082.6 776V820M1085.0 743V776M1087.4 721V743M1089.8 709V721M1092.2 709V712M1094.6 712V724M1097.0 724V743M1099.4 736V748M1101.8 716V736M1104.2 712V716M1106.6 716V724M1109.0 702V724M1111.4 678V702M1113.8 676V678M1116.2 673V680M1118.5 680V736M1120.9 736V779M1123.3 680V760M1125.7 628V680M1128.1 632V644M1130.5 644V673M1132.9 673V716M1135.3 707V738M1137.7 652V707M1140.1 632V652M1142.5 640V649M1144.9 649V680M1147.3 680V719M1149.7 716V724M1152.1 709V716M1154.5 709V712M1156.9 709V712M1159.3 695V709M1161.7 673V695M1164.1 618V673M1166.5 580V618M1168.9 601V676M1171.3 676V719M1173.7 676V707M1176.1 661V678M1178.5 678V707M1180.9 707V733M1183.3 733V755M1185.7 724V762M1188.1 673V724M1190.5 654V673M1192.9 640V654M1195.3 584V640M1197.7 529V584M1200.1 517V529M1202.5 505V517M1204.9 517V582M1207.3 582V630M1209.7 594V620M1212.1 577V594M1214.5 582V594M1216.9 594V599M1219.3 599V601M1221.7 601V613M1224.1 613V635M1226.5 616V642M1228.9 580V616M1231.3 572V580M1233.7 580V589M1236.1 589V592M1238.5 587V589M1240.9 527V587M1243.3 476V527M1245.7 484V536M1248.0 536V577M1250.4 577V589M1252.8 582V599M1255.2 541V582M1257.6 508V541M1260.0 484V508M1262.4 472V484M1264.8 481V493M1267.2 493V508M1269.6 508V520M1272.0 520V544M1274.4 544V570M1276.8 546V572M1279.2 517V546M1281.6 517V532M1284.0 532V546M1286.4 510V544M1288.8 484V510M1291.2 500V577M1293.6 577V632M1296.0 548V611M1298.4 500V548M1300.8 474V500M1303.2 448V474M1305.6 421V448M1308.0 412V421M1310.4 421V440M1312.8 440V464M1315.2 464V488M1317.6 488V498M1320.0 498V503M1322.4 503V510M1324.8 510V517M1327.2 500V515M1329.6 488V500M1332.0 496V539M1334.4 539V568M1336.8 505V553M1339.2 476V505M1341.6 479V486M1344.0 476V488M1346.4 455V476M1348.8 443V455M1351.2 438V443M1353.6 438V450M1356.0 450V469M1358.4 462V472M1360.8 448V462M1363.2 443V448M1365.6 438V443M1368.0 438V440M1370.4 440V448M1372.8 448V476M1375.2 476V496M1377.6 469V491M1379.9 457V469M1382.3 469V503M1384.7 500V520M1387.1 462V500M1389.5 448V467M1391.9 467V503M1394.3 479V512M1396.7 431V479M1399.1 421V443M1401.5 443V472M1403.9 472V500M1406.3 500V529M1408.7 529V541M1411.1 541V551M1413.5 508V546M1415.9 476V508M1418.3 469V476M1420.7 460V469M1423.1 438V460M1425.5 426V438M1427.9 438V464M1430.3 464V484M1432.7 484V493M1435.1 491V498M1437.5 481V491M1439.9 479V486M1442.3 486V496M1444.7 460V498M1447.1 416V460M1449.5 416V476M1451.9 476V532M1454.3 491V527M1456.7 462V491M1459.1 469V500M1461.5 500V522M1463.9 512V520M1466.3 486V512M1468.7 436V486M1471.1 409V440M1473.5 440V500M1475.9 500V522M1478.3 496V512M1480.7 491V496M1483.1 493V498M1485.5 486V498M1487.9 469V486M1490.3 467V520M1492.7 520V572M1495.1 556V570M1497.5 534V556M1499.9 484V534M1502.3 448V484M1504.7 462V520M1507.1 520V556M1509.5 541V551M1511.8 536V544M1514.2 544V558M1516.6 558V568M1519.0 568V570M1521.4 570V572M1523.8 572V575M1526.2 572V575M1528.6 570V572M1531.0 534V570M1533.4 493V534M1535.8 496V532M1538.2 532V565M1540.6 565V582M1543.0 582V594M1545.4 592V594M1547.8 589V594M1550.2 594V611M1552.6 611V642M1555.0 642V688M1557.4 680V707M1559.8 630V680M1562.2 608V630M1564.6 601V608M1567.0 589V601M1569.4 577V589M1571.8 575V652M1574.2 652V738"/><path stroke="#000000" d="M1043.7 495V640"/><path stroke="#808080" d="M1046.1 529V640"/><path stroke="#00FF00" d="M879.5 626V760"/><path stroke="#FF0080" d="M805.7 705V830"/><path stroke="#FF8000" d="M836.6 721V830"/><path stroke="#000000" d="M713.2 754V860"/><path stroke="#FF00FF" d="M603.6 795V900"/><path stroke="#FFFF00" d="M677.3 804V900"/><path stroke="#000000" d="M1024.0 621V720"/><path stroke="#80FFFF" d="M720.3 1100V1246"/><path stroke="#008080" d="M576.0 1150V1246"/><path stroke="#000000" d="M929.0 1045V1113"/><path stroke="#008000" d="M744.0 1100V1191"/><path stroke="#FF0080" d="M798.0 1080V1160"/><path stroke="#000080" d="M822.0 1080V1160"/><path stroke="#C0C0C0" d="M965.0 980V1037"/><path stroke="#000000" d="M725.0 1100V1210"/></g><polygon points="422.7,409.8 572.7,259.8 1032.8,259.8 882.8,409.8" fill="#DFE6F0" stroke="#555" stroke-width="1.4" stroke-linejoin="round"/><polygon points="422.7,409.8 882.8,409.8 882.8,448.3 422.7,448.3" fill="#DAD9D9" stroke="#262626" stroke-width="1.9" stroke-linejoin="round"/><polygon points="422.7,448.3 882.8,448.3 882.8,545.6 422.7,545.6" fill="#A7CDF0" stroke="#262626" stroke-width="1.9" stroke-linejoin="round"/><polygon points="882.8,409.8 1032.8,259.8 1032.8,298.3 882.8,448.3" fill="#8E9299" stroke="#262626" stroke-width="1.4" stroke-linejoin="round"/><polygon points="882.8,448.3 1032.8,298.3 1032.8,395.6 882.8,545.6" fill="#647B94" stroke="#262626" stroke-width="1.4" stroke-linejoin="round"/><polygon points="780.0,367.4 930.0,217.4 1032.8,217.4 882.8,367.4" fill="#FFFB1A" stroke="#444" stroke-width="1.4" stroke-linejoin="round"/><polygon points="882.8,367.4 1032.8,217.4 1032.8,259.8 882.8,409.8" fill="#ADA600" stroke="#222" stroke-width="1.4" stroke-linejoin="round"/><polygon points="780.0,367.4 882.8,367.4 882.8,409.8 780.0,409.8" fill="#FFC900" stroke="#1a1a1a" stroke-width="1.9" stroke-linejoin="round"/><polygon points="589.5,176.6 837.7,139.9 857.0,154.5 615.7,193.5" fill="#FFE46E" stroke="#a9b8c8" stroke-width="0.8" stroke-linejoin="round"/><polygon points="615.7,193.5 857.0,154.5 863.8,154.5 863.8,172.7 615.7,209.0" fill="#ED7D31"/><polygon points="589.5,176.6 615.7,193.5 615.7,209.0 589.5,193.2" fill="#8E4B1E"/><polygon points="619.2,207.5 681.1,198.0 659.1,335.1" fill="#FFC000"/><line x1="856" y1="154.2" x2="899" y2="154.2" stroke="#000" stroke-width="3.2" stroke-linecap="butt"/><rect x="899.4" y="119.8" width="82.4" height="62.6" fill="#fff" stroke="#111" stroke-width="3"/><text x="940.6" y="160" font-family="'Liberation Sans', Arial, sans-serif" font-size="31.5" text-anchor="middle" fill="#111">SCM</text><polyline points="982,150.2 1074.6,150.2 1074.6,198" fill="none" stroke="#111" stroke-width="3.2"/><line x1="1046.9" y1="198.6" x2="1103.9" y2="198.6" stroke="#000" stroke-width="3.2" stroke-linecap="butt"/><line x1="1054.5" y1="205.6" x2="1094.7" y2="205.6" stroke="#000" stroke-width="3.2" stroke-linecap="butt"/><line x1="1064.5" y1="212.8" x2="1087.1" y2="212.8" stroke="#000" stroke-width="3.2" stroke-linecap="butt"/><line x1="969.7" y1="289.5" x2="1054.5" y2="289.5" stroke="#000" stroke-width="3.2" stroke-linecap="butt"/><line x1="1054.5" y1="273.1" x2="1054.5" y2="306.6" stroke="#000" stroke-width="4.2" stroke-linecap="butt"/><line x1="1061.7" y1="259.7" x2="1061.7" y2="317" stroke="#000" stroke-width="4.2" stroke-linecap="butt"/><line x1="1061.7" y1="289.5" x2="1084.5" y2="289.5" stroke="#000" stroke-width="3.2" stroke-linecap="butt"/><circle cx="1107.2" cy="291.7" r="22.2" fill="none" stroke="#111" stroke-width="2.6"/><path d="M1091,292.5 C1096,282 1103,284.5 1107,288.5 C1111,292.5 1117,296 1122,285.5" fill="none" stroke="#111" stroke-width="2.2"/><polyline points="1129.5,289.5 1155.2,289.5 1155.2,339" fill="none" stroke="#111" stroke-width="3.2"/><line x1="1126.9" y1="339.2" x2="1185" y2="339.2" stroke="#000" stroke-width="3.2" stroke-linecap="butt"/><line x1="1135" y1="346.8" x2="1175.3" y2="346.8" stroke="#000" stroke-width="3.2" stroke-linecap="butt"/><line x1="1143.2" y1="353.6" x2="1166.3" y2="353.6" stroke="#000" stroke-width="3.2" stroke-linecap="butt"/><text transform="translate(475.5,394.2) scale(0.95,1)" font-family="'Liberation Sans', Arial, sans-serif" font-size="47" fill="#111">AlN</text><text transform="translate(466,505.5) scale(0.957,1)" font-family="'Liberation Sans', Arial, sans-serif" font-size="47" fill="#111">GaN</text><polygon points="1353.8,610.5 1356.9,610.5 1359.0,615.6 1359.0,626.0 1361.0,626.0 1361.0,632.0 1359.0,632.0 1359.0,761.5 1361.0,761.5 1361.0,893.2 1353.8,893.2 1353.8,761.5 1351.8,761.5 1351.8,632.0 1349.3,632.0 1349.3,626.0 1351.8,626.0 1351.8,615.6" fill="#000"/><text x="357.5" y="1271.7" font-family="'Liberation Sans', Arial, sans-serif" font-size="92" text-anchor="end">0.00</text><text x="357.5" y="977.2" font-family="'Liberation Sans', Arial, sans-serif" font-size="92" text-anchor="end">0.05</text><text x="357.5" y="682.6" font-family="'Liberation Sans', Arial, sans-serif" font-size="92" text-anchor="end">0.10</text><text x="357.5" y="388.0" font-family="'Liberation Sans', Arial, sans-serif" font-size="92" text-anchor="end">0.15</text><text x="357.5" y="93.5" font-family="'Liberation Sans', Arial, sans-serif" font-size="92" text-anchor="end">0.20</text><text x="394.5" y="1358" font-family="'Liberation Sans', Arial, sans-serif" font-size="93" text-anchor="middle">-5</text><text x="576.0" y="1358" font-family="'Liberation Sans', Arial, sans-serif" font-size="93" text-anchor="middle">-4</text><text x="757.5" y="1358" font-family="'Liberation Sans', Arial, sans-serif" font-size="93" text-anchor="middle">-3</text><text x="939.1" y="1358" font-family="'Liberation Sans', Arial, sans-serif" font-size="93" text-anchor="middle">-2</text><text x="1120.6" y="1358" font-family="'Liberation Sans', Arial, sans-serif" font-size="93" text-anchor="middle">-1</text><text x="1302.1" y="1358" font-family="'Liberation Sans', Arial, sans-serif" font-size="93" text-anchor="middle">0</text><text x="1483.6" y="1358" font-family="'Liberation Sans', Arial, sans-serif" font-size="93" text-anchor="middle">1</text><text transform="translate(102,693) rotate(-90)" font-family="'Liberation Sans', Arial, sans-serif" font-size="92.5" text-anchor="middle">dC/dV (a.u.)</text><text x="819.5" y="1447" font-family="'Liberation Sans', Arial, sans-serif" font-size="93">V</text><text x="881" y="1482" font-family="'Liberation Sans', Arial, sans-serif" font-size="57">tip</text><text x="966" y="1447" font-family="'Liberation Sans', Arial, sans-serif" font-size="93" letter-spacing="1.5">(Volt)</text><text x="1177" y="980" font-family="'Liberation Sans', Arial, sans-serif" font-size="79">V</text><text x="1231" y="1010" font-family="'Liberation Sans', Arial, sans-serif" font-size="48">FB</text><text x="1294" y="980" font-family="'Liberation Sans', Arial, sans-serif" font-size="79">=<tspan dx="3.8">0.3</tspan><tspan dx="4.9"> V</tspan></text></svg>
</body></html>
